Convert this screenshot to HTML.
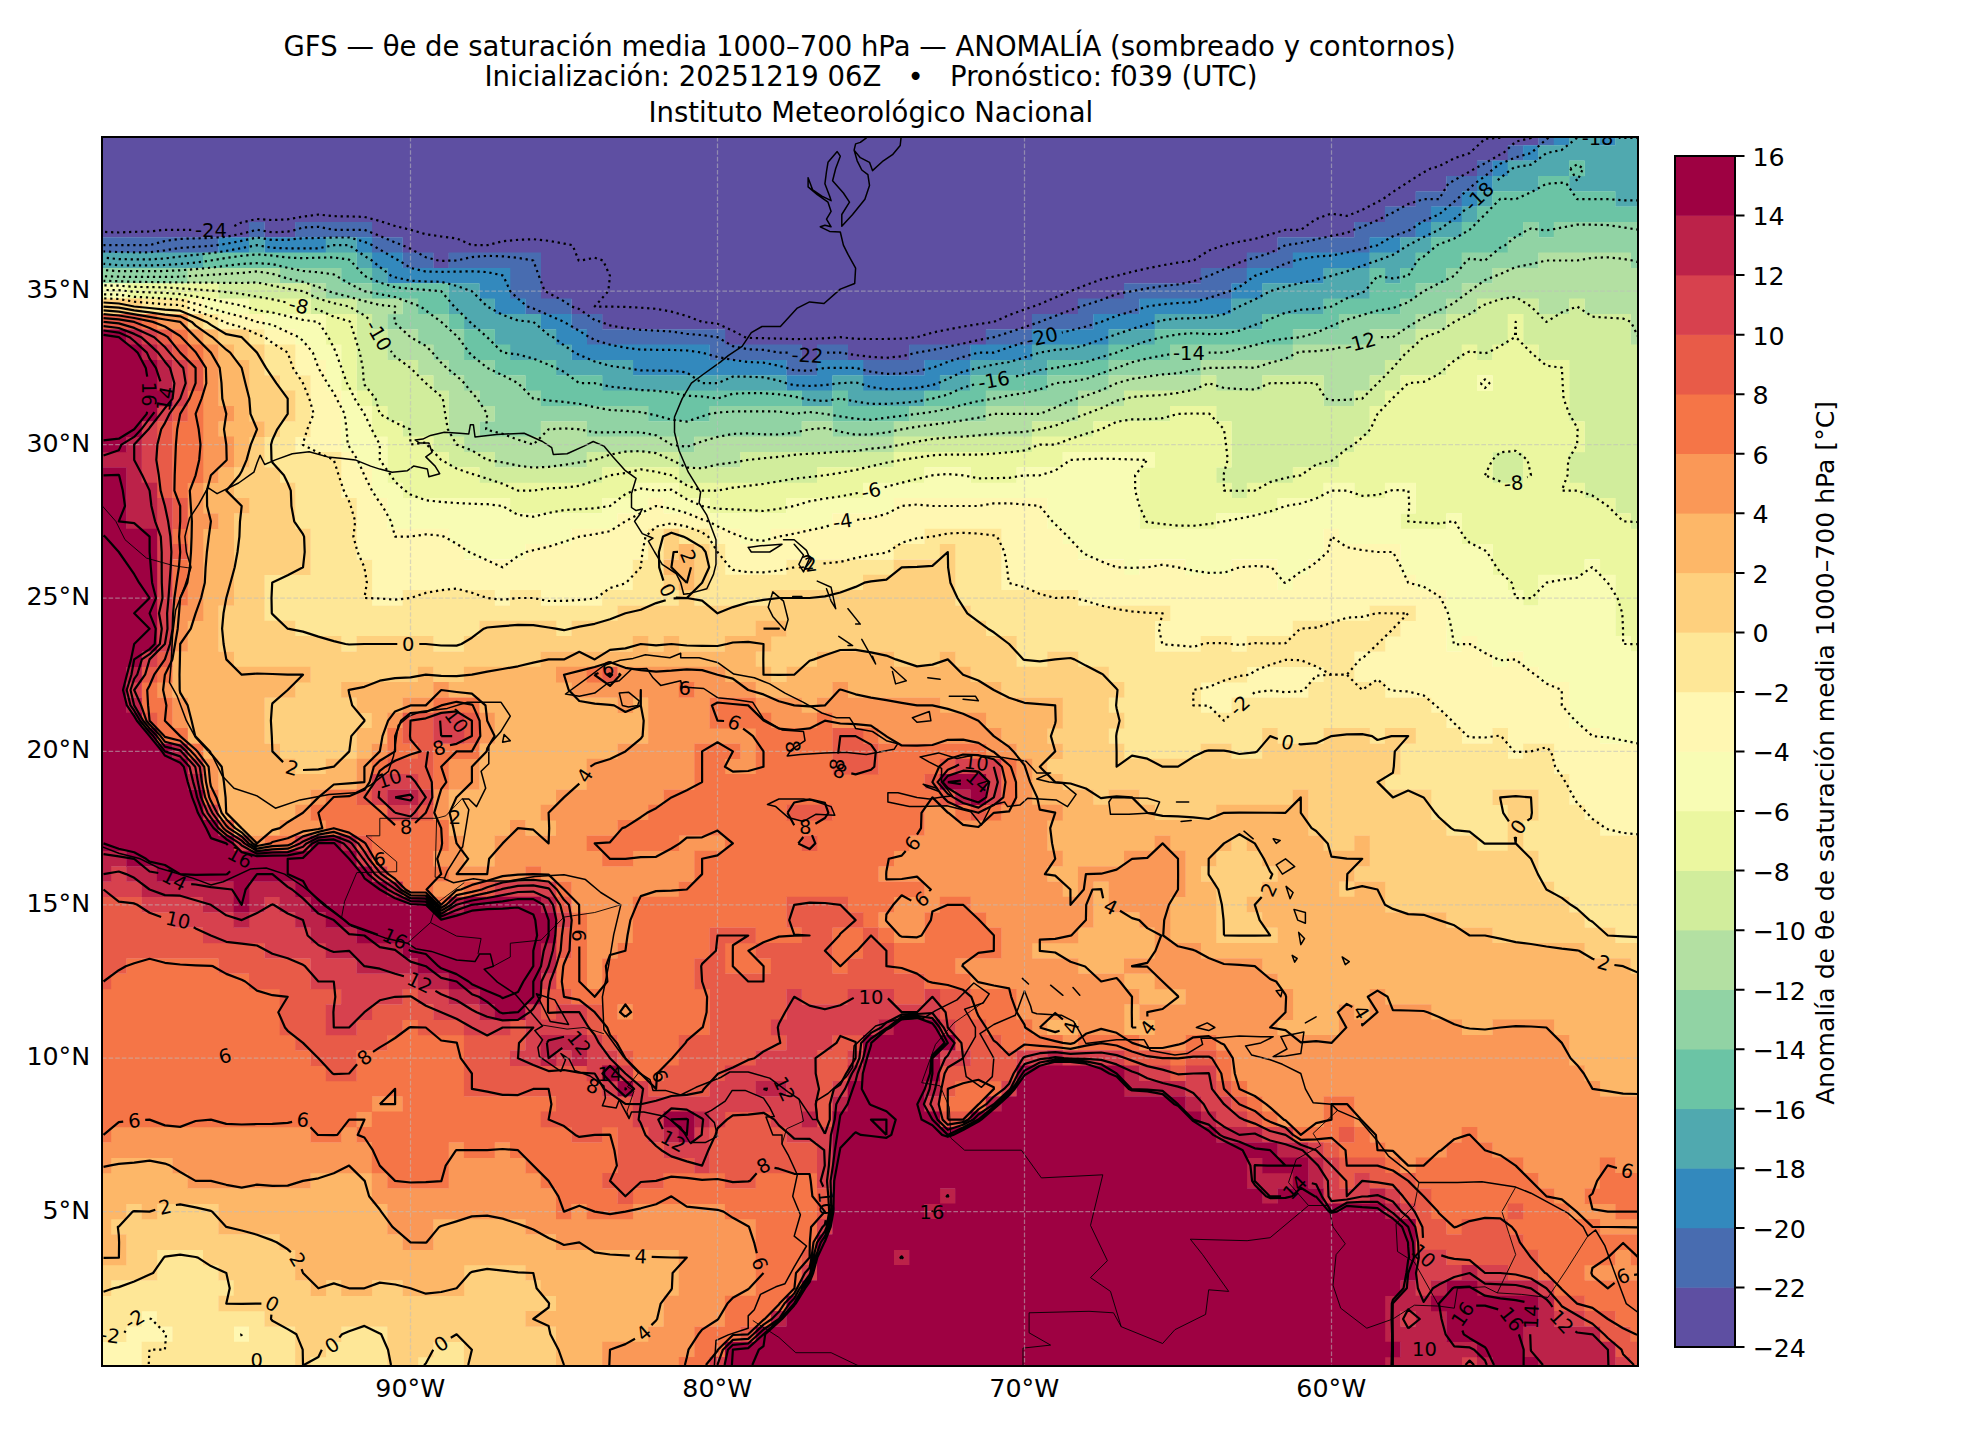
<!DOCTYPE html>
<html lang="es"><head><meta charset="utf-8"><title>GFS θe de saturación — anomalía</title>
<style>
html,body{margin:0;padding:0;background:#fff}
svg{display:block}
text{font-family:"DejaVu Sans","Liberation Sans",sans-serif;fill:#000}
.t{font-size:27.5px;text-anchor:middle;white-space:pre}
.k{font-size:25.3px}
.cl{font-size:19.5px;text-anchor:middle}
.cn{fill:none;stroke:#000;stroke-width:2.2;stroke-dasharray:2.25 3.75;stroke-linecap:butt;stroke-linejoin:round}
.cp{fill:none;stroke:#000;stroke-width:2.2;stroke-linejoin:round}
.coast{fill:none;stroke:#000;stroke-width:1.5;stroke-linejoin:round;stroke-linecap:round}
.bord{fill:none;stroke:#000;stroke-width:0.9;stroke-linejoin:round}
.grid{fill:none;stroke:#bdbdbd;stroke-opacity:.55;stroke-width:1.25;stroke-dasharray:4.6 2}
</style></head><body>
<svg width="1980" height="1440" viewBox="0 0 1980 1440">
<rect width="1980" height="1440" fill="#fff"/>
<text class="t" x="869.7" y="55.9" xml:space="preserve">GFS — θe de saturación media 1000–700 hPa — ANOMALÍA (sombreado y contornos)</text>
<text class="t" x="871" y="86.2" xml:space="preserve">Inicialización: 20251219 06Z   •   Pronóstico: f039 (UTC)</text>
<text class="t" x="870.8" y="122" xml:space="preserve">Instituto Meteorológico Nacional</text>
<defs><clipPath id="mc"><rect x="102.0" y="137.0" width="1536.0" height="1229.0"/></clipPath></defs>
<g clip-path="url(#mc)">
<path fill="#5e4fa2" d="M801.6 344.6H817.3V360.2H801.6ZM847.7 344.6H909.4V360.2H847.7ZM724.9 329.2H986.1V344.9H724.9ZM602.1 313.9H1032.2V329.6H602.1ZM571.4 298.6H1078.2V314.2H571.4ZM540.7 283.2H1124.3V298.9H540.7ZM540.7 267.9H1201V283.5H540.7ZM433.2 252.6H448.9V268.2H433.2ZM540.7 252.6H1247.1V268.2H540.7ZM402.5 237.2H1277.8V252.9H402.5ZM102 221.9H249.3V237.5H102ZM264.4 221.9H295.4V237.5H264.4ZM371.8 221.9H1354.5V237.5H371.8ZM102 206.5H1385.2V222.2H102ZM102 191.2H1415.9V206.8H102ZM102 175.9H1446.6V191.5H102ZM102 160.5H1477.3V176.2H102ZM102 145.2H1508V160.8H102ZM102 137H1538.7V145.5H102Z"/>
<path fill="#486cb0" d="M786.3 359.9H817.3V375.6H786.3ZM863 359.9H924.7V375.6H863ZM709.5 344.6H801.9V360.2H709.5ZM817 344.6H848V360.2H817ZM909.1 344.6H970.8V360.2H909.1ZM586.7 329.2H725.2V344.9H586.7ZM985.8 329.2H1032.2V344.9H985.8ZM571.4 313.9H602.4V329.6H571.4ZM1031.9 313.9H1093.6V329.6H1031.9ZM525.3 298.6H571.7V314.2H525.3ZM1077.9 298.6H1139.6V314.2H1077.9ZM510 283.2H541V298.9H510ZM1124 283.2H1231.7V298.9H1124ZM510 267.9H541V283.5H510ZM1200.7 267.9H1247.1V283.5H1200.7ZM402.5 252.6H433.5V268.2H402.5ZM448.6 252.6H541V268.2H448.6ZM1246.8 252.6H1293.1V268.2H1246.8ZM102 237.2H218.6V252.9H102ZM371.8 237.2H402.8V252.9H371.8ZM1277.5 237.2H1369.9V252.9H1277.5ZM249 221.9H264.7V237.5H249ZM295.1 221.9H372.1V237.5H295.1ZM1354.2 221.9H1415.9V237.5H1354.2ZM1384.9 206.5H1431.3V222.2H1384.9ZM1415.6 191.2H1462V206.8H1415.6ZM1446.3 175.9H1477.3V191.5H1446.3ZM1477 160.5H1492.7V176.2H1477ZM1507.7 145.2H1523.4V160.8H1507.7ZM1538.4 137H1554.1V145.5H1538.4Z"/>
<path fill="#3389bd" d="M786.3 375.3H832.6V390.9H786.3ZM863 375.3H940.1V390.9H863ZM632.8 359.9H786.6V375.6H632.8ZM817 359.9H863.3V375.6H817ZM924.4 359.9H970.8V375.6H924.4ZM571.4 344.6H709.8V360.2H571.4ZM970.5 344.6H1032.2V360.2H970.5ZM556 329.2H587V344.9H556ZM1031.9 329.2H1108.9V344.9H1031.9ZM540.7 313.9H571.7V329.6H540.7ZM1093.3 313.9H1155V329.6H1093.3ZM494.6 298.6H525.6V314.2H494.6ZM1139.3 298.6H1231.7V314.2H1139.3ZM479.3 283.2H510.3V298.9H479.3ZM1231.4 283.2H1262.4V298.9H1231.4ZM387.2 267.9H510.3V283.5H387.2ZM1246.8 267.9H1323.8V283.5H1246.8ZM371.8 252.6H402.8V268.2H371.8ZM1292.8 252.6H1369.9V268.2H1292.8ZM218.3 237.2H249.3V252.9H218.3ZM264.4 237.2H326.1V252.9H264.4ZM356.5 237.2H372.1V252.9H356.5ZM1369.6 237.2H1400.6V252.9H1369.6ZM1415.6 221.9H1431.3V237.5H1415.6ZM1431 206.5H1462V222.2H1431ZM1461.7 191.2H1477.3V206.8H1461.7ZM1477 175.9H1492.7V191.5H1477ZM1492.4 160.5H1508V176.2H1492.4ZM1523.1 145.2H1538.7V160.8H1523.1ZM1553.8 137H1569.4V145.5H1553.8ZM1599.8 137H1615.5V145.5H1599.8Z"/>
<path fill="#50a9af" d="M801.6 390.6H832.6V406.2H801.6ZM847.7 390.6H924.7V406.2H847.7ZM602.1 375.3H786.6V390.9H602.1ZM832.3 375.3H863.3V390.9H832.3ZM939.8 375.3H970.8V390.9H939.8ZM556 359.9H633.1V375.6H556ZM970.5 359.9H1047.5V375.6H970.5ZM510 344.6H571.7V360.2H510ZM1031.9 344.6H1108.9V360.2H1031.9ZM494.6 329.2H556.3V344.9H494.6ZM1108.6 329.2H1155V344.9H1108.6ZM463.9 313.9H541V329.6H463.9ZM1154.7 313.9H1262.4V329.6H1154.7ZM448.6 298.6H494.9V314.2H448.6ZM1231.4 298.6H1323.8V314.2H1231.4ZM448.6 283.2H479.6V298.9H448.6ZM1262.1 283.2H1369.9V298.9H1262.1ZM371.8 267.9H387.5V283.5H371.8ZM1323.5 267.9H1369.9V283.5H1323.5ZM1384.9 267.9H1400.6V283.5H1384.9ZM102 252.6H203.3V268.2H102ZM356.5 252.6H372.1V268.2H356.5ZM1369.6 252.6H1415.9V268.2H1369.6ZM249 237.2H264.7V252.9H249ZM325.8 237.2H356.8V252.9H325.8ZM1400.3 237.2H1431.3V252.9H1400.3ZM1431 221.9H1462V237.5H1431ZM1461.7 206.5H1477.3V222.2H1461.7ZM1477 191.2H1492.7V206.8H1477ZM1615.2 191.2H1638V206.8H1615.2ZM1492.4 175.9H1538.7V191.5H1492.4ZM1569.1 175.9H1638V191.5H1569.1ZM1507.7 160.5H1569.4V176.2H1507.7ZM1584.5 160.5H1638V176.2H1584.5ZM1538.4 145.2H1638V160.8H1538.4ZM1569.1 137H1600.1V145.5H1569.1ZM1615.2 137H1638V145.5H1615.2Z"/>
<path fill="#6bc4a5" d="M648.1 405.9H709.8V421.6H648.1ZM832.3 405.9H909.4V421.6H832.3ZM540.7 390.6H801.9V406.2H540.7ZM832.3 390.6H848V406.2H832.3ZM924.4 390.6H986.1V406.2H924.4ZM525.3 375.3H602.4V390.9H525.3ZM970.5 375.3H1047.5V390.9H970.5ZM494.6 359.9H556.3V375.6H494.6ZM1047.2 359.9H1108.9V375.6H1047.2ZM463.9 344.6H510.3V360.2H463.9ZM1108.6 344.6H1170.3V360.2H1108.6ZM463.9 329.2H494.9V344.9H463.9ZM1154.7 329.2H1293.1V344.9H1154.7ZM448.6 313.9H464.2V329.6H448.6ZM1262.1 313.9H1339.2V329.6H1262.1ZM417.9 298.6H448.9V314.2H417.9ZM1323.5 298.6H1400.6V314.2H1323.5ZM371.8 283.2H448.9V298.9H371.8ZM1369.6 283.2H1415.9V298.9H1369.6ZM341.1 267.9H372.1V283.5H341.1ZM1369.6 267.9H1385.2V283.5H1369.6ZM1400.3 267.9H1446.6V283.5H1400.3ZM203 252.6H356.8V268.2H203ZM1415.6 252.6H1462V268.2H1415.6ZM1431 237.2H1508V252.9H1431ZM1461.7 221.9H1523.4V237.5H1461.7ZM1538.4 221.9H1554.1V237.5H1538.4ZM1477 206.5H1638V222.2H1477ZM1492.4 191.2H1615.5V206.8H1492.4ZM1538.4 175.9H1569.4V191.5H1538.4ZM1569.1 160.5H1584.8V176.2H1569.1Z"/>
<path fill="#91d3a4" d="M678.8 436.6H694.5V452.3H678.8ZM479.3 421.3H541V436.9H479.3ZM586.7 421.3H801.9V436.9H586.7ZM832.3 421.3H894V436.9H832.3ZM494.6 405.9H648.4V421.6H494.6ZM709.5 405.9H832.6V421.6H709.5ZM909.1 405.9H986.1V421.6H909.1ZM479.3 390.6H541V406.2H479.3ZM985.8 390.6H1078.2V406.2H985.8ZM463.9 375.3H525.6V390.9H463.9ZM1047.2 375.3H1108.9V390.9H1047.2ZM448.6 359.9H494.9V375.6H448.6ZM1108.6 359.9H1201V375.6H1108.6ZM433.2 344.6H464.2V360.2H433.2ZM1170 344.6H1293.1V360.2H1170ZM417.9 329.2H464.2V344.9H417.9ZM1292.8 329.2H1369.9V344.9H1292.8ZM387.2 313.9H448.9V329.6H387.2ZM1338.9 313.9H1415.9V329.6H1338.9ZM402.5 298.6H418.2V314.2H402.5ZM1400.3 298.6H1446.6V314.2H1400.3ZM325.8 283.2H372.1V298.9H325.8ZM1415.6 283.2H1462V298.9H1415.6ZM102 267.9H187.9V283.5H102ZM279.7 267.9H341.4V283.5H279.7ZM1446.3 267.9H1492.7V283.5H1446.3ZM1461.7 252.6H1538.7V268.2H1461.7ZM1630.5 252.6H1638V268.2H1630.5ZM1507.7 237.2H1638V252.9H1507.7ZM1523.1 221.9H1538.7V237.5H1523.1ZM1553.8 221.9H1638V237.5H1553.8Z"/>
<path fill="#b3e0a2" d="M494.6 452H587V467.6H494.6ZM678.8 452H740.5V467.6H678.8ZM463.9 436.6H679.1V452.3H463.9ZM694.2 436.6H894V452.3H694.2ZM448.6 421.3H479.6V436.9H448.6ZM540.7 421.3H587V436.9H540.7ZM801.6 421.3H832.6V436.9H801.6ZM893.7 421.3H1032.2V436.9H893.7ZM448.6 405.9H494.9V421.6H448.6ZM985.8 405.9H1078.2V421.6H985.8ZM448.6 390.6H479.6V406.2H448.6ZM1077.9 390.6H1124.3V406.2H1077.9ZM1323.5 390.6H1354.5V406.2H1323.5ZM433.2 375.3H464.2V390.9H433.2ZM1108.6 375.3H1201V390.9H1108.6ZM1216.1 375.3H1262.4V390.9H1216.1ZM1323.5 375.3H1369.9V390.9H1323.5ZM417.9 359.9H448.9V375.6H417.9ZM1200.7 359.9H1385.2V375.6H1200.7ZM387.2 344.6H433.5V360.2H387.2ZM1292.8 344.6H1400.6V360.2H1292.8ZM387.2 329.2H418.2V344.9H387.2ZM1369.6 329.2H1415.9V344.9H1369.6ZM1630.5 329.2H1638V344.9H1630.5ZM371.8 313.9H387.5V329.6H371.8ZM1415.6 313.9H1446.6V329.6H1415.6ZM1630.5 313.9H1638V329.6H1630.5ZM356.5 298.6H402.8V314.2H356.5ZM1446.3 298.6H1477.3V314.2H1446.3ZM1538.4 298.6H1569.4V314.2H1538.4ZM1584.5 298.6H1638V314.2H1584.5ZM310.4 283.2H326.1V298.9H310.4ZM1461.7 283.2H1638V298.9H1461.7ZM187.6 267.9H280V283.5H187.6ZM1492.4 267.9H1638V283.5H1492.4ZM1538.4 252.6H1630.8V268.2H1538.4Z"/>
<path fill="#d1ed9c" d="M1630.5 513.3H1638V529H1630.5ZM1615.2 498H1638V513.6H1615.2ZM1231.4 482.7H1247.1V498.3H1231.4ZM1584.5 482.7H1638V498.3H1584.5ZM479.3 467.3H602.4V483H479.3ZM678.8 467.3H817.3V483H678.8ZM1216.1 467.3H1293.1V483H1216.1ZM1492.4 467.3H1523.4V483H1492.4ZM1569.1 467.3H1638V483H1569.1ZM448.6 452H494.9V467.6H448.6ZM586.7 452H679.1V467.6H586.7ZM740.2 452H894V467.6H740.2ZM1231.4 452H1339.2V467.6H1231.4ZM1492.4 452H1523.4V467.6H1492.4ZM1569.1 452H1638V467.6H1569.1ZM433.2 436.6H464.2V452.3H433.2ZM893.7 436.6H1032.2V452.3H893.7ZM1231.4 436.6H1354.5V452.3H1231.4ZM1584.5 436.6H1638V452.3H1584.5ZM402.5 421.3H448.9V436.9H402.5ZM1031.9 421.3H1093.6V436.9H1031.9ZM1231.4 421.3H1369.9V436.9H1231.4ZM1584.5 421.3H1638V436.9H1584.5ZM387.2 405.9H448.9V421.6H387.2ZM1077.9 405.9H1170.3V421.6H1077.9ZM1216.1 405.9H1369.9V421.6H1216.1ZM1569.1 405.9H1638V421.6H1569.1ZM371.8 390.6H448.9V406.2H371.8ZM1124 390.6H1323.8V406.2H1124ZM1354.2 390.6H1385.2V406.2H1354.2ZM1569.1 390.6H1638V406.2H1569.1ZM356.5 375.3H433.5V390.9H356.5ZM1200.7 375.3H1216.4V390.9H1200.7ZM1262.1 375.3H1323.8V390.9H1262.1ZM1369.6 375.3H1400.6V390.9H1369.6ZM1569.1 375.3H1638V390.9H1569.1ZM356.5 359.9H418.2V375.6H356.5ZM1384.9 359.9H1446.6V375.6H1384.9ZM1569.1 359.9H1638V375.6H1569.1ZM356.5 344.6H387.5V360.2H356.5ZM1400.3 344.6H1462V360.2H1400.3ZM1477 344.6H1492.7V360.2H1477ZM1538.4 344.6H1638V360.2H1538.4ZM356.5 329.2H387.5V344.9H356.5ZM1415.6 329.2H1508V344.9H1415.6ZM1523.1 329.2H1630.8V344.9H1523.1ZM356.5 313.9H372.1V329.6H356.5ZM1446.3 313.9H1508V329.6H1446.3ZM1523.1 313.9H1630.8V329.6H1523.1ZM310.4 298.6H356.8V314.2H310.4ZM1477 298.6H1538.7V314.2H1477ZM1569.1 298.6H1584.8V314.2H1569.1ZM218.3 283.2H310.7V298.9H218.3Z"/>
<path fill="#ebf7a0" d="M1630.5 636.1H1638V651.7H1630.5ZM1615.2 620.7H1638V636.4H1615.2ZM1615.2 605.4H1638V621H1615.2ZM1523.1 590H1538.7V605.7H1523.1ZM1615.2 590H1638V605.7H1615.2ZM1507.7 574.7H1538.7V590.3H1507.7ZM1615.2 574.7H1638V590.3H1615.2ZM1492.4 559.4H1584.8V575H1492.4ZM1599.8 559.4H1638V575H1599.8ZM1492.4 544H1638V559.6H1492.4ZM1461.7 528.7H1638V544.3H1461.7ZM1139.3 513.3H1216.4V529H1139.3ZM1400.3 513.3H1446.6V529H1400.3ZM1461.7 513.3H1630.8V529H1461.7ZM510 498H602.4V513.6H510ZM709.5 498H786.6V513.6H709.5ZM1139.3 498H1277.8V513.6H1139.3ZM1415.6 498H1615.5V513.6H1415.6ZM402.5 482.7H633.1V498.3H402.5ZM678.8 482.7H863.3V498.3H678.8ZM1139.3 482.7H1231.7V498.3H1139.3ZM1246.8 482.7H1323.8V498.3H1246.8ZM1354.2 482.7H1385.2V498.3H1354.2ZM1415.6 482.7H1584.8V498.3H1415.6ZM387.2 467.3H479.6V483H387.2ZM602.1 467.3H679.1V483H602.1ZM817 467.3H924.7V483H817ZM970.5 467.3H1016.8V483H970.5ZM1139.3 467.3H1216.4V483H1139.3ZM1292.8 467.3H1492.7V483H1292.8ZM1523.1 467.3H1569.4V483H1523.1ZM387.2 452H448.9V467.6H387.2ZM893.7 452H1062.9V467.6H893.7ZM1154.7 452H1231.7V467.6H1154.7ZM1338.9 452H1492.7V467.6H1338.9ZM1523.1 452H1569.4V467.6H1523.1ZM387.2 436.6H433.5V452.3H387.2ZM1031.9 436.6H1231.7V452.3H1031.9ZM1354.2 436.6H1584.8V452.3H1354.2ZM371.8 421.3H402.8V436.9H371.8ZM1093.3 421.3H1231.7V436.9H1093.3ZM1369.6 421.3H1584.8V436.9H1369.6ZM371.8 405.9H387.5V421.6H371.8ZM1170 405.9H1216.4V421.6H1170ZM1369.6 405.9H1569.4V421.6H1369.6ZM356.5 390.6H372.1V406.2H356.5ZM1384.9 390.6H1569.4V406.2H1384.9ZM341.1 375.3H356.8V390.9H341.1ZM1400.3 375.3H1477.3V390.9H1400.3ZM1492.4 375.3H1569.4V390.9H1492.4ZM341.1 359.9H356.8V375.6H341.1ZM1446.3 359.9H1569.4V375.6H1446.3ZM341.1 344.6H356.8V360.2H341.1ZM1461.7 344.6H1477.3V360.2H1461.7ZM1492.4 344.6H1538.7V360.2H1492.4ZM325.8 329.2H356.8V344.9H325.8ZM1507.7 329.2H1523.4V344.9H1507.7ZM325.8 313.9H356.8V329.6H325.8ZM1507.7 313.9H1523.4V329.6H1507.7ZM249 298.6H310.7V314.2H249ZM126.2 283.2H218.6V298.9H126.2Z"/>
<path fill="#f8fcb4" d="M1599.8 728.1H1638V743.7H1599.8ZM1569.1 712.8H1638V728.4H1569.1ZM1569.1 697.4H1638V713H1569.1ZM1569.1 682.1H1638V697.7H1569.1ZM1538.4 666.7H1638V682.4H1538.4ZM1492.4 651.4H1508V667H1492.4ZM1523.1 651.4H1638V667H1523.1ZM1446.3 636.1H1462V651.7H1446.3ZM1477 636.1H1630.8V651.7H1477ZM1446.3 620.7H1615.5V636.4H1446.3ZM1446.3 605.4H1615.5V621H1446.3ZM1446.3 590H1523.4V605.7H1446.3ZM1538.4 590H1615.5V605.7H1538.4ZM1277.5 574.7H1293.1V590.3H1277.5ZM1415.6 574.7H1508V590.3H1415.6ZM1538.4 574.7H1615.5V590.3H1538.4ZM1124 559.4H1139.6V575H1124ZM1185.4 559.4H1231.7V575H1185.4ZM1277.5 559.4H1308.5V575H1277.5ZM1400.3 559.4H1492.7V575H1400.3ZM1584.5 559.4H1600.1V575H1584.5ZM463.9 544H525.6V559.6H463.9ZM1077.9 544H1323.8V559.6H1077.9ZM1400.3 544H1492.7V559.6H1400.3ZM448.6 528.7H571.7V544.3H448.6ZM740.2 528.7H771.2V544.3H740.2ZM1062.6 528.7H1323.8V544.3H1062.6ZM1338.9 528.7H1462V544.3H1338.9ZM387.2 513.3H617.7V529H387.2ZM709.5 513.3H832.6V529H709.5ZM1047.2 513.3H1139.6V529H1047.2ZM1216.1 513.3H1400.6V529H1216.1ZM1446.3 513.3H1462V529H1446.3ZM387.2 498H510.3V513.6H387.2ZM602.1 498H648.4V513.6H602.1ZM663.5 498H709.8V513.6H663.5ZM786.3 498H894V513.6H786.3ZM1047.2 498H1139.6V513.6H1047.2ZM1277.5 498H1415.9V513.6H1277.5ZM371.8 482.7H402.8V498.3H371.8ZM632.8 482.7H679.1V498.3H632.8ZM863 482.7H1139.6V498.3H863ZM1323.5 482.7H1354.5V498.3H1323.5ZM1384.9 482.7H1415.9V498.3H1384.9ZM371.8 467.3H387.5V483H371.8ZM924.4 467.3H970.8V483H924.4ZM1016.5 467.3H1139.6V483H1016.5ZM356.5 452H387.5V467.6H356.5ZM1062.6 452H1155V467.6H1062.6ZM341.1 436.6H387.5V452.3H341.1ZM341.1 421.3H372.1V436.9H341.1ZM341.1 405.9H372.1V421.6H341.1ZM341.1 390.6H356.8V406.2H341.1ZM325.8 375.3H341.4V390.9H325.8ZM1477 375.3H1492.7V390.9H1477ZM325.8 359.9H341.4V375.6H325.8ZM310.4 344.6H341.4V360.2H310.4ZM295.1 329.2H326.1V344.9H295.1ZM264.4 313.9H326.1V329.6H264.4ZM203 298.6H249.3V314.2H203ZM102 283.2H126.5V298.9H102Z"/>
<path fill="#fff7b2" d="M102 1357H141.9V1366H102ZM102 1341.7H141.9V1357.3H102ZM126.2 1326.4H172.6V1342H126.2ZM233.7 1326.4H249.3V1342H233.7ZM141.6 1311H157.2V1326.7H141.6ZM1599.8 820.1H1638V835.8H1599.8ZM1584.5 804.8H1638V820.4H1584.5ZM1569.1 789.5H1638V805.1H1569.1ZM1569.1 774.1H1638V789.8H1569.1ZM1553.8 758.8H1638V774.4H1553.8ZM1507.7 743.4H1523.4V759.1H1507.7ZM1553.8 743.4H1638V759.1H1553.8ZM1461.7 728.1H1492.7V743.7H1461.7ZM1507.7 728.1H1600.1V743.7H1507.7ZM1446.3 712.8H1569.4V728.4H1446.3ZM1200.7 697.4H1231.7V713H1200.7ZM1431 697.4H1569.4V713H1431ZM1200.7 682.1H1308.5V697.7H1200.7ZM1384.9 682.1H1569.4V697.7H1384.9ZM1246.8 666.7H1323.8V682.4H1246.8ZM1354.2 666.7H1538.7V682.4H1354.2ZM1354.2 651.4H1492.7V667H1354.2ZM1507.7 651.4H1523.4V667H1507.7ZM1154.7 636.1H1201V651.7H1154.7ZM1231.4 636.1H1247.1V651.7H1231.4ZM1384.9 636.1H1446.6V651.7H1384.9ZM1461.7 636.1H1477.3V651.7H1461.7ZM1154.7 620.7H1293.1V636.4H1154.7ZM1400.3 620.7H1446.6V636.4H1400.3ZM1170 605.4H1369.9V621H1170ZM1415.6 605.4H1446.6V621H1415.6ZM371.8 590H402.8V605.7H371.8ZM494.6 590H510.3V605.7H494.6ZM540.7 590H602.4V605.7H540.7ZM1077.9 590H1446.6V605.7H1077.9ZM371.8 574.7H633.1V590.3H371.8ZM1001.2 574.7H1277.8V590.3H1001.2ZM1292.8 574.7H1415.9V590.3H1292.8ZM371.8 559.4H633.1V575H371.8ZM724.9 559.4H786.6V575H724.9ZM1001.2 559.4H1124.3V575H1001.2ZM1139.3 559.4H1185.7V575H1139.3ZM1231.4 559.4H1277.8V575H1231.4ZM1308.2 559.4H1400.6V575H1308.2ZM356.5 544H464.2V559.6H356.5ZM525.3 544H648.4V559.6H525.3ZM724.9 544H894V559.6H724.9ZM1001.2 544H1078.2V559.6H1001.2ZM1323.5 544H1400.6V559.6H1323.5ZM356.5 528.7H448.9V544.3H356.5ZM571.4 528.7H648.4V544.3H571.4ZM709.5 528.7H740.5V544.3H709.5ZM770.9 528.7H924.7V544.3H770.9ZM1001.2 528.7H1062.9V544.3H1001.2ZM1323.5 528.7H1339.2V544.3H1323.5ZM356.5 513.3H387.5V529H356.5ZM617.4 513.3H709.8V529H617.4ZM832.3 513.3H1047.5V529H832.3ZM356.5 498H387.5V513.6H356.5ZM648.1 498H663.8V513.6H648.1ZM893.7 498H1047.5V513.6H893.7ZM341.1 482.7H372.1V498.3H341.1ZM341.1 467.3H372.1V483H341.1ZM341.1 452H356.8V467.6H341.1ZM295.1 436.6H341.4V452.3H295.1ZM310.4 421.3H341.4V436.9H310.4ZM310.4 405.9H341.4V421.6H310.4ZM310.4 390.6H341.4V406.2H310.4ZM310.4 375.3H326.1V390.9H310.4ZM295.1 359.9H326.1V375.6H295.1ZM295.1 344.6H310.7V360.2H295.1ZM264.4 329.2H295.4V344.9H264.4ZM218.3 313.9H264.7V329.6H218.3ZM187.6 298.6H203.3V314.2H187.6Z"/>
<path fill="#fee797" d="M141.6 1357H295.4V1366H141.6ZM310.4 1357H387.5V1366H310.4ZM417.9 1357H464.2V1366H417.9ZM141.6 1341.7H295.4V1357.3H141.6ZM325.8 1341.7H387.5V1357.3H325.8ZM433.2 1341.7H464.2V1357.3H433.2ZM102 1326.4H126.5V1342H102ZM172.3 1326.4H234V1342H172.3ZM249 1326.4H295.4V1342H249ZM341.1 1326.4H387.5V1342H341.1ZM102 1311H141.9V1326.7H102ZM156.9 1311H264.7V1326.7H156.9ZM102 1295.7H218.6V1311.3H102ZM110.9 1280.3H234V1296H110.9ZM156.9 1265H218.6V1280.6H156.9ZM156.9 1249.7H203.3V1265.3H156.9ZM1615.2 927.5H1638V943.2H1615.2ZM1584.5 912.2H1638V927.8H1584.5ZM1569.1 896.8H1638V912.5H1569.1ZM1553.8 881.5H1638V897.1H1553.8ZM1538.4 866.2H1638V881.8H1538.4ZM1538.4 850.8H1638V866.5H1538.4ZM1477 835.5H1508V851.1H1477ZM1523.1 835.5H1638V851.1H1523.1ZM1446.3 820.1H1508V835.8H1446.3ZM1523.1 820.1H1600.1V835.8H1523.1ZM1431 804.8H1508V820.4H1431ZM1538.4 804.8H1584.8V820.4H1538.4ZM1431 789.5H1492.7V805.1H1431ZM1538.4 789.5H1569.4V805.1H1538.4ZM1384.9 774.1H1569.4V789.8H1384.9ZM1400.3 758.8H1554.1V774.4H1400.3ZM1124 743.4H1201V759.1H1124ZM1231.4 743.4H1262.4V759.1H1231.4ZM1400.3 743.4H1508V759.1H1400.3ZM1523.1 743.4H1554.1V759.1H1523.1ZM1108.6 728.1H1262.4V743.7H1108.6ZM1277.5 728.1H1323.8V743.7H1277.5ZM1369.6 728.1H1385.2V743.7H1369.6ZM1415.6 728.1H1462V743.7H1415.6ZM1492.4 728.1H1508V743.7H1492.4ZM1124 712.8H1446.6V728.4H1124ZM1108.6 697.4H1201V713H1108.6ZM1231.4 697.4H1431.3V713H1231.4ZM1124 682.1H1201V697.7H1124ZM1308.2 682.1H1385.2V697.7H1308.2ZM1108.6 666.7H1247.1V682.4H1108.6ZM1323.5 666.7H1354.5V682.4H1323.5ZM1016.5 651.4H1047.5V667H1016.5ZM1077.9 651.4H1354.5V667H1077.9ZM341.1 636.1H356.8V651.7H341.1ZM433.2 636.1H464.2V651.7H433.2ZM1016.5 636.1H1155V651.7H1016.5ZM1200.7 636.1H1231.7V651.7H1200.7ZM1246.8 636.1H1385.2V651.7H1246.8ZM295.1 620.7H479.6V636.4H295.1ZM556 620.7H571.7V636.4H556ZM985.8 620.7H1155V636.4H985.8ZM1292.8 620.7H1400.6V636.4H1292.8ZM264.4 605.4H617.7V621H264.4ZM970.5 605.4H1170.3V621H970.5ZM1369.6 605.4H1415.9V621H1369.6ZM264.4 590H372.1V605.7H264.4ZM402.5 590H494.9V605.7H402.5ZM510 590H541V605.7H510ZM602.1 590H679.1V605.7H602.1ZM694.2 590H771.2V605.7H694.2ZM955.1 590H1078.2V605.7H955.1ZM264.4 574.7H372.1V590.3H264.4ZM632.8 574.7H663.8V590.3H632.8ZM709.5 574.7H863.3V590.3H709.5ZM955.1 574.7H1001.5V590.3H955.1ZM310.4 559.4H372.1V575H310.4ZM632.8 559.4H663.8V575H632.8ZM709.5 559.4H725.2V575H709.5ZM786.3 559.4H894V575H786.3ZM955.1 559.4H1001.5V575H955.1ZM310.4 544H356.8V559.6H310.4ZM648.1 544H663.8V559.6H648.1ZM709.5 544H725.2V559.6H709.5ZM893.7 544H940.1V559.6H893.7ZM955.1 544H1001.5V559.6H955.1ZM310.4 528.7H356.8V544.3H310.4ZM648.1 528.7H663.8V544.3H648.1ZM678.8 528.7H709.8V544.3H678.8ZM924.4 528.7H1001.5V544.3H924.4ZM295.1 513.3H356.8V529H295.1ZM295.1 498H356.8V513.6H295.1ZM295.1 482.7H341.4V498.3H295.1ZM279.7 467.3H341.4V483H279.7ZM264.4 452H341.4V467.6H264.4ZM264.4 436.6H295.4V452.3H264.4ZM279.7 421.3H310.7V436.9H279.7ZM295.1 405.9H310.7V421.6H295.1ZM295.1 390.6H310.7V406.2H295.1ZM279.7 375.3H310.7V390.9H279.7ZM264.4 359.9H295.4V375.6H264.4ZM264.4 344.6H295.4V360.2H264.4ZM249 329.2H264.7V344.9H249ZM203 313.9H218.6V329.6H203ZM141.6 298.6H187.9V314.2H141.6Z"/>
<path fill="#fed07e" d="M295.1 1357H310.7V1366H295.1ZM387.2 1357H418.2V1366H387.2ZM463.9 1357H556.3V1366H463.9ZM295.1 1341.7H326.1V1357.3H295.1ZM387.2 1341.7H433.5V1357.3H387.2ZM463.9 1341.7H556.3V1357.3H463.9ZM295.1 1326.4H341.4V1342H295.1ZM387.2 1326.4H556.3V1342H387.2ZM264.4 1311H525.6V1326.7H264.4ZM218.3 1295.7H556.3V1311.3H218.3ZM102 1280.3H111.2V1296H102ZM233.7 1280.3H310.7V1296H233.7ZM325.8 1280.3H341.4V1296H325.8ZM371.8 1280.3H402.8V1296H371.8ZM463.9 1280.3H541V1296H463.9ZM102 1265H157.2V1280.6H102ZM218.3 1265H295.4V1280.6H218.3ZM463.9 1265H525.6V1280.6H463.9ZM126.2 1249.7H157.2V1265.3H126.2ZM203 1249.7H295.4V1265.3H203ZM126.2 1234.3H280V1250H126.2ZM110.9 1219H218.6V1234.6H110.9ZM126.2 1203.6H141.9V1219.3H126.2ZM156.9 1203.6H218.6V1219.3H156.9ZM1630.5 958.2H1638V973.8H1630.5ZM1584.5 942.9H1638V958.5H1584.5ZM1216.1 927.5H1277.8V943.2H1216.1ZM1492.4 927.5H1615.5V943.2H1492.4ZM1216.1 912.2H1262.4V927.8H1216.1ZM1446.3 912.2H1584.8V927.8H1446.3ZM1216.1 896.8H1247.1V912.5H1216.1ZM1384.9 896.8H1569.4V912.5H1384.9ZM1216.1 881.5H1262.4V897.1H1216.1ZM1338.9 881.5H1354.5V897.1H1338.9ZM1384.9 881.5H1554.1V897.1H1384.9ZM1200.7 866.2H1277.8V881.8H1200.7ZM1354.2 866.2H1538.7V881.8H1354.2ZM1216.1 850.8H1262.4V866.5H1216.1ZM1369.6 850.8H1538.7V866.5H1369.6ZM1231.4 835.5H1247.1V851.1H1231.4ZM1323.5 835.5H1354.5V851.1H1323.5ZM1369.6 835.5H1477.3V851.1H1369.6ZM1507.7 835.5H1523.4V851.1H1507.7ZM1308.2 820.1H1446.6V835.8H1308.2ZM1507.7 820.1H1523.4V835.8H1507.7ZM1154.7 804.8H1216.4V820.4H1154.7ZM1308.2 804.8H1431.3V820.4H1308.2ZM1507.7 804.8H1538.7V820.4H1507.7ZM1093.3 789.5H1108.9V805.1H1093.3ZM1139.3 789.5H1293.1V805.1H1139.3ZM1308.2 789.5H1431.3V805.1H1308.2ZM1492.4 789.5H1538.7V805.1H1492.4ZM1062.6 774.1H1385.2V789.8H1062.6ZM295.1 758.8H326.1V774.4H295.1ZM1047.2 758.8H1400.6V774.4H1047.2ZM279.7 743.4H356.8V759.1H279.7ZM1062.6 743.4H1124.3V759.1H1062.6ZM1200.7 743.4H1231.7V759.1H1200.7ZM1262.1 743.4H1400.6V759.1H1262.1ZM264.4 728.1H356.8V743.7H264.4ZM1047.2 728.1H1108.9V743.7H1047.2ZM1262.1 728.1H1277.8V743.7H1262.1ZM1323.5 728.1H1369.9V743.7H1323.5ZM1384.9 728.1H1415.9V743.7H1384.9ZM264.4 712.8H372.1V728.4H264.4ZM1062.6 712.8H1124.3V728.4H1062.6ZM264.4 697.4H356.8V713H264.4ZM1062.6 697.4H1108.9V713H1062.6ZM295.1 682.1H341.4V697.7H295.1ZM1001.2 682.1H1124.3V697.7H1001.2ZM310.4 666.7H418.2V682.4H310.4ZM433.2 666.7H464.2V682.4H433.2ZM770.9 666.7H786.6V682.4H770.9ZM970.5 666.7H1108.9V682.4H970.5ZM233.7 651.4H541V667H233.7ZM755.6 651.4H817.3V667H755.6ZM893.7 651.4H940.1V667H893.7ZM955.1 651.4H1016.8V667H955.1ZM1047.2 651.4H1078.2V667H1047.2ZM218.3 636.1H341.4V651.7H218.3ZM356.5 636.1H433.5V651.7H356.5ZM463.9 636.1H633.1V651.7H463.9ZM648.1 636.1H663.8V651.7H648.1ZM678.8 636.1H725.2V651.7H678.8ZM770.9 636.1H1016.8V651.7H770.9ZM218.3 620.7H295.4V636.4H218.3ZM479.3 620.7H556.3V636.4H479.3ZM571.4 620.7H755.9V636.4H571.4ZM786.3 620.7H986.1V636.4H786.3ZM218.3 605.4H264.7V621H218.3ZM617.4 605.4H970.8V621H617.4ZM233.7 590H264.7V605.7H233.7ZM678.8 590H694.5V605.7H678.8ZM770.9 590H955.4V605.7H770.9ZM233.7 574.7H264.7V590.3H233.7ZM663.5 574.7H679.1V590.3H663.5ZM694.2 574.7H709.8V590.3H694.2ZM863 574.7H955.4V590.3H863ZM233.7 559.4H310.7V575H233.7ZM694.2 559.4H709.8V575H694.2ZM893.7 559.4H955.4V575H893.7ZM233.7 544H310.7V559.6H233.7ZM663.5 544H679.1V559.6H663.5ZM694.2 544H709.8V559.6H694.2ZM939.8 544H955.4V559.6H939.8ZM233.7 528.7H310.7V544.3H233.7ZM663.5 528.7H679.1V544.3H663.5ZM233.7 513.3H295.4V529H233.7ZM249 498H295.4V513.6H249ZM233.7 482.7H295.4V498.3H233.7ZM233.7 467.3H280V483H233.7ZM249 452H264.7V467.6H249ZM249 436.6H264.7V452.3H249ZM264.4 421.3H280V436.9H264.4ZM249 405.9H295.4V421.6H249ZM249 390.6H295.4V406.2H249ZM249 375.3H280V390.9H249ZM249 359.9H264.7V375.6H249ZM233.7 344.6H264.7V360.2H233.7ZM218.3 329.2H249.3V344.9H218.3ZM187.6 313.9H203.3V329.6H187.6ZM102 298.6H141.9V314.2H102Z"/>
<path fill="#fdb768" d="M556 1357H602.4V1366H556ZM556 1341.7H602.4V1357.3H556ZM556 1326.4H648.4V1342H556ZM525.3 1311H663.8V1326.7H525.3ZM556 1295.7H663.8V1311.3H556ZM310.4 1280.3H326.1V1296H310.4ZM341.1 1280.3H372.1V1296H341.1ZM402.5 1280.3H464.2V1296H402.5ZM540.7 1280.3H679.1V1296H540.7ZM295.1 1265H464.2V1280.6H295.1ZM525.3 1265H679.1V1280.6H525.3ZM102 1249.7H126.5V1265.3H102ZM295.1 1249.7H679.1V1265.3H295.1ZM102 1234.3H126.5V1250H102ZM279.7 1234.3H402.8V1250H279.7ZM433.2 1234.3H556.3V1250H433.2ZM102 1219H111.2V1234.6H102ZM218.3 1219H387.5V1234.6H218.3ZM433.2 1219H525.6V1234.6H433.2ZM102 1203.6H126.5V1219.3H102ZM141.6 1203.6H157.2V1219.3H141.6ZM218.3 1203.6H387.5V1219.3H218.3ZM102 1188.3H372.1V1203.9H102ZM102 1173H187.9V1188.6H102ZM310.4 1173H372.1V1188.6H310.4ZM110.9 1157.6H172.6V1173.2H110.9ZM1599.8 1080.9H1638V1096.6H1599.8ZM1584.5 1065.6H1638V1081.2H1584.5ZM1569.1 1050.2H1638V1065.9H1569.1ZM1569.1 1034.9H1638V1050.5H1569.1ZM1047.2 1019.6H1078.2V1035.2H1047.2ZM1124 1019.6H1155V1035.2H1124ZM1277.5 1019.6H1339.2V1035.2H1277.5ZM1461.7 1019.6H1492.7V1035.2H1461.7ZM1553.8 1019.6H1638V1035.2H1553.8ZM1124 1004.2H1139.6V1019.9H1124ZM1292.8 1004.2H1339.2V1019.9H1292.8ZM1354.2 1004.2H1369.9V1019.9H1354.2ZM1431 1004.2H1638V1019.9H1431ZM1139.3 988.9H1185.7V1004.5H1139.3ZM1292.8 988.9H1369.9V1004.5H1292.8ZM1384.9 988.9H1638V1004.5H1384.9ZM1124 973.5H1155V989.2H1124ZM1277.5 973.5H1638V989.2H1277.5ZM1077.9 958.2H1124.3V973.8H1077.9ZM1262.1 958.2H1630.8V973.8H1262.1ZM1031.9 942.9H1155V958.5H1031.9ZM1200.7 942.9H1584.8V958.5H1200.7ZM1077.9 927.5H1155V943.2H1077.9ZM1170 927.5H1216.4V943.2H1170ZM1277.5 927.5H1492.7V943.2H1277.5ZM1093.3 912.2H1139.6V927.8H1093.3ZM1170 912.2H1216.4V927.8H1170ZM1262.1 912.2H1446.6V927.8H1262.1ZM1093.3 896.8H1108.9V912.5H1093.3ZM1170 896.8H1216.4V912.5H1170ZM1246.8 896.8H1385.2V912.5H1246.8ZM1062.6 881.5H1078.2V897.1H1062.6ZM1093.3 881.5H1108.9V897.1H1093.3ZM1185.4 881.5H1216.4V897.1H1185.4ZM1262.1 881.5H1339.2V897.1H1262.1ZM1354.2 881.5H1385.2V897.1H1354.2ZM1047.2 866.2H1078.2V881.8H1047.2ZM1185.4 866.2H1201V881.8H1185.4ZM1277.5 866.2H1354.5V881.8H1277.5ZM463.9 850.8H494.9V866.5H463.9ZM1062.6 850.8H1124.3V866.5H1062.6ZM1185.4 850.8H1216.4V866.5H1185.4ZM1262.1 850.8H1369.9V866.5H1262.1ZM463.9 835.5H494.9V851.1H463.9ZM1047.2 835.5H1155V851.1H1047.2ZM1170 835.5H1231.7V851.1H1170ZM1246.8 835.5H1323.8V851.1H1246.8ZM1354.2 835.5H1369.9V851.1H1354.2ZM233.7 820.1H280V835.8H233.7ZM448.6 820.1H510.3V835.8H448.6ZM525.3 820.1H556.3V835.8H525.3ZM1047.2 820.1H1308.5V835.8H1047.2ZM218.3 804.8H295.4V820.4H218.3ZM448.6 804.8H541V820.4H448.6ZM1062.6 804.8H1155V820.4H1062.6ZM1216.1 804.8H1308.5V820.4H1216.1ZM218.3 789.5H310.7V805.1H218.3ZM448.6 789.5H556.3V805.1H448.6ZM1031.9 789.5H1093.6V805.1H1031.9ZM1108.6 789.5H1139.6V805.1H1108.6ZM1292.8 789.5H1308.5V805.1H1292.8ZM218.3 774.1H356.8V789.8H218.3ZM479.3 774.1H587V789.8H479.3ZM1031.9 774.1H1062.9V789.8H1031.9ZM218.3 758.8H295.4V774.4H218.3ZM325.8 758.8H356.8V774.4H325.8ZM479.3 758.8H587V774.4H479.3ZM1031.9 758.8H1047.5V774.4H1031.9ZM203 743.4H280V759.1H203ZM356.5 743.4H372.1V759.1H356.5ZM479.3 743.4H617.7V759.1H479.3ZM1016.5 743.4H1062.9V759.1H1016.5ZM187.6 728.1H264.7V743.7H187.6ZM356.5 728.1H387.5V743.7H356.5ZM494.6 728.1H648.4V743.7H494.6ZM1001.2 728.1H1047.5V743.7H1001.2ZM187.6 712.8H264.7V728.4H187.6ZM371.8 712.8H387.5V728.4H371.8ZM494.6 712.8H648.4V728.4H494.6ZM985.8 712.8H1062.9V728.4H985.8ZM187.6 697.4H264.7V713H187.6ZM356.5 697.4H402.8V713H356.5ZM479.3 697.4H617.7V713H479.3ZM632.8 697.4H648.4V713H632.8ZM801.6 697.4H817.3V713H801.6ZM939.8 697.4H1062.9V713H939.8ZM172.3 682.1H295.4V697.7H172.3ZM341.1 682.1H433.5V697.7H341.1ZM448.6 682.1H571.7V697.7H448.6ZM755.6 682.1H832.6V697.7H755.6ZM847.7 682.1H1001.5V697.7H847.7ZM172.3 666.7H310.7V682.4H172.3ZM417.9 666.7H433.5V682.4H417.9ZM463.9 666.7H556.3V682.4H463.9ZM724.9 666.7H771.2V682.4H724.9ZM786.3 666.7H970.8V682.4H786.3ZM172.3 651.4H234V667H172.3ZM540.7 651.4H755.9V667H540.7ZM817 651.4H894V667H817ZM939.8 651.4H955.4V667H939.8ZM187.6 636.1H218.6V651.7H187.6ZM632.8 636.1H648.4V651.7H632.8ZM663.5 636.1H679.1V651.7H663.5ZM724.9 636.1H771.2V651.7H724.9ZM187.6 620.7H218.6V636.4H187.6ZM755.6 620.7H786.6V636.4H755.6ZM203 605.4H218.6V621H203ZM203 590H234V605.7H203ZM203 574.7H234V590.3H203ZM678.8 574.7H694.5V590.3H678.8ZM203 559.4H234V575H203ZM663.5 559.4H694.5V575H663.5ZM203 544H234V559.6H203ZM678.8 544H694.5V559.6H678.8ZM203 528.7H234V544.3H203ZM218.3 513.3H234V529H218.3ZM203 498H249.3V513.6H203ZM203 482.7H234V498.3H203ZM218.3 467.3H234V483H218.3ZM233.7 452H249.3V467.6H233.7ZM233.7 436.6H249.3V452.3H233.7ZM218.3 421.3H264.7V436.9H218.3ZM233.7 405.9H249.3V421.6H233.7ZM218.3 390.6H249.3V406.2H218.3ZM218.3 375.3H249.3V390.9H218.3ZM218.3 359.9H249.3V375.6H218.3ZM218.3 344.6H234V360.2H218.3ZM203 329.2H218.6V344.9H203Z"/>
<path fill="#fa9857" d="M602.1 1357H679.1V1366H602.1ZM602.1 1341.7H694.5V1357.3H602.1ZM648.1 1326.4H694.5V1342H648.1ZM663.5 1311H725.2V1326.7H663.5ZM663.5 1295.7H725.2V1311.3H663.5ZM678.8 1280.3H755.9V1296H678.8ZM678.8 1265H755.9V1280.6H678.8ZM1584.5 1265H1638V1280.6H1584.5ZM678.8 1249.7H755.9V1265.3H678.8ZM1615.2 1249.7H1630.8V1265.3H1615.2ZM402.5 1234.3H433.5V1250H402.5ZM556 1234.3H755.9V1250H556ZM387.2 1219H433.5V1234.6H387.2ZM525.3 1219H755.9V1234.6H525.3ZM1599.8 1219H1638V1234.6H1599.8ZM387.2 1203.6H556.3V1219.3H387.2ZM571.4 1203.6H587V1219.3H571.4ZM632.8 1203.6H725.2V1219.3H632.8ZM1569.1 1203.6H1615.5V1219.3H1569.1ZM371.8 1188.3H556.3V1203.9H371.8ZM1553.8 1188.3H1584.8V1203.9H1553.8ZM187.6 1173H310.7V1188.6H187.6ZM371.8 1173H387.5V1188.6H371.8ZM448.6 1173H541V1188.6H448.6ZM1538.4 1173H1600.1V1188.6H1538.4ZM102 1157.6H111.2V1173.2H102ZM172.3 1157.6H372.1V1173.2H172.3ZM448.6 1157.6H525.6V1173.2H448.6ZM1400.3 1157.6H1415.9V1173.2H1400.3ZM1523.1 1157.6H1600.1V1173.2H1523.1ZM1615.2 1157.6H1638V1173.2H1615.2ZM102 1142.3H372.1V1157.9H102ZM448.6 1142.3H464.2V1157.9H448.6ZM494.6 1142.3H510.3V1157.9H494.6ZM1384.9 1142.3H1446.6V1157.9H1384.9ZM1492.4 1142.3H1638V1157.9H1492.4ZM110.9 1126.9H310.7V1142.6H110.9ZM341.1 1126.9H356.8V1142.6H341.1ZM1369.6 1126.9H1462V1142.6H1369.6ZM1477 1126.9H1638V1142.6H1477ZM356.5 1111.6H372.1V1127.2H356.5ZM1277.5 1111.6H1323.8V1127.2H1277.5ZM1354.2 1111.6H1638V1127.2H1354.2ZM371.8 1096.3H402.8V1111.9H371.8ZM1262.1 1096.3H1323.8V1111.9H1262.1ZM1354.2 1096.3H1638V1111.9H1354.2ZM1246.8 1080.9H1600.1V1096.6H1246.8ZM1231.4 1065.6H1584.8V1081.2H1231.4ZM1231.4 1050.2H1569.4V1065.9H1231.4ZM1062.6 1034.9H1078.2V1050.5H1062.6ZM1139.3 1034.9H1185.7V1050.5H1139.3ZM1216.1 1034.9H1569.4V1050.5H1216.1ZM1031.9 1019.6H1047.5V1035.2H1031.9ZM1077.9 1019.6H1124.3V1035.2H1077.9ZM1154.7 1019.6H1277.8V1035.2H1154.7ZM1338.9 1019.6H1462V1035.2H1338.9ZM1492.4 1019.6H1554.1V1035.2H1492.4ZM617.4 1004.2H633.1V1019.9H617.4ZM1016.5 1004.2H1124.3V1019.9H1016.5ZM1139.3 1004.2H1293.1V1019.9H1139.3ZM1338.9 1004.2H1354.5V1019.9H1338.9ZM1369.6 1004.2H1431.3V1019.9H1369.6ZM1016.5 988.9H1139.6V1004.5H1016.5ZM1185.4 988.9H1293.1V1004.5H1185.4ZM1369.6 988.9H1385.2V1004.5H1369.6ZM586.7 973.5H602.4V989.2H586.7ZM970.5 973.5H1124.3V989.2H970.5ZM1154.7 973.5H1277.8V989.2H1154.7ZM586.7 958.2H602.4V973.8H586.7ZM955.1 958.2H1078.2V973.8H955.1ZM1124 958.2H1262.4V973.8H1124ZM586.7 942.9H617.7V958.5H586.7ZM1001.2 942.9H1032.2V958.5H1001.2ZM1154.7 942.9H1201V958.5H1154.7ZM586.7 927.5H633.1V943.2H586.7ZM893.7 927.5H924.7V943.2H893.7ZM1001.2 927.5H1078.2V943.2H1001.2ZM1154.7 927.5H1170.3V943.2H1154.7ZM586.7 912.2H633.1V927.8H586.7ZM878.4 912.2H924.7V927.8H878.4ZM985.8 912.2H1093.6V927.8H985.8ZM1139.3 912.2H1170.3V927.8H1139.3ZM571.4 896.8H633.1V912.5H571.4ZM893.7 896.8H940.1V912.5H893.7ZM970.5 896.8H1093.6V912.5H970.5ZM1108.6 896.8H1170.3V912.5H1108.6ZM433.2 881.5H464.2V897.1H433.2ZM571.4 881.5H679.1V897.1H571.4ZM924.4 881.5H1062.9V897.1H924.4ZM1077.9 881.5H1093.6V897.1H1077.9ZM1108.6 881.5H1185.7V897.1H1108.6ZM448.6 866.2H525.6V881.8H448.6ZM540.7 866.2H694.5V881.8H540.7ZM878.4 866.2H1047.5V881.8H878.4ZM1077.9 866.2H1185.7V881.8H1077.9ZM433.2 850.8H464.2V866.5H433.2ZM494.6 850.8H602.4V866.5H494.6ZM632.8 850.8H694.5V866.5H632.8ZM893.7 850.8H1062.9V866.5H893.7ZM1124 850.8H1185.7V866.5H1124ZM249 835.5H264.7V851.1H249ZM448.6 835.5H464.2V851.1H448.6ZM494.6 835.5H587V851.1H494.6ZM678.8 835.5H725.2V851.1H678.8ZM909.1 835.5H1047.5V851.1H909.1ZM1154.7 835.5H1170.3V851.1H1154.7ZM279.7 820.1H326.1V835.8H279.7ZM510 820.1H525.6V835.8H510ZM556 820.1H617.7V835.8H556ZM924.4 820.1H1047.5V835.8H924.4ZM295.1 804.8H310.7V820.4H295.1ZM433.2 804.8H448.9V820.4H433.2ZM540.7 804.8H648.4V820.4H540.7ZM924.4 804.8H955.4V820.4H924.4ZM1001.2 804.8H1062.9V820.4H1001.2ZM310.4 789.5H326.1V805.1H310.4ZM433.2 789.5H448.9V805.1H433.2ZM556 789.5H663.8V805.1H556ZM1016.5 789.5H1032.2V805.1H1016.5ZM203 774.1H218.6V789.8H203ZM356.5 774.1H372.1V789.8H356.5ZM448.6 774.1H479.6V789.8H448.6ZM586.7 774.1H694.5V789.8H586.7ZM1016.5 774.1H1032.2V789.8H1016.5ZM203 758.8H218.6V774.4H203ZM356.5 758.8H372.1V774.4H356.5ZM448.6 758.8H479.6V774.4H448.6ZM586.7 758.8H694.5V774.4H586.7ZM724.9 758.8H755.9V774.4H724.9ZM1016.5 758.8H1032.2V774.4H1016.5ZM371.8 743.4H387.5V759.1H371.8ZM617.4 743.4H694.5V759.1H617.4ZM740.2 743.4H755.9V759.1H740.2ZM985.8 743.4H1016.8V759.1H985.8ZM479.3 728.1H494.9V743.7H479.3ZM648.1 728.1H755.9V743.7H648.1ZM878.4 728.1H1001.5V743.7H878.4ZM172.3 712.8H187.9V728.4H172.3ZM387.2 712.8H402.8V728.4H387.2ZM479.3 712.8H494.9V728.4H479.3ZM648.1 712.8H709.8V728.4H648.1ZM770.9 712.8H817.3V728.4H770.9ZM832.3 712.8H986.1V728.4H832.3ZM172.3 697.4H187.9V713H172.3ZM402.5 697.4H433.5V713H402.5ZM617.4 697.4H633.1V713H617.4ZM648.1 697.4H709.8V713H648.1ZM755.6 697.4H801.9V713H755.6ZM817 697.4H940.1V713H817ZM156.9 682.1H172.6V697.7H156.9ZM433.2 682.1H448.9V697.7H433.2ZM571.4 682.1H679.1V697.7H571.4ZM694.2 682.1H755.9V697.7H694.2ZM832.3 682.1H848V697.7H832.3ZM556 666.7H587V682.4H556ZM617.4 666.7H725.2V682.4H617.4ZM172.3 636.1H187.9V651.7H172.3ZM172.3 620.7H187.9V636.4H172.3ZM172.3 605.4H203.3V621H172.3ZM187.6 590H203.3V605.7H187.6ZM187.6 574.7H203.3V590.3H187.6ZM187.6 559.4H203.3V575H187.6ZM187.6 544H203.3V559.6H187.6ZM187.6 528.7H203.3V544.3H187.6ZM187.6 513.3H218.6V529H187.6ZM187.6 498H203.3V513.6H187.6ZM187.6 482.7H203.3V498.3H187.6ZM203 467.3H218.6V483H203ZM203 452H234V467.6H203ZM203 436.6H234V452.3H203ZM203 421.3H218.6V436.9H203ZM203 405.9H234V421.6H203ZM203 390.6H218.6V406.2H203ZM203 375.3H218.6V390.9H203ZM203 359.9H218.6V375.6H203ZM203 344.6H218.6V360.2H203ZM187.6 329.2H203.3V344.9H187.6ZM156.9 313.9H187.9V329.6H156.9Z"/>
<path fill="#f57547" d="M678.8 1357H709.8V1366H678.8ZM694.2 1341.7H725.2V1357.3H694.2ZM694.2 1326.4H740.5V1342H694.2ZM1630.5 1326.4H1638V1342H1630.5ZM724.9 1311H771.2V1326.7H724.9ZM1615.2 1311H1638V1326.7H1615.2ZM724.9 1295.7H786.6V1311.3H724.9ZM1584.5 1295.7H1638V1311.3H1584.5ZM755.6 1280.3H801.9V1296H755.6ZM1553.8 1280.3H1638V1296H1553.8ZM755.6 1265H801.9V1280.6H755.6ZM1538.4 1265H1584.8V1280.6H1538.4ZM755.6 1249.7H801.9V1265.3H755.6ZM1538.4 1249.7H1615.5V1265.3H1538.4ZM1630.5 1249.7H1638V1265.3H1630.5ZM755.6 1234.3H817.3V1250H755.6ZM1523.1 1234.3H1638V1250H1523.1ZM755.6 1219H817.3V1234.6H755.6ZM1446.3 1219H1462V1234.6H1446.3ZM1507.7 1219H1600.1V1234.6H1507.7ZM556 1203.6H571.7V1219.3H556ZM586.7 1203.6H633.1V1219.3H586.7ZM724.9 1203.6H817.3V1219.3H724.9ZM1431 1203.6H1508V1219.3H1431ZM1523.1 1203.6H1569.4V1219.3H1523.1ZM1615.2 1203.6H1638V1219.3H1615.2ZM556 1188.3H617.7V1203.9H556ZM632.8 1188.3H817.3V1203.9H632.8ZM1431 1188.3H1554.1V1203.9H1431ZM1584.5 1188.3H1638V1203.9H1584.5ZM387.2 1173H448.9V1188.6H387.2ZM540.7 1173H602.4V1188.6H540.7ZM663.5 1173H725.2V1188.6H663.5ZM755.6 1173H817.3V1188.6H755.6ZM1415.6 1173H1538.7V1188.6H1415.6ZM1599.8 1173H1638V1188.6H1599.8ZM371.8 1157.6H448.9V1173.2H371.8ZM525.3 1157.6H617.7V1173.2H525.3ZM1384.9 1157.6H1400.6V1173.2H1384.9ZM1415.6 1157.6H1523.4V1173.2H1415.6ZM1599.8 1157.6H1615.5V1173.2H1599.8ZM371.8 1142.3H448.9V1157.9H371.8ZM463.9 1142.3H494.9V1157.9H463.9ZM510 1142.3H617.7V1157.9H510ZM1338.9 1142.3H1385.2V1157.9H1338.9ZM1446.3 1142.3H1492.7V1157.9H1446.3ZM102 1126.9H111.2V1142.6H102ZM310.4 1126.9H341.4V1142.6H310.4ZM356.5 1126.9H571.7V1142.6H356.5ZM602.1 1126.9H617.7V1142.6H602.1ZM1292.8 1126.9H1339.2V1142.6H1292.8ZM1354.2 1126.9H1369.9V1142.6H1354.2ZM1461.7 1126.9H1477.3V1142.6H1461.7ZM102 1111.6H356.8V1127.2H102ZM371.8 1111.6H541V1127.2H371.8ZM1262.1 1111.6H1277.8V1127.2H1262.1ZM1323.5 1111.6H1354.5V1127.2H1323.5ZM102 1096.3H372.1V1111.9H102ZM402.5 1096.3H556.3V1111.9H402.5ZM939.8 1096.3H986.1V1111.9H939.8ZM1246.8 1096.3H1262.4V1111.9H1246.8ZM1323.5 1096.3H1354.5V1111.9H1323.5ZM102 1080.9H464.2V1096.6H102ZM955.1 1080.9H1001.5V1096.6H955.1ZM1231.4 1080.9H1247.1V1096.6H1231.4ZM102 1065.6H326.1V1081.2H102ZM356.5 1065.6H464.2V1081.2H356.5ZM632.8 1065.6H663.8V1081.2H632.8ZM1216.1 1065.6H1231.7V1081.2H1216.1ZM102 1050.2H310.7V1065.9H102ZM356.5 1050.2H464.2V1065.9H356.5ZM632.8 1050.2H679.1V1065.9H632.8ZM1170 1050.2H1185.7V1065.9H1170ZM1216.1 1050.2H1231.7V1065.9H1216.1ZM102 1034.9H295.4V1050.5H102ZM387.2 1034.9H464.2V1050.5H387.2ZM617.4 1034.9H679.1V1050.5H617.4ZM1001.2 1034.9H1062.9V1050.5H1001.2ZM1077.9 1034.9H1139.6V1050.5H1077.9ZM1185.4 1034.9H1216.4V1050.5H1185.4ZM102 1019.6H280V1035.2H102ZM402.5 1019.6H418.2V1035.2H402.5ZM602.1 1019.6H709.8V1035.2H602.1ZM985.8 1019.6H1032.2V1035.2H985.8ZM102 1004.2H280V1019.9H102ZM602.1 1004.2H617.7V1019.9H602.1ZM632.8 1004.2H709.8V1019.9H632.8ZM970.5 1004.2H1016.8V1019.9H970.5ZM102 988.9H280V1004.5H102ZM571.4 988.9H709.8V1004.5H571.4ZM970.5 988.9H1016.8V1004.5H970.5ZM110.9 973.5H249.3V989.2H110.9ZM556 973.5H587V989.2H556ZM602.1 973.5H694.5V989.2H602.1ZM924.4 973.5H970.8V989.2H924.4ZM126.2 958.2H218.6V973.8H126.2ZM556 958.2H587V973.8H556ZM602.1 958.2H694.5V973.8H602.1ZM724.9 958.2H771.2V973.8H724.9ZM832.3 958.2H848V973.8H832.3ZM893.7 958.2H955.4V973.8H893.7ZM571.4 942.9H587V958.5H571.4ZM617.4 942.9H709.8V958.5H617.4ZM724.9 942.9H755.9V958.5H724.9ZM832.3 942.9H863.3V958.5H832.3ZM893.7 942.9H1001.5V958.5H893.7ZM571.4 927.5H587V943.2H571.4ZM632.8 927.5H709.8V943.2H632.8ZM755.6 927.5H801.9V943.2H755.6ZM832.3 927.5H863.3V943.2H832.3ZM878.4 927.5H894V943.2H878.4ZM924.4 927.5H1001.5V943.2H924.4ZM571.4 912.2H587V927.8H571.4ZM632.8 912.2H786.6V927.8H632.8ZM863 912.2H878.7V927.8H863ZM924.4 912.2H986.1V927.8H924.4ZM433.2 896.8H448.9V912.5H433.2ZM632.8 896.8H786.6V912.5H632.8ZM847.7 896.8H894V912.5H847.7ZM939.8 896.8H970.8V912.5H939.8ZM402.5 881.5H433.5V897.1H402.5ZM463.9 881.5H479.6V897.1H463.9ZM556 881.5H571.7V897.1H556ZM678.8 881.5H924.7V897.1H678.8ZM387.2 866.2H448.9V881.8H387.2ZM525.3 866.2H541V881.8H525.3ZM694.2 866.2H878.7V881.8H694.2ZM371.8 850.8H433.5V866.5H371.8ZM602.1 850.8H633.1V866.5H602.1ZM694.2 850.8H894V866.5H694.2ZM264.4 835.5H295.4V851.1H264.4ZM371.8 835.5H448.9V851.1H371.8ZM586.7 835.5H679.1V851.1H586.7ZM724.9 835.5H801.9V851.1H724.9ZM817 835.5H909.4V851.1H817ZM325.8 820.1H448.9V835.8H325.8ZM617.4 820.1H924.7V835.8H617.4ZM310.4 804.8H387.5V820.4H310.4ZM648.1 804.8H786.6V820.4H648.1ZM832.3 804.8H924.7V820.4H832.3ZM955.1 804.8H970.8V820.4H955.1ZM985.8 804.8H1001.5V820.4H985.8ZM203 789.5H218.6V805.1H203ZM325.8 789.5H356.8V805.1H325.8ZM663.5 789.5H940.1V805.1H663.5ZM1001.2 789.5H1016.8V805.1H1001.2ZM433.2 774.1H448.9V789.8H433.2ZM694.2 774.1H924.7V789.8H694.2ZM1001.2 774.1H1016.8V789.8H1001.2ZM371.8 758.8H387.5V774.4H371.8ZM433.2 758.8H448.9V774.4H433.2ZM694.2 758.8H725.2V774.4H694.2ZM755.6 758.8H832.6V774.4H755.6ZM878.4 758.8H940.1V774.4H878.4ZM1001.2 758.8H1016.8V774.4H1001.2ZM187.6 743.4H203.3V759.1H187.6ZM387.2 743.4H418.2V759.1H387.2ZM433.2 743.4H479.6V759.1H433.2ZM694.2 743.4H740.5V759.1H694.2ZM755.6 743.4H832.6V759.1H755.6ZM878.4 743.4H986.1V759.1H878.4ZM156.9 728.1H187.9V743.7H156.9ZM387.2 728.1H402.8V743.7H387.2ZM755.6 728.1H832.6V743.7H755.6ZM863 728.1H878.7V743.7H863ZM156.9 712.8H172.6V728.4H156.9ZM709.5 712.8H771.2V728.4H709.5ZM817 712.8H832.6V728.4H817ZM141.6 697.4H172.6V713H141.6ZM433.2 697.4H479.6V713H433.2ZM709.5 697.4H755.9V713H709.5ZM141.6 682.1H157.2V697.7H141.6ZM678.8 682.1H694.5V697.7H678.8ZM156.9 666.7H172.6V682.4H156.9ZM586.7 666.7H602.4V682.4H586.7ZM172.3 590H187.9V605.7H172.3ZM172.3 574.7H187.9V590.3H172.3ZM172.3 559.4H187.9V575H172.3ZM172.3 528.7H187.9V544.3H172.3ZM172.3 482.7H187.9V498.3H172.3ZM172.3 467.3H203.3V483H172.3ZM172.3 452H203.3V467.6H172.3ZM172.3 436.6H203.3V452.3H172.3ZM172.3 421.3H203.3V436.9H172.3ZM187.6 405.9H203.3V421.6H187.6ZM187.6 390.6H203.3V406.2H187.6ZM187.6 344.6H203.3V360.2H187.6ZM172.3 329.2H187.9V344.9H172.3ZM141.6 313.9H157.2V329.6H141.6Z"/>
<path fill="#e85b48" d="M1630.5 1357H1638V1366H1630.5ZM1615.2 1341.7H1638V1357.3H1615.2ZM740.2 1326.4H755.9V1342H740.2ZM1599.8 1326.4H1630.8V1342H1599.8ZM1584.5 1311H1615.5V1326.7H1584.5ZM1553.8 1295.7H1584.8V1311.3H1553.8ZM1507.7 1265H1538.7V1280.6H1507.7ZM801.6 1249.7H817.3V1265.3H801.6ZM1446.3 1249.7H1538.7V1265.3H1446.3ZM1415.6 1234.3H1523.4V1250H1415.6ZM1415.6 1219H1446.6V1234.6H1415.6ZM1461.7 1219H1508V1234.6H1461.7ZM817 1203.6H832.6V1219.3H817ZM1415.6 1203.6H1431.3V1219.3H1415.6ZM1507.7 1203.6H1523.4V1219.3H1507.7ZM617.4 1188.3H633.1V1203.9H617.4ZM817 1188.3H832.6V1203.9H817ZM1400.3 1188.3H1431.3V1203.9H1400.3ZM602.1 1173H663.8V1188.6H602.1ZM724.9 1173H755.9V1188.6H724.9ZM1338.9 1173H1354.5V1188.6H1338.9ZM1369.6 1173H1415.9V1188.6H1369.6ZM617.4 1157.6H694.5V1173.2H617.4ZM709.5 1157.6H817.3V1173.2H709.5ZM1338.9 1157.6H1385.2V1173.2H1338.9ZM617.4 1142.3H663.8V1157.9H617.4ZM709.5 1142.3H817.3V1157.9H709.5ZM1323.5 1142.3H1339.2V1157.9H1323.5ZM571.4 1126.9H602.4V1142.6H571.4ZM617.4 1126.9H648.4V1142.6H617.4ZM709.5 1126.9H786.6V1142.6H709.5ZM1338.9 1126.9H1354.5V1142.6H1338.9ZM540.7 1111.6H633.1V1127.2H540.7ZM724.9 1111.6H771.2V1127.2H724.9ZM817 1111.6H832.6V1127.2H817ZM939.8 1111.6H970.8V1127.2H939.8ZM1246.8 1111.6H1262.4V1127.2H1246.8ZM556 1096.3H633.1V1111.9H556ZM817 1096.3H832.6V1111.9H817ZM1231.4 1096.3H1247.1V1111.9H1231.4ZM463.9 1080.9H602.4V1096.6H463.9ZM648.1 1080.9H709.8V1096.6H648.1ZM817 1080.9H832.6V1096.6H817ZM939.8 1080.9H955.4V1096.6H939.8ZM1216.1 1080.9H1231.7V1096.6H1216.1ZM325.8 1065.6H356.8V1081.2H325.8ZM463.9 1065.6H587V1081.2H463.9ZM663.5 1065.6H725.2V1081.2H663.5ZM817 1065.6H848V1081.2H817ZM939.8 1065.6H1016.8V1081.2H939.8ZM1170 1065.6H1185.7V1081.2H1170ZM310.4 1050.2H356.8V1065.9H310.4ZM463.9 1050.2H510.3V1065.9H463.9ZM617.4 1050.2H633.1V1065.9H617.4ZM678.8 1050.2H755.9V1065.9H678.8ZM817 1050.2H848V1065.9H817ZM970.5 1050.2H1016.8V1065.9H970.5ZM1124 1050.2H1170.3V1065.9H1124ZM1185.4 1050.2H1216.4V1065.9H1185.4ZM295.1 1034.9H387.5V1050.5H295.1ZM463.9 1034.9H525.6V1050.5H463.9ZM602.1 1034.9H617.7V1050.5H602.1ZM678.8 1034.9H786.6V1050.5H678.8ZM832.3 1034.9H863.3V1050.5H832.3ZM955.1 1034.9H1001.5V1050.5H955.1ZM279.7 1019.6H326.1V1035.2H279.7ZM356.5 1019.6H402.8V1035.2H356.5ZM417.9 1019.6H464.2V1035.2H417.9ZM510 1019.6H525.6V1035.2H510ZM586.7 1019.6H602.4V1035.2H586.7ZM709.5 1019.6H771.2V1035.2H709.5ZM955.1 1019.6H986.1V1035.2H955.1ZM279.7 1004.2H326.1V1019.9H279.7ZM371.8 1004.2H433.5V1019.9H371.8ZM540.7 1004.2H556.3V1019.9H540.7ZM586.7 1004.2H602.4V1019.9H586.7ZM709.5 1004.2H786.6V1019.9H709.5ZM939.8 1004.2H970.8V1019.9H939.8ZM279.7 988.9H341.4V1004.5H279.7ZM402.5 988.9H418.2V1004.5H402.5ZM540.7 988.9H571.7V1004.5H540.7ZM709.5 988.9H786.6V1004.5H709.5ZM801.6 988.9H848V1004.5H801.6ZM893.7 988.9H924.7V1004.5H893.7ZM939.8 988.9H970.8V1004.5H939.8ZM102 973.5H111.2V989.2H102ZM249 973.5H310.7V989.2H249ZM694.2 973.5H924.7V989.2H694.2ZM102 958.2H126.5V973.8H102ZM218.3 958.2H310.7V973.8H218.3ZM694.2 958.2H725.2V973.8H694.2ZM770.9 958.2H832.6V973.8H770.9ZM847.7 958.2H894V973.8H847.7ZM102 942.9H264.7V958.5H102ZM556 942.9H571.7V958.5H556ZM709.5 942.9H725.2V958.5H709.5ZM755.6 942.9H832.6V958.5H755.6ZM863 942.9H894V958.5H863ZM102 927.5H203.3V943.2H102ZM556 927.5H571.7V943.2H556ZM709.5 927.5H755.9V943.2H709.5ZM801.6 927.5H832.6V943.2H801.6ZM863 927.5H878.7V943.2H863ZM102 912.2H172.6V927.8H102ZM786.3 912.2H863.3V927.8H786.3ZM102 896.8H141.9V912.5H102ZM556 896.8H571.7V912.5H556ZM786.3 896.8H848V912.5H786.3ZM479.3 881.5H494.9V897.1H479.3ZM356.5 835.5H372.1V851.1H356.5ZM801.6 835.5H817.3V851.1H801.6ZM218.3 820.1H234V835.8H218.3ZM417.9 804.8H433.5V820.4H417.9ZM786.3 804.8H832.6V820.4H786.3ZM970.5 804.8H986.1V820.4H970.5ZM356.5 789.5H372.1V805.1H356.5ZM939.8 789.5H955.4V805.1H939.8ZM417.9 774.1H433.5V789.8H417.9ZM924.4 774.1H940.1V789.8H924.4ZM387.2 758.8H433.5V774.4H387.2ZM832.3 758.8H878.7V774.4H832.3ZM939.8 758.8H955.4V774.4H939.8ZM417.9 743.4H433.5V759.1H417.9ZM832.3 743.4H878.7V759.1H832.3ZM402.5 728.1H433.5V743.7H402.5ZM463.9 728.1H479.6V743.7H463.9ZM832.3 728.1H863.3V743.7H832.3ZM141.6 712.8H157.2V728.4H141.6ZM402.5 712.8H433.5V728.4H402.5ZM463.9 712.8H479.6V728.4H463.9ZM141.6 666.7H157.2V682.4H141.6ZM602.1 666.7H617.7V682.4H602.1ZM156.9 651.4H172.6V667H156.9ZM172.3 544H187.9V559.6H172.3ZM172.3 513.3H187.9V529H172.3ZM172.3 498H187.9V513.6H172.3ZM156.9 482.7H172.6V498.3H156.9ZM156.9 467.3H172.6V483H156.9ZM156.9 452H172.6V467.6H156.9ZM156.9 436.6H172.6V452.3H156.9ZM156.9 421.3H172.6V436.9H156.9ZM172.3 405.9H187.9V421.6H172.3ZM187.6 375.3H203.3V390.9H187.6ZM187.6 359.9H203.3V375.6H187.6ZM172.3 344.6H187.9V360.2H172.3ZM156.9 329.2H172.6V344.9H156.9ZM102 313.9H141.9V329.6H102Z"/>
<path fill="#d7414e" d="M709.5 1357H725.2V1366H709.5ZM1461.7 1357H1477.3V1366H1461.7ZM1615.2 1357H1630.8V1366H1615.2ZM1400.3 1311H1415.9V1326.7H1400.3ZM1553.8 1311H1584.8V1326.7H1553.8ZM1415.6 1280.3H1431.3V1296H1415.6ZM1538.4 1280.3H1554.1V1296H1538.4ZM801.6 1265H817.3V1280.6H801.6ZM1415.6 1265H1462V1280.6H1415.6ZM1477 1265H1508V1280.6H1477ZM1415.6 1249.7H1446.6V1265.3H1415.6ZM817 1219H832.6V1234.6H817ZM1400.3 1203.6H1415.9V1219.3H1400.3ZM1323.5 1188.3H1369.9V1203.9H1323.5ZM1384.9 1188.3H1400.6V1203.9H1384.9ZM817 1173H832.6V1188.6H817ZM1323.5 1173H1339.2V1188.6H1323.5ZM1354.2 1173H1369.9V1188.6H1354.2ZM694.2 1157.6H709.8V1173.2H694.2ZM817 1157.6H832.6V1173.2H817ZM1323.5 1157.6H1339.2V1173.2H1323.5ZM663.5 1142.3H709.8V1157.9H663.5ZM817 1142.3H832.6V1157.9H817ZM1308.2 1142.3H1323.8V1157.9H1308.2ZM648.1 1126.9H663.8V1142.6H648.1ZM694.2 1126.9H709.8V1142.6H694.2ZM786.3 1126.9H832.6V1142.6H786.3ZM1262.1 1126.9H1293.1V1142.6H1262.1ZM632.8 1111.6H663.8V1127.2H632.8ZM709.5 1111.6H725.2V1127.2H709.5ZM770.9 1111.6H801.9V1127.2H770.9ZM1216.1 1111.6H1247.1V1127.2H1216.1ZM632.8 1096.3H817.3V1111.9H632.8ZM924.4 1096.3H940.1V1111.9H924.4ZM1200.7 1096.3H1231.7V1111.9H1200.7ZM602.1 1080.9H617.7V1096.6H602.1ZM632.8 1080.9H648.4V1096.6H632.8ZM709.5 1080.9H755.9V1096.6H709.5ZM786.3 1080.9H817.3V1096.6H786.3ZM832.3 1080.9H848V1096.6H832.3ZM1001.2 1080.9H1016.8V1096.6H1001.2ZM1185.4 1080.9H1216.4V1096.6H1185.4ZM586.7 1065.6H602.4V1081.2H586.7ZM617.4 1065.6H633.1V1081.2H617.4ZM724.9 1065.6H817.3V1081.2H724.9ZM1139.3 1065.6H1170.3V1081.2H1139.3ZM1185.4 1065.6H1216.4V1081.2H1185.4ZM510 1050.2H541V1065.9H510ZM556 1050.2H571.7V1065.9H556ZM586.7 1050.2H617.7V1065.9H586.7ZM755.6 1050.2H817.3V1065.9H755.6ZM847.7 1050.2H863.3V1065.9H847.7ZM939.8 1050.2H970.8V1065.9H939.8ZM1016.5 1050.2H1047.5V1065.9H1016.5ZM1062.6 1050.2H1124.3V1065.9H1062.6ZM525.3 1034.9H541V1050.5H525.3ZM586.7 1034.9H602.4V1050.5H586.7ZM786.3 1034.9H832.6V1050.5H786.3ZM325.8 1019.6H356.8V1035.2H325.8ZM463.9 1019.6H510.3V1035.2H463.9ZM525.3 1019.6H587V1035.2H525.3ZM770.9 1019.6H878.7V1035.2H770.9ZM939.8 1019.6H955.4V1035.2H939.8ZM325.8 1004.2H372.1V1019.9H325.8ZM433.2 1004.2H479.6V1019.9H433.2ZM525.3 1004.2H541V1019.9H525.3ZM556 1004.2H587V1019.9H556ZM786.3 1004.2H940.1V1019.9H786.3ZM341.1 988.9H402.8V1004.5H341.1ZM417.9 988.9H448.9V1004.5H417.9ZM786.3 988.9H801.9V1004.5H786.3ZM847.7 988.9H894V1004.5H847.7ZM924.4 988.9H940.1V1004.5H924.4ZM310.4 973.5H418.2V989.2H310.4ZM540.7 973.5H556.3V989.2H540.7ZM310.4 958.2H356.8V973.8H310.4ZM264.4 942.9H326.1V958.5H264.4ZM203 927.5H310.7V943.2H203ZM172.3 912.2H234V927.8H172.3ZM249 912.2H295.4V927.8H249ZM556 912.2H571.7V927.8H556ZM141.6 896.8H203.3V912.5H141.6ZM264.4 896.8H280V912.5H264.4ZM102 881.5H141.9V897.1H102ZM494.6 881.5H556.3V897.1H494.6ZM110.9 866.2H126.5V881.8H110.9ZM371.8 866.2H387.5V881.8H371.8ZM356.5 850.8H372.1V866.5H356.5ZM233.7 835.5H249.3V851.1H233.7ZM295.1 835.5H310.7V851.1H295.1ZM203 804.8H218.6V820.4H203ZM387.2 804.8H418.2V820.4H387.2ZM371.8 789.5H387.5V805.1H371.8ZM417.9 789.5H433.5V805.1H417.9ZM985.8 789.5H1001.5V805.1H985.8ZM371.8 774.1H418.2V789.8H371.8ZM985.8 774.1H1001.5V789.8H985.8ZM187.6 758.8H203.3V774.4H187.6ZM955.1 758.8H1001.5V774.4H955.1ZM433.2 728.1H464.2V743.7H433.2ZM433.2 712.8H464.2V728.4H433.2ZM126.2 682.1H141.9V697.7H126.2ZM141.6 651.4H157.2V667H141.6ZM156.9 636.1H172.6V651.7H156.9ZM156.9 620.7H172.6V636.4H156.9ZM156.9 605.4H172.6V621H156.9ZM156.9 590H172.6V605.7H156.9ZM156.9 574.7H172.6V590.3H156.9ZM156.9 559.4H172.6V575H156.9ZM156.9 544H172.6V559.6H156.9ZM156.9 528.7H172.6V544.3H156.9ZM156.9 513.3H172.6V529H156.9ZM156.9 498H172.6V513.6H156.9ZM141.6 467.3H157.2V483H141.6ZM141.6 452H157.2V467.6H141.6ZM141.6 436.6H157.2V452.3H141.6ZM141.6 421.3H157.2V436.9H141.6ZM156.9 405.9H172.6V421.6H156.9ZM172.3 390.6H187.9V406.2H172.3ZM172.3 375.3H187.9V390.9H172.3ZM172.3 359.9H187.9V375.6H172.3ZM156.9 344.6H172.6V360.2H156.9ZM141.6 329.2H157.2V344.9H141.6Z"/>
<path fill="#bc2249" d="M1384.9 1357H1462V1366H1384.9ZM1477 1357H1492.7V1366H1477ZM1538.4 1357H1615.5V1366H1538.4ZM1400.3 1341.7H1477.3V1357.3H1400.3ZM1523.1 1341.7H1615.5V1357.3H1523.1ZM1384.9 1326.4H1446.6V1342H1384.9ZM1523.1 1326.4H1600.1V1342H1523.1ZM770.9 1311H786.6V1326.7H770.9ZM1384.9 1311H1400.6V1326.7H1384.9ZM1415.6 1311H1446.6V1326.7H1415.6ZM1538.4 1311H1554.1V1326.7H1538.4ZM1384.9 1295.7H1431.3V1311.3H1384.9ZM1538.4 1295.7H1554.1V1311.3H1538.4ZM1400.3 1280.3H1415.9V1296H1400.3ZM1431 1280.3H1446.6V1296H1431ZM1477 1280.3H1538.7V1296H1477ZM1461.7 1265H1477.3V1280.6H1461.7ZM893.7 1249.7H909.4V1265.3H893.7ZM924.4 1203.6H940.1V1219.3H924.4ZM1384.9 1203.6H1400.6V1219.3H1384.9ZM939.8 1188.3H955.4V1203.9H939.8ZM1262.1 1188.3H1277.8V1203.9H1262.1ZM1369.6 1188.3H1385.2V1203.9H1369.6ZM1246.8 1173H1293.1V1188.6H1246.8ZM1308.2 1173H1323.8V1188.6H1308.2ZM1246.8 1157.6H1262.4V1173.2H1246.8ZM1308.2 1157.6H1323.8V1173.2H1308.2ZM1277.5 1142.3H1308.5V1157.9H1277.5ZM663.5 1126.9H679.1V1142.6H663.5ZM1216.1 1126.9H1262.4V1142.6H1216.1ZM694.2 1111.6H709.8V1127.2H694.2ZM801.6 1111.6H817.3V1127.2H801.6ZM1200.7 1111.6H1216.4V1127.2H1200.7ZM832.3 1096.3H848V1111.9H832.3ZM985.8 1096.3H1001.5V1111.9H985.8ZM1185.4 1096.3H1201V1111.9H1185.4ZM755.6 1080.9H786.6V1096.6H755.6ZM924.4 1080.9H940.1V1096.6H924.4ZM1124 1080.9H1185.7V1096.6H1124ZM847.7 1065.6H863.3V1081.2H847.7ZM1124 1065.6H1139.6V1081.2H1124ZM540.7 1050.2H556.3V1065.9H540.7ZM571.4 1050.2H587V1065.9H571.4ZM1047.2 1050.2H1062.9V1065.9H1047.2ZM540.7 1034.9H587V1050.5H540.7ZM878.4 1019.6H894V1035.2H878.4ZM479.3 1004.2H494.9V1019.9H479.3ZM448.6 988.9H479.6V1004.5H448.6ZM417.9 973.5H448.9V989.2H417.9ZM356.5 958.2H418.2V973.8H356.5ZM540.7 958.2H556.3V973.8H540.7ZM325.8 942.9H402.8V958.5H325.8ZM540.7 942.9H556.3V958.5H540.7ZM310.4 927.5H356.8V943.2H310.4ZM233.7 912.2H249.3V927.8H233.7ZM295.1 912.2H326.1V927.8H295.1ZM203 896.8H234V912.5H203ZM249 896.8H264.7V912.5H249ZM279.7 896.8H310.7V912.5H279.7ZM448.6 896.8H464.2V912.5H448.6ZM540.7 896.8H556.3V912.5H540.7ZM141.6 881.5H234V897.1H141.6ZM249 881.5H295.4V897.1H249ZM387.2 881.5H402.8V897.1H387.2ZM102 866.2H111.2V881.8H102ZM126.2 866.2H157.2V881.8H126.2ZM102 850.8H126.5V866.5H102ZM341.1 835.5H356.8V851.1H341.1ZM387.2 789.5H418.2V805.1H387.2ZM955.1 789.5H970.8V805.1H955.1ZM187.6 774.1H203.3V789.8H187.6ZM172.3 743.4H187.9V759.1H172.3ZM126.2 697.4H141.9V713H126.2ZM126.2 666.7H141.9V682.4H126.2ZM126.2 513.3H157.2V529H126.2ZM126.2 498H157.2V513.6H126.2ZM126.2 482.7H157.2V498.3H126.2ZM126.2 467.3H141.9V483H126.2ZM102 452H141.9V467.6H102ZM126.2 436.6H141.9V452.3H126.2ZM156.9 375.3H172.6V390.9H156.9ZM156.9 359.9H172.6V375.6H156.9ZM141.6 344.6H157.2V360.2H141.6ZM126.2 329.2H141.9V344.9H126.2Z"/>
<path fill="#9e0142" d="M724.9 1357H1385.2V1366H724.9ZM1492.4 1357H1538.7V1366H1492.4ZM724.9 1341.7H1400.6V1357.3H724.9ZM1477 1341.7H1523.4V1357.3H1477ZM755.6 1326.4H1385.2V1342H755.6ZM1446.3 1326.4H1523.4V1342H1446.3ZM786.3 1311H1385.2V1326.7H786.3ZM1446.3 1311H1538.7V1326.7H1446.3ZM786.3 1295.7H1385.2V1311.3H786.3ZM1431 1295.7H1538.7V1311.3H1431ZM801.6 1280.3H1400.6V1296H801.6ZM1446.3 1280.3H1477.3V1296H1446.3ZM817 1265H1415.9V1280.6H817ZM817 1249.7H894V1265.3H817ZM909.1 1249.7H1415.9V1265.3H909.1ZM817 1234.3H1415.9V1250H817ZM832.3 1219H1415.9V1234.6H832.3ZM832.3 1203.6H924.7V1219.3H832.3ZM939.8 1203.6H1385.2V1219.3H939.8ZM832.3 1188.3H940.1V1203.9H832.3ZM955.1 1188.3H1262.4V1203.9H955.1ZM1277.5 1188.3H1323.8V1203.9H1277.5ZM832.3 1173H1247.1V1188.6H832.3ZM1292.8 1173H1308.5V1188.6H1292.8ZM832.3 1157.6H1247.1V1173.2H832.3ZM1262.1 1157.6H1308.5V1173.2H1262.1ZM832.3 1142.3H1277.8V1157.9H832.3ZM678.8 1126.9H694.5V1142.6H678.8ZM832.3 1126.9H1216.4V1142.6H832.3ZM663.5 1111.6H694.5V1127.2H663.5ZM832.3 1111.6H940.1V1127.2H832.3ZM970.5 1111.6H1201V1127.2H970.5ZM847.7 1096.3H924.7V1111.9H847.7ZM1001.2 1096.3H1185.7V1111.9H1001.2ZM617.4 1080.9H633.1V1096.6H617.4ZM847.7 1080.9H924.7V1096.6H847.7ZM1016.5 1080.9H1124.3V1096.6H1016.5ZM602.1 1065.6H617.7V1081.2H602.1ZM863 1065.6H940.1V1081.2H863ZM1016.5 1065.6H1124.3V1081.2H1016.5ZM863 1050.2H940.1V1065.9H863ZM863 1034.9H955.4V1050.5H863ZM893.7 1019.6H940.1V1035.2H893.7ZM494.6 1004.2H525.6V1019.9H494.6ZM479.3 988.9H541V1004.5H479.3ZM448.6 973.5H541V989.2H448.6ZM417.9 958.2H541V973.8H417.9ZM402.5 942.9H541V958.5H402.5ZM356.5 927.5H556.3V943.2H356.5ZM325.8 912.2H556.3V927.8H325.8ZM233.7 896.8H249.3V912.5H233.7ZM310.4 896.8H433.5V912.5H310.4ZM463.9 896.8H541V912.5H463.9ZM233.7 881.5H249.3V897.1H233.7ZM295.1 881.5H387.5V897.1H295.1ZM156.9 866.2H372.1V881.8H156.9ZM126.2 850.8H356.8V866.5H126.2ZM102 835.5H234V851.1H102ZM310.4 835.5H341.4V851.1H310.4ZM102 820.1H218.6V835.8H102ZM102 804.8H203.3V820.4H102ZM102 789.5H203.3V805.1H102ZM970.5 789.5H986.1V805.1H970.5ZM102 774.1H187.9V789.8H102ZM939.8 774.1H986.1V789.8H939.8ZM102 758.8H187.9V774.4H102ZM102 743.4H172.6V759.1H102ZM102 728.1H157.2V743.7H102ZM102 712.8H141.9V728.4H102ZM102 697.4H126.5V713H102ZM102 682.1H126.5V697.7H102ZM102 666.7H126.5V682.4H102ZM102 651.4H141.9V667H102ZM102 636.1H157.2V651.7H102ZM102 620.7H157.2V636.4H102ZM102 605.4H157.2V621H102ZM102 590H157.2V605.7H102ZM102 574.7H157.2V590.3H102ZM102 559.4H157.2V575H102ZM102 544H157.2V559.6H102ZM102 528.7H157.2V544.3H102ZM102 513.3H126.5V529H102ZM102 498H126.5V513.6H102ZM102 482.7H126.5V498.3H102ZM102 467.3H126.5V483H102ZM102 436.6H126.5V452.3H102ZM102 421.3H141.9V436.9H102ZM102 405.9H157.2V421.6H102ZM102 390.6H172.6V406.2H102ZM102 375.3H157.2V390.9H102ZM102 359.9H157.2V375.6H102ZM102 344.6H141.9V360.2H102ZM102 329.2H126.5V344.9H102Z"/>
<path class="bord" d="M94.3 496.8L115.8 521.3L125 539.7L146.5 558.1L174.1 565.8L191 568.2M341.4 918.6L344.5 901.7L356.8 872.6L396.7 871.7L396.7 861.8L366 835.8L379.8 835.8L379.8 818.3L436.6 818.3M436.6 818.3L435.1 877.2L444.3 877.8M436.6 818.3L445.8 815.8L462.7 798M464.2 882.7L436.6 903.3L430.5 922.6L407.4 943.2M430.5 922.6L456.6 936.1L481.1 938.5L478 953.9M493.4 966.2L510.3 957L510.3 943.2L541 940.1L564 917.1L594.7 912.5L620.8 904.8M542.5 1025.1L567.1 1029.1L584 1027.5L603.9 1033.7M639.2 1072L627.5 1086.7L634 1091L626.9 1111.9L629.1 1118M798.9 1099L803.5 1121.1L786.6 1128.8L782 1144.1M984.6 1001.4L953.9 1022.9L935.5 1044.4L921.7 1082.7L940.1 1085.8L949.3 1107.3L950.8 1138L964.6 1150.2L1021.4 1150.2L1041.4 1177.9L1102.8 1174.8L1090.5 1225.4L1107.4 1260.7L1090.5 1277.6L1110.5 1291.4L1121.2 1326.7M752.8 1320.5L778.9 1337.4L795.8 1352.7L831.1 1352.7L863.3 1368.1M1121.2 1326.7L1113.5 1312.8L1089 1311.3L1029.1 1312.8L1029.1 1332.8L1050.6 1345.1L1023 1348.1L1023 1371.1M1121.2 1326.7L1162.6 1343.5L1174.9 1329.7L1205.6 1314.4L1208.7 1289.8L1228.7 1291.4L1202.6 1254.6L1190.3 1239.2L1247.1 1240.7L1270.1 1237.7L1308.5 1205.5M1308.5 1205.5L1288.5 1182.5L1296.2 1159.4L1320.8 1145.6L1313.1 1133.4L1337.6 1110.4M1308.5 1205.5L1328.4 1205.5L1333 1226.9L1345.3 1243.8L1336.1 1254.6L1333 1285.2L1340.7 1308.2L1366.8 1328.2L1392.9 1319L1414.4 1305.2L1439 1306.1M1419 1182.5L1414.4 1205.5L1396 1223.9L1397.5 1251.5L1414.4 1262.2L1439 1306.1M1515.7 1187.1L1501.9 1211.6L1515.7 1254.6L1497.3 1292.9M1439 1306.1L1454.3 1308.2L1457.4 1288.3L1485 1286.8L1497.3 1292.9M1497.3 1292.9L1521.8 1294.4L1547.9 1297.5L1566.4 1269.9L1587.8 1236.1"/>
<path class="coast" d="M901.7 131.7L900.2 145.5L892.5 154.7L883.3 160.8L872.5 170.6L869.5 162.3L860.3 157.7L854.1 150.1L855.6 143.9L860.3 142.4L866.4 137.8L871 131.7M854.1 150.1L857.2 160.8L861.8 170L867.9 174.6L869.5 185.4L864.9 199.2L852.6 214.5L841.8 226.2L841.8 214.5L849.5 202.2L843.4 193L832.6 180.8L835.7 168.5L840.3 156.2L837.2 151.6L828 162.3L826.5 171.5L824.9 183.8L829.6 196.1L831.1 200.7L821.9 196.1L812.7 190L808.1 177.7L808.1 186.9L817.3 194.6L828 202.2L831.1 211.4L826.5 219.1L831.1 226.8L824.9 225.2L820.3 226.8L829.6 231.4L840.3 232L843.4 245.2L848 254.4L855.6 268.2L854.7 283.5L840.3 289.1L824 303.5L809.6 301.9L797.3 308.1L780.4 326.5L762 326.5L751.3 332.6L742.1 346.4L728.2 355.6L720.6 361.8L703.7 374L691.4 383.2L682.2 398.6L674.5 417L674.5 432.3L679.1 450.7L688.3 472.2L700.6 492.2L699.1 502.9L706.8 515.2L716 539.7L716 564.3L713.5 574.4L706.8 588.8L689.9 593.4L683.7 594.3L680.7 582.7L676.1 573.5L662.2 564.3L654.6 552L648.4 541.2L653 538.2L642.3 533.6L634.6 521.3L639.2 515.2L642.3 509L636.1 510.6L631.5 507.5L631.5 493.7L636.1 478.3L625.4 470.7L613.1 456.9L603.9 446.1L593.2 441.5L584 446.1L567.1 453.8L553.3 454.4L551.7 447.7L542.5 441.5L524.1 433.2L496.5 434.5L475 436.9L473.4 424.7L470.4 424.7L468.8 433.9L459.6 433.2L444.3 432.3L430.5 435.4L422.8 439.1L415.1 440L419.7 443.1L428.9 443.1L432 452.3L425.8 456.9L435.1 466.1L439.7 473.7L428.9 476.8L427.4 469.1L413.6 466.1L407.4 470.7L392.1 472.2L379.8 469.1L370.6 466.1L355.2 459.9L343 458.4L327.6 456.9L309.2 451.7L292.3 453.8L275.4 459.9L264.7 464.5L260.1 455.3L257 463L253.9 472.2L238.6 483L217.1 493.7L207.9 487.6L198.7 504.4L189.5 518.2L184.9 536.6L186.4 552L191 567.3L184.9 585.7L175.6 610.3L172.6 634.8L171 665.5L169.5 682.4L177.2 696.2L186.4 720.7L195.6 737.6L212.5 756L222.3 775.9L234 788.2L257 795.9L275.4 808.2L300 799.9L329.1 794.4L355.2 792.8L370.6 785.1L388.4 771.3L393.6 756L398.2 725.3L409 716.1L421.2 711.5L447.3 708.4L467.3 702.3L501.1 702.3L510.3 716.1L500.5 732.1L488.8 745.3L488.8 763.7L481.1 771.3L485.7 788.2L476.5 806.6L468.8 799L462.7 799L468.8 809.7L465.8 828.1L462.7 846.5L447.3 871.1L444.3 878.7L453.5 882.7L473.4 878.7L488.8 880.9L508.7 880.9L534.8 876.6L564 874.7L585.5 879.6L600.8 892.5L620.8 904.8L613.7 934.6L608.5 966.2L602.4 996.8L603.9 1029.7L624.5 1058.2L637.7 1072L650 1079.7L653 1090.4L665.3 1090.4L680.7 1095L696 1087.3L720.6 1077.5L729.8 1072L748.2 1072L769.7 1078.1L788.1 1091.9L798.9 1099L812.7 1119.6L817.3 1119.6L815.7 1101.2L828 1093.5L846.4 1076.6L852.6 1067.4L854.1 1045.9L875.6 1026L895.6 1019.9L923.2 1018.3L935.5 1010.6L957 999.9L973.8 983L989.2 993.8L983.1 1003L964.6 1009.1L975.4 1027.5L975.4 1036.7L963.1 1058.2L966.2 1076.6L981.5 1087.3L992.3 1076.6L993.8 1058.2L980 1033.7L993.8 1024.5L1015.3 1015.2L1018.4 1007.6L1024.5 990.7L1030.6 1006L1032.2 1012.2L1036.8 1013.7L1061.3 1015.2L1073.6 1021.4L1079.8 1032.1L1085.9 1043.5L1116.6 1039.8L1144.2 1039.8L1150.4 1050.5L1174.9 1055.1L1187.2 1053.6L1202.6 1044.4L1201 1038.3L1213.3 1038.3L1239.4 1036.1L1260.9 1036.7L1273.2 1036.7L1260.9 1042.9L1245.5 1045.9L1251.7 1055.1L1270.1 1059.7L1282.4 1064.3L1300.8 1073.5L1305.4 1088.9L1313.1 1102.7L1331.5 1104.2L1337.6 1110.4L1359.1 1119.6L1377.5 1141L1388.3 1155.8L1408.2 1171.7L1419 1182.5L1424.2 1182.5L1457.4 1182.5L1481.9 1181.8L1515.7 1187.1L1531 1193.2L1567.9 1213.1L1583.2 1226.9L1587.8 1236.1L1595.5 1230L1604.7 1245.3L1617 1279.1L1626.2 1303.6L1638.5 1312.8L1641.6 1334.3M97.4 845L118.8 853.3L140.3 858.8L158.8 868L193.5 878.4L210.9 884.9L223.2 881.8L250.9 868.9L266.2 868L284.6 874.1L303 886.4L336.8 914L352.2 926.3L385 937.9L407.4 943.2L415.7 948.7L431.4 951.4L456.6 960L475 961.6L479.6 953.9L490.3 953.9L493.4 966.2L484.2 969.2L497.4 982.1L514.9 993.8L537.3 1019.9L542.5 1026L534.8 1030.6L542.5 1039.8L537.9 1047.5L539.4 1056.7L560.9 1071.4L565.5 1059.7L560.9 1053.6L569.2 1059.1L574.7 1070.5L590.1 1076L603.9 1085.8L605.4 1098.1L602.4 1105.8L616.2 1107.9L619.3 1099.6L622.3 1105.8L629.1 1118.6L631.5 1111.9L643.8 1111.9L665.3 1116.5L680.7 1127.2L689.9 1142.6L705.2 1142.6L717.5 1136.4L714.4 1122.6L705.2 1113.4L711.4 1110.4L725.2 1101.2L732.2 1090.4L745.1 1090.4L763.5 1098.1L769.7 1107.3L774.3 1116.5L766 1117.1L772.8 1134.9L782 1134.9L782 1144.1L788.1 1154.8L797.3 1174.8L792.7 1196.3L800.4 1214.7L794.2 1236.1L806.5 1246L794.2 1266.8L785 1283.7L775.8 1286.8L760.5 1294.4L754.3 1309.8L748.2 1315.9L748.2 1328.2L728.2 1334.9L716 1340.5L714.4 1365L708.3 1374.2M565.5 694L585.5 679.3L603.9 665.5L620.2 660.3L633.1 658.4L645.4 654.8L669.9 657.8L680.7 653.2L680.7 657.8L699.1 657.8L717.5 662.4L733.8 674.1L754.3 677.8L769.7 683.9L785 693.1L803.5 702.3L821.9 713L836.3 717.7L849.5 717.7L852.6 722.3L855.6 728.4L872.5 731.5L886.4 740.7L897.7 743.7L894 749.3L866.4 754.5L844.9 752.3L824.9 752.9L800.4 754.5L787.2 756L791.2 749.9L805 740.7L803.5 731.5L782 729.9L763.5 719.2L752.8 702.3L732.9 699.2L717.5 697.7L703.7 688.5L682.2 687L680.7 680.8L660.7 685.4L653 677.8L646.9 668.6L631.5 669.2L619.3 680.8L607.9 683L594.7 693.1L579.3 696.2L565.5 694M619.3 693.1L628.5 692.2L639.2 700.8L637.7 705.4L628.5 706.9L622.3 705.4L619.3 693.1M767.5 804.5L778.9 799L803.5 799L812.7 800.5L831.1 806.6L834.8 815.2L815.7 814.3L803.5 821.4L788.1 817.4L775.8 806.6L767.5 804.5M920.1 756.9L938.5 752.9L957 758.5L973.8 755.1L1003 757.5L1026 761.2L1036.8 772.9L1050.6 772.9L1036.8 779L1049.1 782.1L1062.9 783.6L1076.1 794.4L1067.5 806.6L1056.1 799.9L1027.6 798.3L1019.9 805.1L1007.6 806.6L1004.5 802L992.3 805.1L990.7 806.6L981.5 825L970.8 811.8L946.8 805.7L920.1 806.6L909.4 806.6L887.9 802L887.9 792.8L898 792.8L917 797.4L929.3 799L943.8 796.8L952.4 795.9L941.6 782.1L941.6 768.3L929.3 762.1L920.1 756.9M923.2 784.2L937 788.2L938.5 791.3L926.3 786.7L923.2 784.2M1108.9 802L1112 797.4L1147.3 798.3L1159.6 802L1155 812.8L1128.9 814.3L1110.5 814.3L1108.9 802M1273.2 1056.7L1285.5 1056.1L1300.8 1053.6L1303.9 1032.1L1280.8 1036.7L1287 1049L1273.2 1056.7M748.2 547.4L760.5 545.8L782 544.3L769.7 552L751.3 552L748.2 547.4M783.5 539.7L794.2 539.7L806.5 550.4L809.6 558.1L803.5 571.9L798.9 564.3L803.5 555L794.2 544.3M772.8 591.9L783.5 601.1L788.1 619.5L785 630.2L772.8 616.4L768.2 607.2L772.8 591.9M817.3 581.1L831.1 587.3L835.7 608.7L831.1 601.1L826.5 588.8M848 608.7L860.3 624.1L855.6 624.1M861.8 639.4L875.6 664L872.5 656.3M838.8 636.4L852.6 645.6L848 645.6M891 667L906.3 680.8L895.6 683.9L892.5 671.6M912.4 717.7L929.3 711.5L930.9 720.7L917 722.3L912.4 717.7M927.8 677.8L940.1 679.3M949.3 696.2L975.4 696.2L978.4 700.8L963.1 699.2M792.7 596.5L801.9 596.5M1196.4 1027.5L1207.2 1022.9L1214.8 1027.5L1208.7 1030.6L1196.4 1027.5M1276.2 864.9L1285.5 858.8L1294.7 866.5L1282.4 874.1L1276.2 864.9M1286.1 886.4L1293.1 892.5L1290.1 898.7L1286.1 886.4M1294 909.4L1305.4 912.5L1305.4 923.2L1297.7 920.1L1294 909.4M1298.7 932.4L1304.5 938.5L1300.8 944.7L1298.7 932.4M1292.2 955.4L1297.1 958.5L1294.7 962.2L1292.2 955.4M1276.2 990.7L1282.4 990.1L1280.8 996.8L1276.2 990.7M1342.2 957L1349.3 961.6L1345.3 964.6L1342.2 957M1273.2 838.8L1280.2 840.4L1276.2 843.4L1273.2 838.8M1244 831.2L1253.2 838.8M1305.4 1022.9L1316.1 1016.8M1022.4 978.4L1028.5 984M1050.6 985.2L1062.9 995.3M1073 987.6L1079.8 995.3M1181.1 821.4L1191.2 820.4M1176.5 802L1188.7 802M504.1 734.5L510.3 740.7L502.6 742.2L504.1 734.5M536.4 993.8L554.8 999.9L568.6 1024.5L550.2 1021.4L536.4 993.8"/>
<path class="grid" d="M410.5 137.0V1366.0M717.5 137.0V1366.0M1024.5 137.0V1366.0M1331.5 137.0V1366.0M102.0 1211.6H1638.0M102.0 1058.2H1638.0M102.0 904.8H1638.0M102.0 751.4H1638.0M102.0 598H1638.0M102.0 444.6H1638.0M102.0 291.2H1638.0"/>
<path class="cn" d="M1500.3 137.8L1485 138.8L1469.6 153.1L1454.3 158.3L1439 166.3L1430.7 168.5L1423.6 172.3L1408.2 182L1392.9 192L1382.7 199.2L1377.5 202L1362.2 209.9L1350.6 214.5L1346.8 215.9L1336.9 214.5L1331.5 213.7L1328.4 214.5L1316.1 219.1L1300.8 229.8L1285.5 229.8L1270.1 234.4L1254.8 238.9L1239.4 241.7L1224 245.2L1208.7 250.6L1193.3 260.5L1178 262.6L1162.6 265.3L1147.3 268.3L1132 271.8L1116.6 275.9L1101.2 279.4L1085.9 285L1070.5 291.2L1055.2 297.5L1039.8 304.1L1033.3 306.5L1024.5 309.5L1009.1 315.1L993.8 321.9L978.4 324.1L963.1 326.6L947.8 329.5L932.4 332.6L917 337.2L901.7 338.6L886.4 339L871 339L855.6 338.8L840.3 337.2L825 338.3L809.6 338.9L794.2 339.1L778.9 338.6L763.5 338.2L748.2 337.9L745.1 337.2L732.9 330.8L717.5 323.7L702.1 321.9L686.8 316L671.4 311.6L656.1 308.8L640.8 307.7L625.4 306.9L610 306.6L594.7 306.5L608.3 291.2L610 275.9L603.1 260.5L594.7 257.8L580.6 260.5L579.3 260.7L578.7 260.5L572.6 245.2L564 243.6L548.6 240.8L533.3 239.2L518 239.8L502.6 241.3L487.2 245.2L471.9 245.2L456.6 238.4L441.2 236.5L425.8 234.2L410.5 229.8L395.1 226L379.8 221L364.4 216.9L349.1 216.4L333.7 216.2L318.4 214.5L303 216.6L287.7 219.3L272.4 220.1L257 219L241.7 222.4L232.1 227.1M191.2 229.8L164.9 229.8L149.6 231.5L134.2 231.8L118.8 232.5L103.5 231.9M1531.1 137.8L1531 137.9L1515.7 141.7L1503.3 153.1L1500.3 154.4L1485 163.2L1475.1 168.5L1469.6 171.6L1454.3 180.2L1448.2 183.8L1439 199.2L1423.6 199.2L1408.2 204L1392.9 212.6L1388.6 214.5L1377.5 220.2L1362.2 226.9L1353.8 229.8L1346.8 232.9L1331.5 235.9L1316.1 239.3L1300.8 243L1285.5 245.2L1270.1 252.9L1254.8 257.8L1245 260.5L1239.4 262.6L1224 269.3L1208.7 275.9L1193.3 281.3L1178 284.5L1162.6 286L1147.3 288.4L1132 291.2L1116.6 294L1101.2 300L1085.9 304.9L1080.7 306.5L1070.5 310.1L1055.2 316L1039.8 321.9L1024.5 327.1L1009.1 332.3L993.8 337.2L978.5 340L963.1 343.5L932.4 350L917 352.6L901.7 356.3L886.4 357.8L871 356.9L855.6 355.1L840.3 352.6L827.1 352.6M787.7 352.6L778.9 352.6L763.5 349.8L748.2 349.3L732.9 346.2L717.5 337.2L702.1 335.1L686.8 333.8L671.4 331.5L640.8 329.8L625.4 328.2L610 325.4L601 321.9L594.7 320.1L579.3 309.1L571.6 306.5L564 301.2L548.6 293.1L544.8 291.2L538.9 275.9L533.3 260.5L518 257.9L502.6 256.3L487.2 255.9L471.9 257.1L456.6 260.5L441.2 260.9L438.3 260.5L425.8 257.2L410.5 248.8L402.3 245.2L395.1 242.5L379.8 235.9L364.4 229.8L333.8 229.8L318.4 226.8L303 227.5L295.6 229.8L287.7 231.6L272.4 232.4L257 229.8L241.7 233.7L226.3 236.8L210.9 237.9L180.2 238.9L164.9 241L149.6 245.2L103.5 245.2M1548.5 137.8L1546.4 139.2L1531 153.1L1515.7 157.4L1500.3 163.8L1493.8 168.5L1485 176.2L1474.5 183.8L1469.6 188.4L1456.8 199.2L1454.3 201.6L1439 214.5L1423.6 220.9L1410.2 229.8L1408.2 230.9L1392.9 236.2L1377.5 245.2L1362.2 248.8L1346.8 252.5L1331.5 255.6L1316.1 256.5L1300.8 259.2L1295.2 260.5L1285.5 263.6L1270.1 270.6L1254.8 275.9L1239.4 287L1229.5 291.2L1208.7 298L1193.3 302.2L1178 303L1162.6 304.3L1147.3 306.5L1132 311.3L1116.6 315.8L1101.2 321.9L1085.9 326.5L1070.5 330.5L1061.8 332.6M1022.6 342.9L1009.1 347.3L993.8 352.6L978.4 352.6L963.1 356.9L947.8 361.9L932.4 367.9L917 371.1L901.7 373.5L886.4 373.9L871 371.7L855.6 367.9L824.9 367.9L809.6 370.8L794.2 370.3L786.7 367.9L778.9 365.8L763.5 362.7L748.2 362L732.9 359.9L717.5 357L702.1 352.6L686.8 350.5L671.4 349.9L656.1 349.8L640.8 349.6L625.4 347.7L610 344.7L594.7 340L589.4 337.2L579.3 330.9L564 321.9L548.6 315.1L533.3 308.4L527.4 306.5L518 298.7L510.3 291.2L503.3 275.9L502.6 275.4L487.2 272.1L471.9 271.3L456.6 271.7L441.2 271.8L425.8 271.6L410.5 267.9L399.1 260.5L395.1 258.5L372.4 245.2L364.4 241.8L349.1 237.5L333.8 237.5L318.4 238L303 238.2L287.7 239.8L272.4 240L257 237.5L241.6 240.8L226.3 243.8L215.7 245.2L210.9 245.8L195.6 246.9L180.2 247.9L164.9 250.3L149.6 252.3L134.2 252.3L118.8 252.1L103.5 251.4M1577.1 137.8L1561.8 149.9L1546.4 153.1L1531 164.7L1515.7 167.1L1512.4 168.5L1494.8 182.4M1464.8 209.9L1459.9 214.5L1454.3 218.8L1439 229.8L1423.6 237.1L1408.2 245.2L1392.9 254.9L1377.5 260.5L1362.2 265.7L1346.8 271.4L1331.5 275.9L1316.1 279.8L1300.8 283L1285.5 286.5L1270.1 291.2L1254.8 299.5L1239.4 306.5L1224 314.2L1208.7 317.4L1193.3 318.2L1178 318.6L1162.6 320.1L1156.4 321.9L1147.3 324.4L1132 329L1116.6 334.3L1107.6 337.2L1101.2 339.4L1085.9 344.9L1070.5 348.8L1055.2 349.9L1039.8 352.6L1024.5 357.4L1009.2 362L993.8 364.5L978.4 367.9L963.1 371.6L947.8 378.8L937.9 383.2L932.4 385.1L917 387.8L901.7 388.9L886.4 389.2L871 387.1L858.8 383.2L855.6 382.4L840.3 383.2L824.9 385.1L809.6 386L794.2 385.2L786.4 383.2L778.9 380.7L763.5 377.3L748.2 376.7L732.9 376.6L717.5 383.2L702.1 383.2L686.8 372.4L671.4 370.7L656.1 370.6L640.8 370.4L625.4 367.9L610 365.9L594.7 361.5L579.3 354.9L574.8 352.6L564 345.3L553.2 337.2L548.6 334.9L533.3 321.9L518 320.5L502.6 314.9L487.2 306.5L471.9 291.2L456.6 285.9L441.2 281.8L425.8 281.5L410.5 280.7L395.1 277.3L391.3 275.9L379.8 267L371.9 260.5L364.4 255.9L349.1 245.2L333.8 245.2L318.4 248.3L303 248.4L287.7 248.3L272.4 247.8L257 245.2L241.7 248.1L226.3 250.9L210.9 253.2L195.6 254.9L180.2 256.5L164.9 258.5L149.6 259.4L134.2 259.4L118.8 259.1L103.5 257.6M1638.5 137.8L1618.8 137.8M1638.5 200.5L1623.1 200.3L1607.8 199.2L1577.1 199.2L1566.6 183.8L1561.8 182.7L1546.4 183.8L1531 192.3L1515.7 199.2L1500.3 198.8L1499.9 199.2L1485 214.5L1469.6 229.8L1454.3 238.5L1439 244.3L1437.1 245.2L1423.6 256.6L1417.3 260.5L1408.2 275.9L1392.9 278.4L1377.5 275.9L1364.9 291.2L1362.2 292.4L1346.8 298.3L1331.5 306.5L1316.1 308.8L1300.8 309.8L1285.4 312.7L1270.1 319L1263.9 321.9L1254.8 324.9L1239.4 330.6L1224 333.8L1208.7 334.1L1193.3 333.2L1178 334.3L1162.6 337.2L1147.3 340.7L1132 346.2L1116.6 352.6L1101.2 357.1L1085.9 362.1L1070.5 365L1055.2 367.9L1039.8 370L1024.5 374.8L1013.5 376.8M974.1 384.5L963.1 387.6L947.8 394.6L932.4 398.6L917 401.5L901.7 402.9L886.4 403.9L871 403.9L855.6 401.5L840.3 398.6L824.9 401L809.6 400L803.6 398.6L794.2 396.5L778.9 394.3L763.5 393.2L748.2 393.1L732.9 393.7L717.5 398.6L702.1 396.5L686.8 395.7L671.4 392.5L656.1 390.8L640.8 390L625.4 388.2L610 386.6L594.7 383.2L579.3 383.2L564 371.9L555.9 367.9L548.6 364.7L533.3 358.6L518 354.5L502.6 352.6L487.2 337.2L471.9 323.7L469.9 321.9L456.5 308.8L454.2 306.5L441.2 291.2L425.8 289.9L410.5 288.8L395.1 287.3L379.8 282.5L364.4 275.9L350.3 260.5L349.1 259.7L333.8 257.4L318.4 257.6L303 258.2L287.7 257.5L272.4 255.6L257 254.4L241.7 255.8L226.3 257.9L210.9 260.5L195.6 262.6L180.2 263.9L164.9 265L149.6 265.4L134.2 265.4L118.9 265.2L103.5 263.8M1570.4 168.5L1577.1 181.1L1583.1 168.5L1577.1 164.4L1570.4 168.5M1638.5 229.8L1623.2 227.4L1607.8 225.1L1592.5 224.7L1577.1 224.7L1549.9 229.8L1546.4 230.4L1541.4 229.8L1531 228.5L1527.9 229.8L1515.7 236.7L1505.1 245.2L1500.3 247.6L1485 260.5L1469.6 258.7L1466.8 260.5L1454.3 275.9L1439 283.3L1423.6 291.2L1408.2 302.2L1397.1 306.5L1392.9 308L1377.5 310.6L1362.2 315.1L1346.8 319.7L1340.8 321.9L1331.5 325.9L1316.1 332.7L1300.8 337.2L1285.5 338.6L1270.1 340.8L1254.8 345.1L1239.4 349L1224 352.6L1208.7 352.6M1169.2 354.3L1147.3 358.4L1132 362.3L1116.6 367.9L1101.2 373.4L1085.9 379L1070.5 381.6L1055.2 383.2L1039.8 389.4L1024.5 393L1009.1 395.4L993.8 398.6L978.4 401.1L963.1 404.7L947.8 408.9L932.4 411.8L917 413.9L901.7 415.9L886.4 417.7L871 419.8L855.6 418.7L840.3 416.4L824.9 413.9L809.6 412L794.2 413.9L778.9 411.5L748.2 411.3L732.9 411.5L717.5 412.6L709.8 413.9L702.2 416.3L686.8 421.6L671.4 419.7L656.1 415.4L648.9 413.9L640.8 412.1L625.4 410.8L610 410L594.7 407.2L579.3 403.8L564 401.9L548.6 400.5L533.3 398.6L518 383.2L502.6 375.2L487.2 367.9L471.9 355.3L469.2 352.6L458.1 337.2L456.5 335.8L441.2 321.9L425.8 310.5L420.7 306.5L410.5 302.8L395.1 297L379.8 294.2L364.4 291.2L349.1 283.4L336.2 275.9L333.8 274.4L318.4 272.3L303 271L287.7 267.8L272.4 264.1L257 263.2L241.7 263.9L226.3 265.7L210.9 267.7L195.6 269.1L180.2 270.3L164.9 271L149.6 271.2L134.2 271.2L118.8 271.1L103.5 270.1M1638.5 262.2L1632.3 260.5L1623.1 258.9L1607.8 257.3L1592.5 257.8L1577.1 260.5L1546.4 260.5L1531 264.1L1515.7 267.1L1500.3 274.1L1495.6 275.9L1485 280.1L1469.6 291.2L1454.3 302.7L1447.8 306.5L1439 310.3L1423.6 317.8L1416.1 321.9L1408.2 326.7L1392.9 337.2L1379.7 337.2M1340.3 347.4L1331.5 349.5L1316.1 351.1L1300.8 351.7L1297.6 352.6L1285.5 358.8L1270.1 362.9L1254.8 367.9L1239.4 367.1L1224 367.9L1208.7 367.9L1193.3 369.9L1178 373.2L1162.6 374.4L1147.3 376.6L1132 378.9L1116.6 383.2L1101.2 390.2L1085.9 395.8L1076.5 398.6L1070.5 400.6L1055.2 407.6L1039.8 413.9L993.8 413.9L978.5 417.6L963.1 420.3L947.8 422.6L932.4 424.5L917 426.7L901.7 429.3L886.4 432.5L871 434.4L855.7 434.8L840.3 431.7L831 429.3L824.9 428.1L809.6 429.3L794.2 432.7L778.9 434.5L763.5 434.4L748.2 433.3L732.9 433.9L717.5 436.9L702.1 441.4L693.5 444.6L686.8 446.8L671.4 444.6L656.1 435.3L640.8 432.4L625.4 432.1L610 432.3L594.7 432.4L579.3 429.3L564 428.4L548.6 429.3L533.3 444.6L518 439.7L502.6 433.9L487.2 429.8L486.1 429.3L487.2 413.9L477.2 398.6L471.9 392.8L464.4 383.2L456.6 375.8L446.6 367.9L441.2 362.7L432.5 352.6L425.8 345.8L410.5 337.2L395.1 323L394.4 321.9L395.1 306.5L379.8 305L364.4 301.1L349.1 296.8L333.8 292.9L328.2 291.2L318.4 287L303 281.9L287.7 278.6L279.2 275.9L272.4 273.8L257 271.4L241.7 272.9L210.9 274.8L195.6 275.7L180.2 276.7L164.9 276.9L134.2 276.9L118.8 276.7L103.5 276.2M1638.5 337.2L1638.4 337.2L1630.9 321.9L1623.1 318.6L1607.8 317.7L1592.5 316.7L1577.1 306.5L1561.8 312.4L1546.4 321.9L1531 306.5L1515.7 296.9L1500.3 299.1L1485 304.5L1480.9 306.5L1469.7 314L1454.3 321.9L1439 331.9L1423.6 337.2L1408.2 351.3L1406.2 352.6L1392.9 367.9L1362.2 398.6L1346.8 399.8L1331.5 400.2L1325.9 398.6L1316.1 383.2L1300.8 382.7L1285.5 383.2L1270.1 383.2L1254.8 389.5L1239.4 389.1L1224 388L1208.7 383.2L1193.3 389.9L1178 392.8L1162.6 395L1147.3 395.8L1132 397.1L1125.9 398.6L1116.6 400.7L1101.2 408.2L1070.5 419.7L1055.2 425.7L1039.8 429.3L1024.5 432L1009.1 432.7L993.8 433.7L978.4 435.3L963.1 436.6L947.8 437.6L932.4 439L917 441.6L901.7 444.6L886.4 447.4L871 448.6L855.7 451L840.3 451.6L824.9 452.8L809.6 453.7L794.2 454.8L778.9 456.9L763.5 458.2L748.2 459.9L732.9 462.6L717.5 464.5L702.1 468.3L686.8 467.6L671.4 459.9L656.1 453.1L640.8 451.1L625.4 451.6L610 454.7L594.7 459.9L579.3 462.4L564 464.9L548.6 466.9L533.3 467.6L518 465.7L502.6 462.3L487.2 459.9L471.9 450.4L456.6 444.6L447.8 429.3L445.2 413.9L442.8 398.6L441.2 396.4L425.8 383.2L410.5 367.9L395.1 356.6L392.1 352.6L390.8 350.9M368.2 318.6L364.4 315.4L349.1 306.5L333.8 303.2L318.4 298.6L303 291.2L287.7 288.8L272.4 285.6L257 282.4L241.7 283L210.9 282.7L195.6 282.5L180.2 282.5L164.9 282.2L149.6 282L134.2 281.9L118.8 281.2L103.5 280.8M1638.5 522.1L1623.1 521.3L1607.8 506L1592.5 495.6L1577.1 490.6L1561.8 490.6L1567.5 475.3L1568.2 459.9L1577.1 444.6L1577.6 429.3L1577.1 427.5L1569.3 413.9L1563.6 398.6L1562.6 383.2L1561.9 367.9L1561.8 367.7L1546.4 365.7L1531 352.6L1516 337.2L1515.7 321.9L1514.9 337.2L1500.3 346L1488 352.6L1485 353.2L1479.7 352.6L1469.6 351.6L1466.4 352.6L1454.3 360.5L1445.8 367.9L1439 374L1423.6 381.9L1408.2 383.2L1392.9 398L1377.5 413.9L1370.4 429.3L1362.2 437.5L1353.7 444.6L1346.8 448.7L1333 459.9L1331.5 460.7L1316.1 464.5L1300.8 475.3L1285.5 477.9L1270.1 482.1L1254.8 490.6L1239.4 490.8L1224 490.6L1223.7 475.3L1224 472.9L1227.7 459.9L1226 444.6L1224 429.3L1209.5 413.9L1208.7 413.6L1193.3 413.5L1178 413.9L1162.6 418.2L1147.3 419.2L1132 419.4L1116.6 421.7L1101.2 429.3L1085.9 433.7L1070.5 438.9L1055.2 444.6L1039.8 444.6L1024.5 450.4L1009.1 452.3L993.8 453.6L978.4 454.6L963.1 454.6L947.8 454.5L932.4 455.3L901.7 459.9L886.4 462.7L871 466.3L855.6 470L840.3 472.8L824.9 475.3L809.6 477L794.2 478.7L778.9 481.3L763.5 483.8L748.2 485.8L732.9 487.7L717.5 490.6L702.1 490.6L686.8 485.4L671.4 475.3L656.1 471.8L640.8 469.4L625.4 473L610 475.3L594.7 480.7L579.3 485.8L564 487.7L548.6 488.3L533.3 490.6L518 490.6L502.6 483.8L487.2 478.6L476.6 475.3L471.9 473.9L456.6 468.5L441.2 459.9L426.9 444.6L425.8 442.5L410.5 444.6L410 429.3L395.1 422.5L379.8 413.9L375.6 398.6L364.4 384.5L363.9 383.2L362.8 367.9L359.8 352.6L355 337.2L350.1 321.9L349.1 321.2L333.8 316.7L318.4 309.7L311.8 308.3M285.5 302.2L272.4 299.3L257 296.7L241.6 293.9L217.9 291.2L210.9 290.6L195.6 289.4L180.2 288.4L164.9 287.4L149.6 287.1L134.2 286.9L118.8 285.7L103.5 285.4M1485 475.3L1492.3 459.9L1500.3 452.3L1515.7 450.8L1527.5 459.9L1531 475.3L1527.2 477.3M1500.3 481.4L1485 475.3M1638.5 644.1L1623.1 644L1623 628.7L1622.3 613.3L1617.5 598L1607.8 582.7L1592.7 567.3L1592.5 567.2L1591.8 567.3L1577.1 577.6L1561.8 579.7L1546.4 582.7L1531.6 598L1531 598.2L1515.7 598L1511.8 582.7L1500.3 572.2L1496.6 567.3L1487 552L1485 550.4L1469.6 542.7L1464 536.6L1454.6 521.3L1454.3 521.1L1452.6 521.3L1439 523.5L1423.6 522.6L1408.2 521.4L1408.1 521.3L1408.2 517L1409.3 506L1408.4 490.6L1408.2 490.5L1392.9 490L1390.8 490.6L1377.5 495L1362.2 495.8L1346.8 490.6L1331.5 490.6L1316.1 498.5L1300.8 503.5L1285.5 506L1270.1 511.4L1254.8 515.5L1239.4 518.5L1224 521.3L1208.7 524L1193.3 525.8L1178 525.6L1162.6 524.1L1147.3 522.1L1146.3 521.3L1139.4 506L1135.2 490.6L1135.1 475.3L1147.3 459.9L1132 459.5L1116.6 458.9L1101.2 458.7L1085.9 459.1L1070.5 459.9L1055.2 470.6L1039.8 475.3L1024.5 475.3L1009.1 477.8L993.8 478.2L978.5 478.3L963.1 475.3L947.8 474L932.4 475.3L901.7 482.7L886.3 486.7L884.2 487.2M857.8 493L855.6 493.4L840.3 496.4L824.9 498.6L809.6 501.2L794.2 506L778.9 508.8L763.5 511L748.2 510.2L732.9 509.3L717.5 508.7L702.1 506L686.8 499.2L672.8 490.6L671.5 489.7L656.1 490.6L640.8 488.5L633.5 490.6L625.4 494.1L610 506L594.7 508.3L564 510.1L548.7 512.9L533.3 516.7L518 514.9L502.6 506L487.2 504.2L471.9 503.8L456.6 503L441.2 501.9L425.9 500.3L410.5 494.5L405.1 490.6L395.1 481.8L390.9 475.3L379.8 459.9L379.8 444.6L371.7 429.3L364.4 413.9L354.7 398.6L349.1 386.9L347 383.2L341.5 367.9L335.9 352.6L333.8 347.6L328.4 337.2L318.4 321.9L303 319.9L287.7 316.3L272.4 312.5L257 310.2L241.7 305.6L226.3 302.5L210.9 299.4L195.6 296.5L180.2 294.1L164.9 292.9L149.6 292.3L134.2 291.9L128.5 291.2L118.8 290.1L103.5 290M1480.6 383.2L1485 388L1489.4 383.2L1485 379.4L1480.6 383.2M1638.5 743.5L1623.2 740.5L1607.8 737.4L1592.5 736.1L1577.1 722.1L1575.2 720.7L1561.8 705.4L1561.8 690L1546.4 683.6L1535.4 674.7L1531 671.8L1515.7 659.4L1500.3 660.3L1497.9 659.4L1485 652.9L1469.6 644L1454.3 644.5L1453.9 644L1451.5 628.7L1448 613.3L1440.8 598L1439 596.1L1423.6 586.6L1408.2 582.7L1401.2 567.3L1392.9 552L1377.5 552L1362.2 550.1L1346.8 547.2L1331.6 536.6L1331.5 536.6L1327.7 552L1316.1 562.4L1309.1 567.3L1300.8 571.5L1285.9 582.7L1285.5 582.8L1284.5 582.7L1271.5 567.3L1270.1 566.9L1254.8 566L1239.4 567.3L1224 572.7L1208.7 572.8L1193.3 570.7L1178 567.3L1162.6 564.7L1147.3 567.3L1132 567.9L1116.6 567.3L1101.2 561.4L1085.9 554.5L1082.3 552L1070.6 539.6L1067.9 536.6L1055.2 524.2L1052.3 521.3L1039.8 506L1024.5 504.5L1009.1 503.3L993.8 503.4L978.4 506L932.4 506L917 504.5L901.7 506L886.4 513.9L871 518L855.6 520M828.8 525.6L825 527L809.6 530.2L794.2 533.7L778.9 536.6L763.5 540.7L748.2 539.5L741.7 536.6L732.8 533.4L717.5 526.2L708.1 521.3L702.1 519.4L686.8 513.1L671.4 508.5L656.1 506L640.8 513.1L625.4 521.3L610 531.2L594.7 534.2L579.3 536.6L564 541.8L548.6 546.7L533.3 550.2L526.3 552L518 556L502.6 567.3L487.2 560.3L471.9 553.3L469.1 552L456.6 543.7L444 536.6L441.2 535.7L425.8 534.3L410.5 536.6L395.1 536.6L391 521.3L382.4 506L379.8 502.7L372 490.6L364.4 475.3L357.6 459.9L349.1 446.5L347.8 444.6L346.6 429.3L344.6 413.9L336.6 398.6L333.8 393L327.3 383.2L318.4 367.9L312.9 352.6L303 340.8L298.8 337.2L287.7 332.2L272.4 324.8L257 321.9L241.7 316.7L226.3 312.8L210.9 308.2L205.7 306.5L195.6 303.7L180.2 299.6L149.6 297.6L134.2 296.8L118.8 294.6L103.5 294.3M241.7 1336.1L241.2 1334.3L241.7 1334L242.4 1334.3L241.7 1336.1M124.4 1332.6L125.6 1330.9M149.6 1318.5L151.2 1319L164.9 1332.7L166.1 1334.3L164.9 1349.7L149.6 1349.6L149.5 1349.7L148.7 1365M1638.5 834.4L1623.1 832.9L1607.8 829.2L1605.5 828.1L1592.4 818.8L1586.8 812.8L1577.1 803L1573.9 797.4L1565.5 782.1L1561.8 776.2L1555.2 766.7L1551.1 751.4L1546.4 747.3L1531 751.4L1515.7 752.1L1514 751.4L1501.2 736.1L1500.3 735.6L1495.7 736.1L1485 737.5L1469.6 737.4L1467.7 736.1L1454.3 723.2L1451.9 720.7L1439 708.3L1435.6 705.4L1423.6 695.4L1408.2 691.5L1392.9 690.6L1389.8 690L1377.5 679.3L1362.2 690L1346.8 674.7L1331.5 674.7L1316.1 675.7L1304 690L1300.8 691.2L1285.4 692.2L1270.1 690.5L1254.8 692.2L1250.1 696.1M1228.7 716.1L1224 720.7L1208.7 705.6L1193.3 705.4L1193.3 690L1208.7 687L1224 680.6L1239.4 675.9L1249.9 674.7L1254.8 670.7L1270.1 664.8L1285.5 659.9L1300.8 660.1L1316.1 666.4L1331.5 674.7L1346.8 674.7L1360.1 659.4L1362.2 658.7L1377.5 644L1392.9 629L1393 628.7L1408.2 613.3L1392.9 613.3L1377.5 613.2L1376.3 613.3L1362.2 616.8L1346.8 617.7L1331.5 622.9L1316.1 627.6L1300.8 628.6L1300.2 628.7L1285.5 643.2L1270.1 643.5L1254.8 643.1L1248.6 644L1239.4 644.9L1231.1 644L1224 643.1L1208.7 643L1202.8 644L1193.3 646.9L1178 645.4L1162.6 644.3L1162.3 644L1158.8 628.7L1162.6 613.3L1147.3 612.8L1132 611.5L1116.6 609L1101.2 605.6L1085.9 600.9L1074 598L1070.5 597.4L1055.2 598L1039.8 593.9L1024.5 587.2L1009.1 583L1008.8 582.7L1007 567.3L1004.5 552L997.2 536.6L993.8 535.4L978.4 533.6L963.1 532.8L947.8 533.5L932.4 536.6L917 538.2L901.7 542.8L887.9 552L886.4 552.7L871 554.8L855.6 558L840.3 561.9L824.9 563.4L822.8 563.5M794.2 567.3L778.9 570.5L763.5 572.3L748.2 572.2L732.9 569.9L730 567.3L717.5 552L708.2 536.6L702.1 532.3L686.8 526.6L671.4 523.3L656.1 526.6L645.5 536.6L642.5 552L640.8 567.3L626.2 582.7L625.4 583.3L610 588L596.2 598L594.7 598.5L579.3 600L564 600.9L548.6 601L533.3 598L518 598L502.6 599.7L487.2 598L471.9 592.7L456.5 588.6L441.2 590.1L425.8 592.9L410.5 598L395.1 599.7L379.8 598.5L364.4 598L366.9 582.7L364.4 567.3L357.6 552L353.4 536.6L355.2 521.3L350.7 506L349.1 501.3L343.8 490.6L338.7 475.3L333.8 459.9L318.4 452.6L303 444.9L302.8 444.6L303 443.4L307.3 429.3L313.7 413.9L309.3 398.6L303 383.2L293 367.9L287.7 352.6L272.4 342.9L265 337.2L257 334.2L241.6 327.2L226.3 323L224.4 321.9L210.9 316.1L195.6 310.6L184.8 306.5L180.2 305.1L164.9 304.4L149.6 302.9L134.2 301.7L118.8 299L103.5 298.4"/>
<path class="cp" d="M303.8 1365L318.4 1357L321.8 1349.7M339.3 1337.6L342 1334.3L349.1 1331.2L364.4 1325.9L379.8 1333.4L381.2 1334.3L388 1349.7L391 1365M424 1365L425.8 1363.5L433.2 1349.7M450.8 1337.8L456.6 1334.3L471.9 1349.7L468.2 1365M103.5 1291.8L113.7 1288.3L118.8 1287.1L134.2 1281.5L149.6 1274.6L153.1 1273L163.8 1257.6L164.9 1256.7L180.2 1254.6L195.6 1257L197.9 1257.6L210.9 1266.1L226.3 1273L229.7 1288.3L226.3 1303.6L241.7 1303.9L257 1303.6L261.4 1303.6M271.4 1314.6L271 1319L272.4 1320.8L287.7 1329.1L296.4 1334.3L302.7 1349.7L303 1365M1638.5 937.2L1623.1 936.3L1607.8 935.5L1592.5 921.8L1589.5 920.1L1577.1 908.7L1570.9 904.8L1561.8 897.9L1546.4 889.5L1537.9 874.1L1531 858.8L1515.7 843.4L1500.3 843.6L1485 843.7L1484.3 843.4L1469.6 831.6L1454.3 830.1L1451.1 828.1L1439 817.3L1435.1 812.8L1423.6 797.4L1408.2 790.5L1392.9 797.4L1377.5 782.1L1392.9 772.8L1393.8 766.7L1394.8 751.4L1408.2 736.1L1392.9 736L1391.5 736.1L1377.5 740L1372.1 736.1L1362.2 734.1L1346.8 734.3L1331.5 736.1L1316.1 743.2L1300.8 744.3L1298.6 744M1277.8 739L1270.1 736.1L1257.1 751.4L1254.7 752.4L1239.4 754L1228.7 751.4L1224 750.6L1208.7 750.4L1204.3 751.4L1193.3 756.8L1178 766.7L1162.6 766.7L1147.3 758.7L1132 755.6L1116.6 766.7L1116.6 751.4L1116.2 736.1L1116.6 733L1119.6 720.7L1116.6 708.4L1116.1 705.4L1116.6 699.9L1117.5 690L1116.6 688.8L1103.2 674.7L1101.2 673.4L1085.9 665.6L1074.4 659.4L1070.5 658L1055.2 659.4L1039.8 661.3L1024.5 659.9L1023.4 659.4L1009.1 644L993.8 632.3L988 628.7L978.4 621.7L967.3 613.3L957.5 598L950.4 582.7L948.1 567.3L947.8 552L932.4 565.9L917 566.8L901.7 567.3L886.4 579.6L871 581.3L864.4 582.7L855.6 586.9L840.3 592.5L824.9 596.4L809.6 598L778.9 598L763.5 599.9L748.2 602.5L732.9 607.1L717.5 613.3L702.1 600.7L686.8 598L673.6 598.4M665.7 600.2L656.1 603.1L640.8 609.8L625.4 613.3L610 619.2L594.7 623.8L579.3 626.6L564 630.2L555.8 628.7L548.6 627.5L533.3 625.2L518 624.9L502.6 626.1L487.2 627.5L483.8 628.7L471.9 637.7L461.5 644L456.6 645.6L441.2 645.5L425.8 644L419.3 644M397.3 644L364.4 644L349.1 644.5L345.5 644L333.8 641.1L318.4 636.6L303 631.6L287.7 628.7L272.4 614.1L271.8 613.3L271.5 598L272.2 582.7L272.4 582.4L287.7 575.2L303 567.3L304.7 552L304.1 536.6L303 534.2L294.2 521.3L291.4 506L290.8 490.6L287.7 483L283.9 475.3L272.4 462.4L271.5 459.9L271.1 444.6L272.4 439.7L277.2 429.3L287.7 413.9L287.7 398.6L276.3 383.2L272.4 377.3L266 367.9L257 352.6L241.7 337.2L226.3 334.2L210.9 324.9L206.6 321.9L195.6 317.3L180.2 310.7L164.9 309.6L149.6 308L134.2 306.5L118.8 303.5L103.5 302.5M1514.7 836.9L1515.7 843.4L1516 836.9M1527.4 820.6L1531 818.1L1531.9 812.8L1531 797.4L1515.7 796.2L1500.3 797.3L1500.2 797.4L1500.3 798.8L1503.2 812.8L1508.9 821.3M675.8 597.7L686.8 598L702.1 582.7L709.2 567.3L705.6 552L702.1 547.4L686.8 538.3L683.3 536.6L671.4 532.7L663 536.6L658.9 552L659.2 567.3L663.4 580.7M103.5 1257.8L118.8 1257.7L118.9 1257.6L119.1 1242.3L118.8 1235.1L117.8 1226.9L118.9 1226.5L132.8 1211.6L134.2 1211.1L149.6 1211.6L155.3 1209.7M175.9 1205L180.2 1204.3L195.6 1207.4L210.9 1210.9L212.1 1211.6L226.3 1226.9L241.7 1230.5L257 1234.7L272.4 1240.4L276.6 1242.3L287.7 1249.3L290.9 1252.1M301.6 1269.1L303 1273L318.4 1288.3L333.8 1283.4L349.1 1288.3L364.4 1288.3L379.8 1282.6L395.2 1284.5L410.5 1288.3L425.8 1293.7L441.2 1292L456.6 1288.3L470 1273L471.9 1271.9L487.2 1268.8L502.6 1270.7L518 1272.3L533.3 1273L536.6 1288.3L548.7 1302.8L549.1 1303.6L548.6 1307.5L533.3 1319L548.6 1326L550.4 1334.3L558.5 1349.7L564 1365M1638.5 972.8L1623.1 966.2L1614.4 965M1594.4 959.4L1592.5 958.8L1579 950.8L1577.1 950.3L1561.8 948.6L1546.4 946.5L1531 944L1515.7 942.1L1500.3 938.6L1485 935.5L1469.6 935.5L1454.3 925.3L1439 920.1L1423.6 914.8L1408.2 914.1L1392.9 908.9L1385 904.8L1377.5 889.5L1362.2 886.1L1347.4 889.5L1346.8 889.5L1346.8 885.9L1347.3 874.1L1362.2 858.8L1346.8 858.7L1331.5 856.7L1327.7 843.4L1316.1 831L1311.6 828.1L1300.8 812.8L1300.8 797.4L1285.5 812.8L1239.4 812.7L1224 812.8L1208.7 819L1193.3 817.3L1178 816.4L1162.6 815.9L1147.3 812.8L1132 797.4L1116.6 796.4L1106.7 797.4L1101.2 798.2L1099.7 797.4L1085.9 788.5L1070.5 783.5L1055.2 782.1L1039.8 766.7L1055.2 751.4L1050.9 736.1L1055.2 723.5L1055.7 720.7L1055.2 705.4L1039.8 704.2L1024.5 702.8L1009.1 697.7L993.8 690L978.4 680.5L963.1 674.7L947.8 659.4L932.4 664.6L917 666.4L895.9 659.4L886.4 655.6L871 652.3L855.7 649.9L840.3 650L824.9 655.2L814.1 659.4L809.6 660.7L794.2 674.7L778.9 674.8L763.5 674.7L763.3 659.4L763.5 644L748.2 641.8L732.9 642.5L726.9 644L717.5 646L702.1 645.8L686.8 645.5L671.4 644L656.1 645.4L640.8 644L625.4 648.4L610 649.9L594.7 659.4L579.3 651.8L564 659.4L548.6 659.4L533.3 662.7L518 666.3L502.6 669L487.2 671.7L471.9 674.7L456.6 676.2L441.2 675.8L425.8 674.7L410.5 677.3L395.1 678.1L379.8 680.7L364.4 686.8L349.1 689.9L348.6 690L349.1 693.2L352.2 705.4L364.4 720L364.4 721L351.3 736.1L349.3 751.4L349.1 751.6L333.8 766.7L318.4 769.3L303 770M283.1 762.1L272.4 751.4L271.8 736.1L270.9 720.7L272 705.4L272.4 703.3L287.7 690L303 674.7L287.7 674.6L272.4 674L257 673.5L241.7 674.7L226.3 659.4L223.6 644L222.1 628.7L223.5 613.3L226.3 598L230.5 582.7L234.7 567.3L237.5 552L239.4 536.6L240 521.3L241.7 506L226.3 490.6L239.4 475.3L241.7 471.2L246.6 459.9L250.8 444.6L257 429.3L250.5 413.9L249.3 398.6L245.4 383.2L241.7 367.9L230.2 352.6L226.3 349.7L212.5 337.2L210.9 336.3L195.6 325.6L191.8 321.9L180.2 316.3L164.9 314.6L149.6 312.4L134.2 310.4L118.8 307.7L103.5 306.6M1224 935.5L1224 935.5L1223.6 920.1L1221.9 904.8L1218.3 889.5L1208.7 874.6L1208.6 874.1L1208.7 858.8L1224 843.4L1239.4 834.2L1254.8 843.4L1263.9 858.8L1270.1 871.5L1272.3 874.1L1270.1 879.2M1261.7 897.1L1254.8 904.8L1259.6 920.1L1270.1 935.3L1270.1 935.5L1254.8 935.6L1239.4 935.6L1224 935.5M1300.8 874.1L1300.8 874.1M1362.2 843.4L1362.2 843.4M763.5 628.7L778.9 628.7L763.5 628.7M686.7 582.7L686.9 582.7L691 567.3M678 551.8L673.6 552L671.4 567.3L686.7 582.7M103.5 1166.9L109.4 1165.6L118.8 1163.9L134.2 1162.7L149.6 1160.6L164.9 1163.6L170 1165.6L180.2 1172L195.6 1180.9L210.9 1180.9L226.3 1184.8L241.7 1187.7L257 1184.6L272.4 1185.9L287.7 1185.6L303 1180.9L318.4 1178.3L333.8 1173.3L349.1 1165.6L364.4 1180.6L364.7 1180.9L369.1 1196.3L379.8 1209.5L381.2 1211.6L392.5 1226.9L395.1 1229.1L410.5 1242.3L425.8 1242.7L426.6 1242.3L439.2 1226.9L441.2 1226L456.5 1221.4L471.9 1216.4L487.2 1215.6L502.6 1218.6L518 1223.7L526.4 1226.9L533.3 1229.5L548.6 1238L558.5 1242.3L564 1245L579.3 1242.3L594.7 1252.4L610 1254.5L629.8 1255.7M651.7 1256.8L671.4 1257.5L686.8 1257.6L672.6 1273L671.9 1288.3L671.4 1289.5L660.7 1303.6L657.1 1319L656.1 1320.5L651.4 1325.1M635 1338.8L625.4 1344.1L610 1349.7L609.3 1365M1331.5 1088.9L1331.5 1088.9M1638.5 1094L1623.1 1093.7L1607.8 1091.2L1592.5 1088.9L1583.8 1073.5L1577.1 1064.9L1570.6 1058.2L1561.8 1042.9L1546.4 1027.5L1531.1 1026.5L1515.7 1026.1L1500.3 1027.5L1485 1029.5L1469.6 1028.5L1464.4 1027.5L1454.3 1024.3L1439 1016.9L1427.6 1012.2L1423.6 1011L1408.2 1010.5L1392.9 1010.2L1387.6 996.8L1377.5 990.6L1367.8 996.8L1377.5 1012.2L1362.2 1025.3L1362.1 1023.1M1352.3 1007L1346.8 1003.9L1337.8 1012.2L1346.3 1027.5L1331.5 1042.9L1316.1 1041.1L1300.8 1042.4L1285.5 1030.2L1270.1 1027.5L1285.5 1012.2L1286.1 996.8L1285.5 994.7L1276.2 981.5L1270.1 979L1254.8 966.2L1239.4 964.9L1224 964L1208.7 958L1195.5 950.8L1193.3 949.9L1178 946.3L1163.2 935.5L1164.2 920.1L1168.9 904.8L1178 889.5L1178.1 874.1L1178 858.8L1162.6 843.4L1147.3 857.9L1132 858.8L1116.6 869.6L1101.2 873.7L1085.9 874.1L1083.8 889.5L1070.5 904.8L1070.4 889.5L1055.2 875.6L1044.9 874.1L1055.2 858.8L1052.1 843.4L1050.2 828.1L1055.2 812.9L1055.2 812.7L1039.8 809.7L1037.2 797.4L1030.1 782.1L1025 766.7L1024.5 765.2L1013.4 751.4L1009.1 746.9L993.8 736.1L978.4 720.7L963.1 713.7L947.8 708.9L932.4 705.4L917 705.4L901.7 702.9L886.4 700.1L871 697.6L855.6 694.3L842.3 690L840.3 689.5L839.2 690L824.9 705.4L809.6 706.4L794.2 705.4L778.9 701.2L763.5 694.4L748.2 690L732.8 678.6L717.5 674.7L702.1 670.1L686.8 669.3L671.4 670.7L656.1 671.7L640.8 670.1L625.4 667.8L610 662.2L594.7 667L579.3 670.9L564 674.7L568.7 690L579.3 701L594.7 703.7L610 704.9L614.1 705.4L625.4 712L640.5 705.4L640.8 690L640.8 705.4L643.7 720.7L642.6 736.1L640.8 738.7L625.4 751.4L610 759L594.7 763.8L590.4 766.7M579.3 783.6L564 797.4L548.6 812.8L549.2 828.1L548.6 843.4L533.3 829.7L518 828.1L502.6 843.4L489.1 858.8L487.2 874.1L456.6 874.1L468.2 858.8L456.6 843.4L453.4 828.1L449.6 812.8L456.4 797.4L456.6 797.2L471.9 782.1L471.9 766.7L486.6 751.4L487.3 748.2L494.6 736.1L487.2 720.7L485.5 705.4L471.9 693.7L456.6 692L441.2 690L425.8 705.4L410.5 705.4L395.1 711.4L388.1 720.7L382.5 736.1L379.8 751.4L364.4 766.7L364.4 782.1L349.1 783.4L333.8 784.5L318.4 797.4L303 812.8L287.7 822.2L279.8 828.1L272.4 830.1L257 843.4L241.7 828.2L241.5 828.1L226.3 812.9L226.2 812.8L225.6 797.4L223.9 782.1L221.7 766.7L210.9 753.4L210 751.4L195.6 736.4L195.2 736.1L191.6 720.7L187.7 705.4L180.2 692.6L179.7 690L179.5 674.7L179.9 659.4L180.2 644L190.8 628.7L195.6 613.3L201.1 598L204.8 582.7L205.6 567.3L206.9 552L208.8 536.6L210.9 521.3L207.1 506L206.9 490.6L210.9 475.3L226.3 460.5L226.7 459.9L226.3 444.6L224 429.3L226.3 413.9L222.3 398.6L221.5 383.2L219.7 367.9L210.9 352.6L180.2 321.9L164.9 319.5L149.6 316.8L118.8 311.6L103.5 310.4M1039.8 1027.5L1055.2 1013L1062.9 1019.5M1059.6 1030.8L1055.2 1032.1L1039.8 1027.5M1132 1027.5L1131.8 1012.2L1132 996.8L1119.9 981.5L1116.6 978L1101.2 981.5L1085.9 967.2L1084.4 966.2L1070.5 961.8L1055.2 952.5L1039.8 950.9L1039.8 950.8L1039.8 939.7L1055.2 938.8L1070.5 935.6L1071.3 935.5L1085.9 920.1L1086.2 904.8L1092.5 889.5L1101.2 889.1L1101.3 889.5L1103.1 898.2M1120 910.7L1132 918.1L1139.2 920.1L1147.3 928.1L1161.2 935.5L1155.4 950.8L1147.3 962.8L1132 966.1L1132 966.3L1147.3 966.7L1162.6 981.5L1178 996.1L1178.2 996.8L1178 997.2L1162.6 1009L1147.3 1012.2L1147.4 1016.6M1136.3 1027.5L1132 1027.5M1039.8 920.1L1039.8 920.1M1638.5 1274.3L1634.1 1274.8M1614.6 1282.9L1607.8 1288.3L1592.4 1275.6L1591.4 1273L1592.4 1268L1607.8 1257.6L1623.1 1243L1638.5 1257.6M1638.5 1227.4L1623.1 1227.1L1607.8 1227L1592.5 1226.9L1577.1 1212.1L1576.6 1211.6L1561.8 1199.4L1546.4 1196.3L1515.7 1165.6L1500.3 1155.2L1485 1150.2L1470.1 1134.9L1469.6 1134.6L1467.8 1134.9L1454.3 1139.2L1441.3 1150.2L1439 1151.3L1423.6 1165.6L1408.2 1165.6L1392.9 1150.9L1377.5 1150.2L1375.9 1134.9L1362.2 1120.8L1361 1119.6L1347.3 1104.2L1346.8 1104L1331.5 1104.2L1331.5 1119.6L1316.1 1123.1L1300.8 1134.9L1285.5 1120.2L1283.8 1119.6L1270.1 1107.4L1266.1 1104.2L1254.8 1096L1239.4 1088.9L1234.8 1073.5L1232.8 1058.2L1224 1044.4L1220.5 1042.9L1208.7 1036.1L1193.3 1037.3L1183.9 1042.9L1178 1044.7L1162.6 1048L1147.3 1047.8L1132.1 1042.9L1116.6 1032.8L1101.2 1028.9L1085.9 1033.8L1074.3 1042.9L1070.5 1043.9L1062.8 1042.9L1055.2 1041.1L1039.8 1037.2L1025.2 1027.5L1024.5 1024.7L1016.7 1012.2L1011.2 996.8L1009.1 988.3L993.8 985.5L978.4 982.2L977.5 981.5L963.1 966.5L962.4 966.2L963.1 964.1L978.4 952.8L993.8 950.8L993.9 935.5L993.8 935.3L979.2 920.1L978.5 919.2L963.1 904.8L947.8 904.8L932.4 911.5L930.9 920.1L921.5 935.5L917 937.3L901.7 936.6L899.6 935.5L886.3 920.9L886 920.1L886.4 914.5L893.2 904.8L901.7 895.3L911.3 900.6M929.2 891L930.8 889.5L917 876.6L901.7 879L886.3 879.3L886.2 874.1L886.4 871.2L888.8 858.8L901.7 855.6L905.7 851M917 834.6L921 828.1L921.5 812.8L932.4 797.4L947.8 812.6L948.5 812.8L963.1 824.8L978.4 827L993.8 812.8L1009.1 811.4L1016.2 797.4L1016 782.1L1010.8 766.7L1009.1 765L993.8 751.8L992.4 751.4L978.5 742.9L963.1 739.7L947.8 739.8L932.4 745L917 745.7L901.7 745.5L886.4 736.4L886.2 736.1L871 725.6L855.6 724.1L840.3 723.5L824.9 720.7L809.6 728.4L794.2 730L778.9 728.6L764.1 720.7L763.5 720.4L748.2 705.4L732.8 704L717.5 702.5L711.9 705.4L717.5 720.7L724.1 721M743.1 728.7L748.2 732.4L753 736.1L763.5 751.4L763.5 766.7L748.2 771L732.9 771.6L724.9 766.7L732.9 751.4L717.5 742.3L702.1 751.4L702.1 782.1L686.8 790.2L671.4 797.4L656.1 808.2L647.1 812.8L640.8 817.2L625.4 827.1L622.3 828.1L610 842.3L594.7 843.4L594.7 843.5L609.9 858.8L610 858.9L625.4 858.8L640.8 857.1L656.1 856.8L671.4 848.5L679.7 843.4L686.8 837.7L702.1 837.3L717.5 830.6L732.9 843.4L717.5 855.4L702.1 858.8L702.1 874.1L686.8 889.5L671.4 890.6L656.1 891.1L640.8 896.1L636.7 904.8L630.4 920.1L627.5 935.5L625.4 950.8L610 955L605.9 966.2L607.4 981.5L594.7 996.8L579.3 981.5L579.3 946.4M579.3 924.5L579.3 920.1L579.1 904.8L564 889.5L548.6 874.6L533.3 874.1L518 874.6L502.6 876.1L487.2 880.7L471.9 884.9L461 889.5L456.6 890.3L441.2 904.8L426.6 889.5L441.2 874.1L437.2 858.8L441.2 848.7L442.1 843.4L441.2 828.1L434.3 812.8L438.7 797.4L441.2 789.2L446.3 782.1L441.2 766.7L456.6 751.4L471.9 751.4L480.3 736.1L479.6 720.7L472.8 705.4L471.9 704.6L456.6 701.8L441.2 705.4L425.9 711.9L410.5 713L401.1 720.7L395.1 736.1L395.1 751.4L379.8 760.8L373.8 766.7L369.6 782.1L364.4 789.8L349.1 796.2L333.8 797L333.2 797.4L318.4 812.8L322.3 828.1L318.4 829L303 831.4L287.7 838.2L272.4 842L270.7 843.4L257 846L252.8 843.4L241.6 832.3L235.2 828.1L226.3 819.2L221.6 812.8L216.4 797.4L210.9 786.2L210.1 782.1L208.6 766.7L197.4 751.4L195.6 749.5L180.2 736.1L164.9 720.7L166.4 705.4L164.9 698.3L163.1 690L164.9 674.7L172.4 659.4L175.1 644L177.7 628.7L179 613.3L180.2 598L187.3 582.7L189.8 567.3L191 552L191.6 536.6L191.9 521.3L190.8 506L189.8 490.6L195.6 475.3L199.2 459.9L200.5 444.6L198.7 429.3L195.6 413.9L201.6 398.6L206.3 383.2L205.9 367.9L196 352.6L181.4 337.2L180.2 336L164.9 326.5L152.9 321.9L149.6 321.2L134.2 318L118.8 315.5L103.5 314.2M1616.9 1168L1608.6 1165.6L1607.8 1165.4L1607.5 1165.6L1597.1 1180.9L1592.5 1193.5L1589.4 1196.3L1592.5 1209.2L1607.8 1211.6L1638.5 1211.6M103.5 1134.9L118.8 1122.2L123.2 1121.7M145.2 1119.8L149.6 1119.6L164.9 1125.4L180.2 1126.9L195.6 1121L210.9 1119.6L226.3 1123.9L241.7 1124.5L257 1124L272.4 1123.9L287.7 1122.8L292.1 1121.9M310.5 1127.2L317.9 1134.9L318.4 1135L333.8 1135.1L337.3 1134.9L349.1 1119.6L364.5 1119.6L357.7 1134.9L364.4 1137.5L372.8 1150.2L379.8 1165.6L395.1 1180.9L410.5 1182.5L425.8 1182.2L441.2 1181.1L441.4 1180.9L445.7 1165.6L456.1 1150.2L456.6 1150L471.9 1150.2L487.2 1150.2L502.6 1149L518 1150.2L548.6 1180.9L558.4 1196.3L564 1211.6L579.3 1205.7L594.7 1211.6L610 1214.2L625.4 1211.6L640.8 1208.3L656.1 1204.2L671.4 1196.3L686.8 1206.6L717.5 1209.8L723.5 1211.6L732.9 1217.8L748.2 1226.2L749 1226.9L754.1 1242.3L756.8 1253.2M763.5 1273L749.3 1288.3L748.2 1289.3L732.9 1297.8L727.4 1303.6L718.3 1319L717.5 1319.7L702.1 1329.6L698.4 1334.3L688.5 1349.7L686.8 1357.6L684.9 1365M379.8 1104.2L395.1 1088.9L395.1 1104.2L379.8 1104.2M625.4 1016.9L620 1012.2L625.4 1004.5L631.1 1012.2L625.4 1016.9M410.5 889.5L410.5 889.5M824.9 874.1L824.9 874.1M855.6 858.8L855.6 858.8M349.1 828.1L349.1 828.1M594.5 674.7L594.7 675L610 685.9L620.4 674.7L618.6 673.5M598.5 672.9L594.5 674.7M1638.5 1335L1635.7 1334.3L1623.1 1328.3L1607.8 1319L1592.5 1307.9L1577.1 1303.6L1561.8 1289.2L1561 1288.3L1546.4 1273.5L1545.1 1273L1531 1257.6L1519.9 1242.3L1515.7 1231.7L1511.8 1226.9L1500.3 1218.3L1485 1217.8L1469.6 1221.1L1456.2 1226.9L1454.3 1227.3L1453.7 1226.9L1439 1213.3L1438 1211.6L1423.6 1196.3L1408.2 1180.9L1392.9 1170.5L1377.5 1165.6L1346.8 1165.6L1345.5 1150.2L1331.5 1137.8L1316.1 1139.3L1300.8 1139.8L1293.1 1134.9L1285.5 1127.6L1270.1 1121.8L1265.5 1119.6L1254.8 1110.9L1239.4 1104.2L1224 1088.9L1221.3 1073.5L1212 1058.2L1208.7 1056.5L1193.3 1056.6L1180 1058.2L1178 1058.4L1168 1058.2L1162.6 1058.1L1147.3 1056.2L1132 1051.5L1116.6 1045.5L1101.2 1043.1L1085.9 1045.7L1070.5 1048.9L1055.2 1047L1039.8 1045.9L1024.5 1044.5L1009.2 1055.2L997 1042.9L993.8 1040.7L986 1027.5L978.4 1015.9L976.8 1012.2L971.3 996.8L963.1 989.8L947.8 985L932.4 982.6L928.3 981.5L917 973.6L901.7 968L886.4 966.2L886.4 950.8L871 935.5L857.1 950.8L855.6 951.5L840.4 966.2L840.3 966.2L824.9 950.8L839.3 935.5L840.3 933.8L855.6 920.1L840.3 904.8L824.9 903L809.6 902.7L794.2 904.8L789.2 920.1L794.2 934.5L809.6 935.5L794.2 935.6L778.9 936.6L763.5 942.2L748.4 950.8L763.6 966.2L763.5 981.5L748.2 981.5L732.8 966.2L732.8 950.8L732.9 945.2L748.2 935.5L717.5 935.5L715.9 950.8L702.1 963.9L701.2 966.2L702.1 981.5L707.1 996.8L706.6 1012.2L702.7 1027.5L702.1 1027.6L686.8 1040.7L685.5 1042.9L672.1 1058.2L657.1 1073.5L656.1 1088.9L640.8 1073.8L640.4 1073.5L625.4 1058.2L616.8 1042.9L610 1034.9L607.2 1027.5L594.7 1012.2L579.3 999.9L564 996.8L561.8 981.5L563.3 966.2L564 963.8L569.5 950.8L570.3 935.5L571.7 920.1L568.9 904.8L564 899.8L556.9 889.5L548.6 881.5L533.3 879.8L518 880.3L502.6 882.5L487.2 887.3L481.7 889.5L471.9 891.9L456.6 895.1L446.3 904.8L441.2 907.8L438.1 904.8L425.9 892.5L410.5 892.4L405.6 889.5L395.1 878.9L388.4 874.1L379.8 865.6L374.4 858.8L365.4 843.4L364.4 842.5L349.1 832.6L333.8 828.2L318.4 831.9L303 836.4L292.2 843.4L287.7 845.4L272.4 846.2L257 848.6L248.7 843.4L241.7 836.5L228.8 828.1L226.3 825.6L217 812.8L210.9 801.1L209.3 797.4L206 782.1L204.2 766.7L195.6 756.1L191.3 751.4L180.2 740.8L164.9 736.9L164.3 736.1L149.6 720.7L148.1 705.4L147.2 690L149.6 685.5L154.2 674.7L164.9 659.4L170 644L172.6 628.7L173.1 613.3L174.4 598L176.6 582.7L178.9 567.3L180.2 552L179.1 536.6L180.2 521.3L180.2 506L174.4 490.6L174.7 475.3L175.3 459.9L175.9 444.6L177.2 429.3L180.2 413.9L189.5 398.6L195.6 383.2L195.6 367.9L180.2 352.6L167.8 337.2L164.9 335.3L149.6 327.9L134.2 321.9L118.8 319.3L103.5 318.1M1515.7 1211.6L1515.7 1211.6M824.9 1119.6L824.9 1119.6M947.8 1119.6L947.7 1104.2L947.8 1088.9L963.1 1083.2L978.4 1079.8L993.8 1087.2L993.9 1088.9L978.7 1104.2L978.4 1104.4L963.1 1119.6L947.8 1119.6M840.3 1073.5L840.3 1073.5M103.5 981.5L118.8 970.2L125.8 966.2L134.2 963.3L149.6 958.8L164.9 962.8L180.2 964.5L195.6 965.3L210.9 965.9L212.9 966.2L226.3 973.9L241.7 979.8L245.2 981.5L257 990.6L272.4 995.2L287.7 996.8L278.3 1012.2L285 1027.5L287.7 1030.8L303 1042.9L318.4 1058.2L332.6 1073.5L333.8 1074.1L349.1 1073.5L357.1 1064.3M373 1051.9L379.8 1047.4L387.4 1042.9L395.1 1038L409.2 1027.5L410.5 1027.1L425.8 1027.5L441.2 1040.5L456.6 1042.6L456.9 1042.9L460.7 1058.2L471.9 1073.5L471.9 1088.9L487.2 1091.7L502.6 1094.8L518 1095.1L533.3 1088.9L548.6 1088.9L551.4 1104.2L548.6 1119.6L564 1126.1L575.3 1134.9L579.3 1136.9L594.7 1134.9L610 1134.7L610.2 1134.9L614.4 1150.2L616.9 1165.6L610 1180.9L625.4 1196.3L640.8 1182L656.1 1180.9L671.4 1176.6L686.8 1177.8L702.1 1179.9L717.5 1179L727.2 1180.9L732.8 1182.1L748.2 1181.4L749.8 1180.9L756.7 1173.2M774.5 1167.8L778.9 1168.7L794.2 1173.8L809.6 1174L810.7 1180.9L812.4 1196.3L824.9 1211.6L811.1 1226.9L809.8 1242.3L809.6 1257.6L796 1273L794.4 1288.3L794.2 1288.5L779.5 1303.6L778.9 1304.6L764.7 1319L763.5 1319.7L748.2 1334.3L732.9 1335L717.9 1349.7L717.5 1350.8L705.9 1365M798.3 843.4L809.6 849.1L815.3 843.4L812 835.2M803.3 837L798.3 843.4M381.7 812.8L395.1 825.1M415.1 823L425.8 812.8L432.3 797.4L431.8 782.1L425.8 766.7L428 751.4M450 745.2L456.6 743.8L471.9 736.1L471.9 720.7L456.6 711.4L441.2 712.9L425.8 718.3L410.5 720.7L410 736.1L410.5 739.5L420.6 751.4L410.5 754.5L395.1 760.7L385.3 766.7L379.8 770.8L374.7 782.1L364.4 797.4L379.8 811L381.7 812.8M787.5 812.8L794.2 825.2M815.4 823.8L825 818L828.4 812.8L824.9 802.9L809.6 799.3L794.2 802.5L787.5 812.8M943.4 797.4L947.8 801.8L963.1 808.7L978.4 812.8L993.8 805.1L1003.3 797.4L1005.5 782.1L1001.9 766.7L993.8 759.3L978.4 755.2L963.1 754.5L947.8 759.3L939.1 766.7L932.4 782.1L943.4 797.4M851.3 773.4L855.6 774.4L871 769.8L874.3 766.7L875.8 751.4L871 744.6L855.6 736.1L840.3 736.1L838.4 751.4L838.1 753.6M607 674.7L610 676.9L612.1 674.7L610 673.3L607 674.7M1634 1365L1623.1 1354.2L1621.5 1349.7L1607.8 1338L1604.1 1334.3L1592.5 1323.7L1583.7 1319L1561.8 1306.2L1559.9 1303.6L1546.4 1288.3L1531 1278.5L1515.7 1274.5L1500.3 1273L1485 1273L1469.6 1260.1L1454.3 1258.9L1448.3 1257.6L1441.3 1255.4M1423 1237.9L1422.4 1226.9L1414.6 1211.6L1408.2 1203.2L1402.9 1196.3L1392.9 1184.9L1377.5 1182.4L1362.2 1180.9L1346.8 1196.3L1346.3 1180.9L1331.5 1165.6L1316.1 1150.2L1300.8 1144.7L1285.5 1134.9L1270.1 1131L1254.8 1123.6L1243.6 1119.6L1239.4 1117.5L1224 1104.2L1212 1088.9L1209 1073.5L1208.7 1073.1L1193.3 1073.5L1178 1074.3L1175.5 1073.5L1162.6 1069.6L1147.3 1066.1L1132 1060.6L1125.7 1058.2L1116.6 1055.1L1101.2 1052.5L1085.9 1053.1L1070.5 1053.9L1055.2 1052.1L1039.8 1053.2L1024.5 1056.9L1023 1058.2L1013.6 1073.5L1009.1 1083.7L1004.1 1088.9L993.8 1096.6L986.3 1104.2L978.4 1109.4L968.2 1119.6L963.1 1122.2L947.8 1124.7L942.6 1119.6L938.7 1104.2L941.4 1088.9L944.6 1073.5L947.8 1067.5L963.1 1058.2L961.4 1042.9L947.8 1027.5L945.6 1012.2L932.4 996.8L917 1012.2L901.7 1012.1L887.9 998.4M853.7 997.9L840.3 1005.3L824.9 1009.3L809.6 1005.6L794.2 996.8L785.1 1012.2L778.9 1023.8L777.8 1027.5L778.9 1035.9L780.3 1042.9L778.9 1043.6L763.5 1051.4L754.5 1058.2L748.2 1059.9L732.9 1067.5L718.5 1073.5L717.5 1074.2L703.9 1088.9L702.1 1091.8L686.8 1094.8L671.4 1096L656.1 1100.8L640.8 1104.2L638.6 1119.6L640.8 1123.3L645.4 1134.9L656.1 1146L661.4 1150.2L671.4 1156.4L686.8 1161.4L702.1 1165.6L708.4 1150.2L715.5 1134.9L717.5 1128.4L726.9 1119.6L732.9 1115.4L748.2 1114.7L763.5 1112.8L774.4 1119.6L778.9 1125.4L790.1 1134.9L794.2 1138.6L809.6 1138.9L824.2 1150.2L824.8 1165.6L820.7 1180.9L823.3 1186.7M825.7 1220.1L824.9 1224.4L822.6 1226.9L813.5 1242.3L811.5 1257.6L809.6 1267.7L804.9 1273L797 1288.3L794.2 1293.6L784.4 1303.6L778.9 1311.8L771.8 1319L763.5 1324.6L753.3 1334.3L748.2 1338.9L732.9 1339.9L722.9 1349.7L717.5 1364.6L717.2 1365M824.9 1133.8L817.3 1119.6L815.7 1104.2L819 1088.9L815.7 1073.5L815.5 1058.2L824.9 1051.4L836.5 1042.9L840.3 1036L855.6 1042.1L855.7 1042.9L855.6 1058.2L846.1 1073.5L840.3 1084.6L833.9 1088.9L829.8 1104.2L829.8 1119.6L824.9 1133.8M103.5 889.5L118.8 901.7L134.2 903.4L137.2 904.8L149.6 912.7L161.1 917M193.7 927.3L195.6 928.4L210.9 935.5L226.3 941.8L241.7 943.6L257 945.5L266.9 950.8L272.4 953.7L287.7 958.2L303 964.8L305 966.2L318.4 981.5L333.8 981.5L335.3 996.8L333.8 1007.8L333.4 1012.2L333.8 1027.5L349.1 1027.5L364.4 1012.2L379.8 1000.3L395.1 996.8L410.5 996.3L411.6 996.8L425.9 1005.7L441.2 1012.2L456.5 1018.8L471.9 1027.5L487.2 1035.4L502.6 1027.5L518 1027.5L533.3 1027.5L519 1042.9L518 1058.2L533.3 1065L548.6 1071.1L564 1070L579.3 1072.7L594.7 1073.5L604 1088.9L610 1093.2L625.4 1103.9L640.8 1104.2L643.1 1088.9L640.8 1086.6L625.4 1073.5L610 1058.2L598.8 1042.9L594.7 1035L588.7 1027.5L579.3 1012.2L564 1012.2L548.6 1012.8L548 1012.2L548 996.8L548.6 990.7L550.2 981.5L556 966.2L560.6 950.8L561.9 935.5L564 920.1L560.2 904.8L549.8 889.5L548.6 888.4L533.3 885.4L518 885.9L502.6 888.9L500.7 889.5L487.2 892.9L471.9 896.2L456.6 899.9L451.3 904.8L441.2 910.7L435.1 904.8L425.8 895.6L410.5 895.3L400.7 889.5L395.1 883.9L381.4 874.1L379.8 872.5L368.9 858.8L364.4 851.7L358.3 843.4L349.1 837.1L333.8 831.9L318.4 834.7L303 841.5L300 843.4L287.7 848.7L272.4 849.3L257 851.1L244.5 843.4L241.7 840.6L226.3 830.7L223.4 828.1L212.3 812.8L210.9 810.1L205.2 797.4L201.9 782.1L199.7 766.7L195.6 761.7L186.3 751.4L180.2 745.6L164.9 741.7L160.6 736.1L149.6 724.6L146.4 720.7L141.1 705.4L134.2 690L145.1 674.7L149.6 659.4L164.9 644L167.5 628.7L167.1 613.3L168.5 598L169.6 582.7L170.7 567.3L171.4 552L170.4 536.6L168.1 521.3L164.9 506L160.6 490.6L158.8 475.3L156.3 459.9L157.4 444.6L161.2 429.3L164.9 423.1L169.4 413.9L180.2 398.6L185.7 383.2L183.2 367.9L180.2 364.9L169.6 352.6L164.9 347L154.2 337.2L149.6 334.9L134.2 327.9L118.8 323.4L103.5 321.9M395.1 812.8L410.5 816.5L414.4 812.8L425.8 797.4L415.5 782.1L410.5 776.6L406.1 776.5M379.2 790.8L378.7 797.4L379.8 798.4L395.1 812.8M953.5 797.4L963.1 803L978.5 807.6L993.8 797.4L997.8 782.1L993.8 766.7M959 764.5L954.8 766.7L947.8 769.8L937.5 782.1L947.8 793.9L953.5 797.4M441.2 736.1L452.2 736.2M440.1 720.7L441.2 736.1M1465.5 1365L1469.6 1360.6L1474.1 1365M1608.4 1365L1607.9 1349.7L1592.5 1334.3L1577.1 1332.5L1575.4 1331.3M1552.5 1307L1550.2 1303.6L1546.4 1299.3L1531 1288.3L1515.7 1285L1500.3 1284.3L1485 1283.7L1469.6 1273L1454.3 1277L1439 1284.6L1432.9 1288.3L1423.6 1301.9L1417.9 1288.3L1416 1273L1418.8 1257.6L1418.1 1242.3L1415.3 1226.9L1408.2 1217.4L1401.4 1211.6L1392.9 1201.5L1380.3 1196.3L1377.5 1195.1L1367.8 1196.3L1362.2 1196.5L1346.8 1199.5L1331.5 1201.1L1328.5 1196.3L1327.9 1180.9L1318.2 1165.6L1316.1 1163.5L1302.6 1150.2L1285.5 1144.3L1270.1 1140.5L1257.9 1134.9L1254.8 1133.5L1239.4 1134.9L1224 1126.7L1214 1119.6L1208.7 1113.3L1203.8 1104.2L1193.3 1092.9L1185.4 1088.9L1178 1086.6L1162.6 1083L1147.3 1078.2L1138 1073.5L1132 1071.5L1116.6 1064.4L1101.2 1059.9L1085.9 1058.9L1070.5 1058.5L1063.9 1058.2L1055.2 1057.2L1049.3 1058.2L1039.8 1059.2L1024.5 1064.1L1018 1073.5L1010.3 1088.9L1009.1 1090.1L993.8 1104.2L978.4 1114.5L973.3 1119.6L963.1 1124.8L947.8 1129.8L937.5 1119.6L932.4 1107.8L930.4 1104.2L932.4 1097.8L935.1 1088.9L938.5 1073.5L945.1 1058.2L947.8 1055.5L954.6 1042.9L947.8 1035.2L943.7 1027.5L932.4 1013L917 1014L901.7 1014.5L886.4 1022.4L881.2 1027.5L871 1032.9L861.2 1042.9L859.4 1058.2L855.6 1067.5L851.9 1073.5L845.1 1088.9L840.3 1096.5L836.3 1104.2L834.7 1119.6L830.9 1134.9L829.9 1150.2L828.9 1165.6L827 1180.9L828.3 1196.3L829.2 1211.6L826.6 1226.9L825 1231.1L817.1 1242.3L813.4 1257.6L810.3 1273L809.6 1274.7L799.7 1288.3L794.2 1298.6L789.3 1303.6L778.9 1319L763.5 1329.5L758.4 1334.3L748.2 1343.5L732.9 1344.8L727.9 1349.7L724.6 1365M1408.2 1328.3L1403.1 1319L1408.2 1309.3L1419.8 1319L1408.2 1328.3M901.7 1257.6L901.7 1257.6M690.1 1143.7L701.7 1134.9L702.1 1129.4L703.1 1119.6L702.1 1118.5L686.8 1109.6L671.4 1108.3L658.3 1119.6L662.8 1129.1M617 1088.9L625.4 1096.6L634.1 1088.9L625.4 1080.9L617.7 1073.5L610 1065.9L602.4 1073.5L610 1081.6L617 1088.9M763.5 1088.9L767.4 1090.2M767.9 1088.6L763.5 1088.9M546.9 1042.9L548.6 1058.2L562.3 1047.9M564 1036.7L548.6 1040.4L546.9 1042.9M103.5 874.1L118.8 871.5L126.1 874.1L134.2 877.8L149.6 889.5L164.9 895.1L180.2 895.7L210.9 904.8L226.3 915.3L241.7 920.1L257 913.1L271.4 904.8L272.4 904.4L273.6 904.8L287.7 913.5L303 920.1L307.6 935.5L318.4 945L330.3 950.8L333.8 952L349.1 950.8L364.4 966.2L379.8 968.7L395.1 973.7L403.9 976.2M435.4 990.9L441.2 994.3L447.4 996.8L456.6 1000.2L471.9 1009.7L476.6 1012.2L487.2 1016.8L502.6 1020.4L518 1019.8L529.7 1012.2L533.3 1008.6L540.6 996.8L541.5 981.5L548.6 966.2L552.8 950.8L555.3 935.5L556.3 920.1L553 904.8L548.6 898.4L533.3 891.6L518 892L502.6 895.1L487.2 898L471.9 900.5L456.6 904.7L456.4 904.8L441.2 913.7L432 904.8L425.8 898.7L410.5 898.2L395.8 889.5L395.1 888.9L379.8 878.4L374.8 874.1L364.4 860.3L363.2 858.8L351.7 843.4L349.1 841.6L333.8 835.7L318.4 837.6L306.5 843.4L303 846.8L287.7 852.1L272.4 852.5L257 853.7L241.7 845.5L239.6 843.4L226.3 834.9L218.5 828.1L210.9 817.6L207.6 812.8L201.1 797.4L197.9 782.1L195.6 768.6L195.2 766.7L181.3 751.4L180.2 750.4L164.9 746.6L156.9 736.1L149.6 728.4L143.2 720.7L134.2 705.4L130.5 690L134.2 678.9L137.2 674.7L141.9 659.4L149.6 654.2L159.8 644L161.8 628.7L159 613.3L162.5 598L161.8 582.7L161.7 567.3L161.7 552L160.8 536.6L155.1 521.3L151.4 506L149.6 490.6L142.3 475.3L134.2 459.9L134.2 444.6L148.5 429.3L149.6 427.8L160.5 413.9L164.9 408.2L172.6 398.6L174.4 383.2L170 367.9L164.9 361.7L158.1 352.6L149.6 344.6L141.2 337.2L134.2 333.9L118.8 328L103.5 326.2M395.1 797.4L410.5 800.5L412.7 797.4L410.5 794.6L395.1 797.4M963.1 797.4L978.5 802.5L986.1 797.4L989.2 782.1L978.5 771.6L963.1 770.7L947.8 775.9L942.6 782.1L947.8 788L963.1 797.4M1392.8 1365L1392.9 1349.7L1392.8 1334.3L1392.6 1319L1392.8 1303.6L1392.9 1303.3L1406.8 1288.3L1408.2 1273L1413.9 1257.6L1413 1242.3L1408.2 1226.9L1392.9 1212.9L1390.9 1211.6L1377.5 1201.9L1362.2 1201.9L1346.8 1202.7L1331.5 1211.6L1321.9 1196.3L1316.1 1184.3L1311.8 1183.3M1281.1 1196.3L1270.1 1196.4L1269.8 1196.3L1254.8 1181L1254.7 1180.9L1254.7 1165.6L1254.8 1165.2L1267.3 1165.6L1270.1 1165.6L1300.8 1165.6L1285.5 1165.6L1270.2 1150.2L1254.8 1148.3L1239.4 1141.7L1224 1137.1L1220 1134.9L1208.7 1124.6L1193.3 1119.6L1178 1104.2L1162.6 1090.8L1147.3 1089.5L1131.9 1089L1131.6 1088.9L1116.6 1073.5L1101.2 1064.3L1085.9 1061.3L1070.5 1060.2L1055.2 1059.7L1039.8 1062.5L1024.5 1070.6L1022.5 1073.5L1012.5 1088.9L1009.1 1092.7L996.5 1104.2L993.8 1106.6L978.4 1119.6L963.1 1127.4L947.8 1134.9L932.4 1119.6L923.9 1104.2L929.6 1088.9L932.4 1073.5L932.4 1058.2L947.8 1042.9L939.7 1027.5L932.4 1018.2L917 1015.8L901.7 1016.8L887.8 1027.5L886.4 1028.2L871 1038.5L866.7 1042.9L863.2 1058.2L857.5 1073.5L855.6 1081L852.8 1088.9L847.5 1104.2L840.3 1115.4L839.6 1119.6L834.9 1150.2L832.9 1165.6L830.6 1180.9L831 1196.3L831.3 1211.6L828.6 1226.9L824.9 1236.3L820.8 1242.3L815.4 1257.6L811.8 1273L809.6 1278.4L802.4 1288.3L794.2 1303.6L780.5 1319L763.5 1334.3L748.2 1348.1L732.9 1349.7L731.9 1365M1543 1365L1531 1350.9L1530.8 1349.7L1530.2 1334.3M1524.5 1301.9L1515.7 1300.1L1500.3 1298.4L1485 1295.7L1472.2 1288.3L1469.6 1286.7L1454.3 1287.4L1452.7 1288.3L1439 1303.6L1441.5 1319L1445.6 1334.3L1454.3 1346.3L1469.7 1347.4L1474.2 1349.7L1485 1360.4L1486.8 1365M901.7 1258.1L901.1 1257.6L901.7 1257L902.2 1257.6L901.7 1258.1M932.4 1211.7L932.4 1211.4L932.5 1211.6L932.4 1211.7M947.8 1196.4L947.5 1196.3L947.8 1196L947.8 1196.4M886.4 1134.9L871 1119.6L886.4 1119.6L886.4 1134.9M671.1 1119.6L671.4 1120.2L686.8 1134.9L688 1119.6L686.8 1118.8L671.4 1119.3L671.1 1119.6M624.8 1088.9L625.4 1089.4L626 1088.9L625.4 1088.3L624.8 1088.9M103.5 854.1L118.8 856.4L134.2 858.8L149.6 871.5L158.3 873M191.2 884.1L195.6 884.5L210.9 887.2L232 889.5L241.7 904.8L245.6 889.5L257 874.1L272.4 874.1L287.7 886.9L292.1 889.5L303 898.4L309.4 904.8L318.4 913.6L333.8 920.1L349.1 934.1L364.4 935.5L379.8 947.2L395.1 949.9L396.3 950.8L410.5 961.6L425.8 966.2L441.2 977.9L456.6 981.5L471.9 994.2L478.8 996.8L487.2 1001.9L499.6 1012.2L502.6 1013.3L518 1012.2L533.3 996.8L533.3 981.5L541 966.2L543.7 950.8L548.6 935.5L548.6 920.1L543.3 904.8L533.3 899.1L518 899L502.6 901.3L487.2 903.1L471.9 904.8L456.6 910.1L441.2 916.6L428.9 904.8L425.8 901.7L410.5 901.1L395.1 893.6L388 889.5L379.8 883.9L368.3 874.1L364.4 869L356.1 858.8L349.1 849.2L343.7 843.4L333.8 839.4L318.4 840.4L312.2 843.4L303 852.4L287.7 855.4L272.4 855.6L257 856.2L241.7 852.1L232.9 843.4L226.3 839.2L213.6 828.1L210.9 824.4L202.7 812.8L197.1 797.4L195.6 790.5L193.2 782.1L189.5 766.7L180.2 756.4L164.9 751.4L153.2 736.1L149.6 732.2L140.1 720.7L134.2 710.7L130.5 705.4L126.7 690L131.4 674.7L134.2 659.4L149.6 649.1L154.7 644L155.7 628.7L149.6 613.3L156 598L152.1 582.7L150.8 567.3L149.6 552L149.6 536.6L134.2 523.1L118.8 521.3L125 506L122.8 490.6L119.1 475.3L118.8 474.8L103.5 475.3M947.8 782.1L960.9 784.2M960.9 780.5L947.8 782.1M103.5 455.5L118.8 450.2L121.5 444.6L134.2 436.9L141.3 429.3L149.6 418.4L153.1 413.9L154.4 412.2M160.4 381.3L155.9 367.9L149.6 358.7L146.9 352.6L134.2 341L129.5 337.2L118.8 332.6L103.5 330.5M1391.5 1365L1392 1349.7L1392.1 1334.3L1391.6 1319L1391.8 1303.6L1392.9 1299.8L1403.5 1288.3L1406.4 1273L1408.2 1259.8L1409.1 1257.6L1408.2 1246.9L1408 1242.3L1402.1 1226.9L1392.9 1218.5L1382.3 1211.6L1377.5 1208.1L1362.2 1207.2L1346.8 1205.9L1337 1211.6L1331.5 1212.8L1329 1211.6L1316.1 1196.6L1314.7 1196.3L1300.8 1187.7L1292.2 1196.3L1285.5 1197.9L1270.1 1198.1L1266 1196.3L1254.8 1184.9L1252.1 1180.9L1250.4 1165.6L1242.7 1150.2L1239.4 1148.6L1224 1140.7L1213.2 1134.9L1208.7 1130.8L1193.3 1121.1L1178 1105.7L1174.2 1104.2L1162.6 1094.1L1147.3 1091.4L1132 1090.4L1128.8 1088.9L1116.6 1076.4L1109.3 1073.5L1101.2 1068.7L1085.9 1063.7L1070.5 1061.9L1055.2 1061.6L1039.8 1065.7L1027.3 1073.5L1024.5 1075.3L1014.8 1088.9L1009.1 1095.2L999.3 1104.2L993.8 1109L981.3 1119.6L978.5 1121.6L963.1 1130L953.1 1134.9L947.8 1136.8L942.1 1134.9L932.4 1125.2L921.6 1119.6L917.3 1104.2L924.8 1088.9L930 1073.5L931.3 1058.2L932.4 1055.1L944.6 1042.9L935.6 1027.5L932.4 1023.4L917 1017.6L901.7 1019.1L890.8 1027.5L886.3 1029.7L871.3 1042.9L871 1045.4L867 1058.2L862.8 1073.5L861.8 1088.9L869.8 1104.2L871 1105L886.4 1111.2L895.7 1119.6L891.3 1134.9L886.4 1137.8L871 1136L860.8 1134.9L855.6 1132.3L852.7 1134.9L840.3 1148.1L837 1165.6L834.2 1180.9L833.7 1196.3L833.4 1211.6L830.7 1226.9L824.9 1241.5L824.4 1242.3L817.3 1257.6L813.2 1273L809.6 1282.1L805.1 1288.3L795.7 1303.6L794.2 1305.4L782.1 1319L765.2 1334.3L763.5 1346.2L758.8 1349.7L752.3 1365M1523.6 1365L1523.7 1349.7L1518.9 1334.3M1498.2 1309.4L1485 1305.6L1476.2 1305.6M1462.4 1330.5L1463.8 1334.3L1469.7 1338.2L1485 1347.2L1486.7 1349.7L1494 1365M901.7 1258.6L900.4 1257.6L901.7 1256.3L902.7 1257.6L901.7 1258.6M947.8 1197L946.7 1196.3L947.8 1195.1L948.3 1196.3L947.8 1197M501 996.8L502.6 998.2L506.3 996.8L518 992.1L523.4 981.5L533.3 966.2L533.3 950.8L537.1 935.5L535.3 920.1L533.3 914.4L518 907.5L502.6 908.6L487.3 909.2L471.9 910.7L456.5 915.6L441.2 919.6L425.8 904.8L410.5 904L395.1 898.3L379.8 889.5L364.5 878.3L362.1 874.1L349.1 858.8L334.6 843.4L333.8 843.1L318.4 843.2L318 843.4L303 857.9L287.7 858.8L287.7 874.1L303 880.9L307.8 889.5L318.4 900L323.9 904.8L333.8 912L344.5 920.1L349.1 924.3L364.4 929.8L377.9 934.8M408.8 949.5L410.5 950.8L425.8 954L438.4 966.2L441.2 968.3L456.5 974.1L468.6 981.5L471.9 984.2L487.2 991.1L501 996.8M103.5 843.4L118.8 848.7L134.2 852.2L146 858.8L149.6 861.7L164.9 865L180.2 874.1L195.6 874.8L210.9 874.7L226.3 874.3L227.2 874.1L230.1 871.2M257 858.8L257 858.8M227.8 845L226.3 843.4L210.9 838.1L206.1 828.1L197.9 812.8L195.6 806.2L192.2 797.4L187.8 782.1L183.8 766.7L180.2 762.7L164.9 755.6L162 751.4L149.6 736.1L136.9 720.7L134.2 716.1L126.9 705.4L123 690L126.9 674.7L131 659.4L134.2 644L149.6 628.7L134.2 613.3L149.6 598L139.1 582.7L134.2 574.2L129.5 567.3L118.8 552L105 536.6L103.5 535.5M103.5 440.4L118.8 438.7L134.2 429.3L146.7 413.9L147.1 411.7M147.2 376.7L145.8 367.9L137.6 352.6L134.2 349.5L118.8 337.2L103.5 334.8"/>
<text class="cl" transform="translate(210.9 229.8) rotate(0)" y="7.1">-24</text>
<text class="cl" transform="translate(298.7 305.4) rotate(13.7)" y="7.1">-8</text>
<text class="cl" transform="translate(378.8 335.3) rotate(59.6)" y="7.1">-10</text>
<text class="cl" transform="translate(807.4 355.2) rotate(2.9)" y="7.1">-22</text>
<text class="cl" transform="translate(871 490.6) rotate(-12.6)" y="7.1">-6</text>
<text class="cl" transform="translate(842.5 521.1) rotate(-8.9)" y="7.1">-4</text>
<text class="cl" transform="translate(807.4 564.7) rotate(-8.3)" y="7.1">-2</text>
<text class="cl" transform="translate(688.5 556.4) rotate(66.5)" y="7.1">2</text>
<text class="cl" transform="translate(667.7 590.1) rotate(63.3)" y="7.1">0</text>
<text class="cl" transform="translate(408.3 644) rotate(0)" y="7.1">0</text>
<text class="cl" transform="translate(149.2 394.2) rotate(89.4)" y="7.1">16</text>
<text class="cl" transform="translate(164.9 398.6) rotate(-79)" y="7.1">14</text>
<text class="cl" transform="translate(608.1 668.6) rotate(-3.2)" y="7.1">6</text>
<text class="cl" transform="translate(684.6 688.2) rotate(0)" y="7.1">6</text>
<text class="cl" transform="translate(1042 336.8) rotate(-13.1)" y="7.1">-20</text>
<text class="cl" transform="translate(993.8 380.1) rotate(-10.5)" y="7.1">-16</text>
<text class="cl" transform="translate(1189 352.6) rotate(0)" y="7.1">-14</text>
<text class="cl" transform="translate(1360 342.4) rotate(-15.1)" y="7.1">-12</text>
<text class="cl" transform="translate(1478.8 196.3) rotate(-43.4)" y="7.1">-18</text>
<text class="cl" transform="translate(1597.6 137.8) rotate(0)" y="7.1">-18</text>
<text class="cl" transform="translate(1513.5 482.9) rotate(-5.7)" y="7.1">-8</text>
<text class="cl" transform="translate(1239.4 705.4) rotate(-42.6)" y="7.1">-2</text>
<text class="cl" transform="translate(292.1 767.7) rotate(16.4)" y="7.1">2</text>
<text class="cl" transform="translate(174.5 879.6) rotate(26.8)" y="7.1">14</text>
<text class="cl" transform="translate(178.1 919.9) rotate(12.3)" y="7.1">10</text>
<text class="cl" transform="translate(395.1 938.6) rotate(24.8)" y="7.1">16</text>
<text class="cl" transform="translate(419.8 982.4) rotate(25.7)" y="7.1">12</text>
<text class="cl" transform="translate(364.5 1057.4) rotate(-37.3)" y="7.1">8</text>
<text class="cl" transform="translate(225 1055.7) rotate(-15)" y="7.1">6</text>
<text class="cl" transform="translate(303 1119.6) rotate(5.9)" y="7.1">6</text>
<text class="cl" transform="translate(134.2 1120.4) rotate(-4.9)" y="7.1">6</text>
<text class="cl" transform="translate(164.9 1206.6) rotate(-13)" y="7.1">2</text>
<text class="cl" transform="translate(297.9 1259.5) rotate(58.6)" y="7.1">2</text>
<text class="cl" transform="translate(640.8 1256.3) rotate(2.8)" y="7.1">4</text>
<text class="cl" transform="translate(584.8 775.3) rotate(-56.7)" y="7.1">4</text>
<text class="cl" transform="translate(734.6 722.5) rotate(23)" y="7.1">6</text>
<text class="cl" transform="translate(793 746.5) rotate(80)" y="7.1">8</text>
<text class="cl" transform="translate(836.9 764.5) rotate(-83.6)" y="7.1">8</text>
<text class="cl" transform="translate(805.2 826.7) rotate(-1.7)" y="7.1">8</text>
<text class="cl" transform="translate(871 996.8) rotate(0)" y="7.1">10</text>
<text class="cl" transform="translate(579.3 935.5) rotate(90)" y="7.1">6</text>
<text class="cl" transform="translate(456.6 720.7) rotate(52.8)" y="7.1">10</text>
<text class="cl" transform="translate(439 747.7) rotate(-16)" y="7.1">8</text>
<text class="cl" transform="translate(389.4 778.4) rotate(-17.9)" y="7.1">10</text>
<text class="cl" transform="translate(455 817) rotate(0)" y="7.1">2</text>
<text class="cl" transform="translate(406.1 826.8) rotate(-3.3)" y="7.1">8</text>
<text class="cl" transform="translate(379.8 858.8) rotate(0)" y="7.1">6</text>
<text class="cl" transform="translate(240.1 857.2) rotate(28.3)" y="7.1">16</text>
<text class="cl" transform="translate(579.3 1042.7) rotate(51.5)" y="7.1">12</text>
<text class="cl" transform="translate(610 1073.5) rotate(0)" y="7.1">14</text>
<text class="cl" transform="translate(593 1086) rotate(20)" y="7.1">8</text>
<text class="cl" transform="translate(660 1076) rotate(70)" y="7.1">6</text>
<text class="cl" transform="translate(673.4 1141) rotate(28.8)" y="7.1">12</text>
<text class="cl" transform="translate(763.5 1165.6) rotate(-28)" y="7.1">8</text>
<text class="cl" transform="translate(784.5 1088.9) rotate(64.5)" y="7.1">12</text>
<text class="cl" transform="translate(826.2 1202.8) rotate(84.4)" y="7.1">10</text>
<text class="cl" transform="translate(760 1263.4) rotate(70.4)" y="7.1">6</text>
<text class="cl" transform="translate(1287.6 742.3) rotate(13.1)" y="7.1">0</text>
<text class="cl" transform="translate(1518.3 826.9) rotate(-53.6)" y="7.1">0</text>
<text class="cl" transform="translate(1604 962.7) rotate(16)" y="7.1">2</text>
<text class="cl" transform="translate(1268.6 889.5) rotate(-64.9)" y="7.1">2</text>
<text class="cl" transform="translate(1110.6 906.7) rotate(26.4)" y="7.1">4</text>
<text class="cl" transform="translate(912.4 843.4) rotate(-55.4)" y="7.1">6</text>
<text class="cl" transform="translate(921.6 899) rotate(-38.7)" y="7.1">6</text>
<text class="cl" transform="translate(1361.3 1012.2) rotate(58.8)" y="7.1">4</text>
<text class="cl" transform="translate(1070.9 1027.5) rotate(-75.1)" y="7.1">4</text>
<text class="cl" transform="translate(1147.5 1027.5) rotate(-52.7)" y="7.1">4</text>
<text class="cl" transform="translate(1294.7 1187.1) rotate(-45)" y="7.1">14</text>
<text class="cl" transform="translate(1627.5 1170.7) rotate(12.9)" y="7.1">6</text>
<text class="cl" transform="translate(1623.1 1276) rotate(-22.4)" y="7.1">6</text>
<text class="cl" transform="translate(931.9 1211.6) rotate(0)" y="7.1">16</text>
<text class="cl" transform="translate(978.4 781.1) rotate(40.7)" y="7.1">14</text>
<text class="cl" transform="translate(976.3 762.8) rotate(6.9)" y="7.1">10</text>
<text class="cl" transform="translate(272.4 1303.6) rotate(27.6)" y="7.1">0</text>
<text class="cl" transform="translate(331.8 1345.1) rotate(-34)" y="7.1">0</text>
<text class="cl" transform="translate(441.2 1343.6) rotate(-34.4)" y="7.1">0</text>
<text class="cl" transform="translate(134.2 1319) rotate(-31.5)" y="7.1">-2</text>
<text class="cl" transform="translate(110.1 1335.3) rotate(8)" y="7.1">-2</text>
<text class="cl" transform="translate(256.8 1360) rotate(0)" y="7.1">0</text>
<text class="cl" transform="translate(643.5 1332.8) rotate(-40.7)" y="7.1">4</text>
<text class="cl" transform="translate(1423.6 1255.6) rotate(42.8)" y="7.1">10</text>
<text class="cl" transform="translate(1424.4 1349) rotate(0)" y="7.1">10</text>
<text class="cl" transform="translate(1462.5 1313.9) rotate(-55.7)" y="7.1">16</text>
<text class="cl" transform="translate(1511.9 1319) rotate(51.3)" y="7.1">16</text>
<text class="cl" transform="translate(1531.1 1316.8) rotate(-87.4)" y="7.1">14</text>
<text class="cl" transform="translate(1561.8 1321.5) rotate(47.4)" y="7.1">12</text>
<text class="cl" transform="translate(840.3 770.9) rotate(26.4)" y="7.1">8</text>
<text class="cl" transform="translate(808 562.5) rotate(-5)" y="7.1">2</text>

</g>
<rect x="102.0" y="137.0" width="1536.0" height="1229.0" fill="none" stroke="#000" stroke-width="2"/>
<text class="k" text-anchor="middle" x="410.3" y="1396.7">90°W</text>
<text class="k" text-anchor="middle" x="717.3" y="1396.7">80°W</text>
<text class="k" text-anchor="middle" x="1024.3" y="1396.7">70°W</text>
<text class="k" text-anchor="middle" x="1331.3" y="1396.7">60°W</text>
<text class="k" text-anchor="end" x="90.2" y="1218.5">5°N</text>
<text class="k" text-anchor="end" x="90.2" y="1065.1">10°N</text>
<text class="k" text-anchor="end" x="90.2" y="911.7">15°N</text>
<text class="k" text-anchor="end" x="90.2" y="758.3">20°N</text>
<text class="k" text-anchor="end" x="90.2" y="604.9">25°N</text>
<text class="k" text-anchor="end" x="90.2" y="451.5">30°N</text>
<text class="k" text-anchor="end" x="90.2" y="298.1">35°N</text>
<rect x="1675.0" y="1287.2" width="60.0" height="60.1" fill="#5e4fa2"/>
<rect x="1675.0" y="1227.6" width="60.0" height="60.1" fill="#486cb0"/>
<rect x="1675.0" y="1168.1" width="60.0" height="60.1" fill="#3389bd"/>
<rect x="1675.0" y="1108.5" width="60.0" height="60.1" fill="#50a9af"/>
<rect x="1675.0" y="1049" width="60.0" height="60.1" fill="#6bc4a5"/>
<rect x="1675.0" y="989.4" width="60.0" height="60.1" fill="#91d3a4"/>
<rect x="1675.0" y="929.9" width="60.0" height="60.1" fill="#b3e0a2"/>
<rect x="1675.0" y="870.3" width="60.0" height="60.1" fill="#d1ed9c"/>
<rect x="1675.0" y="810.8" width="60.0" height="60.1" fill="#ebf7a0"/>
<rect x="1675.0" y="751.2" width="60.0" height="60.1" fill="#f8fcb4"/>
<rect x="1675.0" y="691.7" width="60.0" height="60.1" fill="#fff7b2"/>
<rect x="1675.0" y="632.1" width="60.0" height="60.1" fill="#fee797"/>
<rect x="1675.0" y="572.6" width="60.0" height="60.1" fill="#fed07e"/>
<rect x="1675.0" y="513" width="60.0" height="60.1" fill="#fdb768"/>
<rect x="1675.0" y="453.5" width="60.0" height="60.1" fill="#fa9857"/>
<rect x="1675.0" y="393.9" width="60.0" height="60.1" fill="#f57547"/>
<rect x="1675.0" y="334.4" width="60.0" height="60.1" fill="#e85b48"/>
<rect x="1675.0" y="274.8" width="60.0" height="60.1" fill="#d7414e"/>
<rect x="1675.0" y="215.3" width="60.0" height="60.1" fill="#bc2249"/>
<rect x="1675.0" y="155.7" width="60.0" height="60.1" fill="#9e0142"/>
<rect x="1675.0" y="156.0" width="60.0" height="1191.0" fill="none" stroke="#000" stroke-width="2"/>
<text class="k" x="1752.5" y="1356.9">−24</text>
<text class="k" x="1752.5" y="1297.4">−22</text>
<text class="k" x="1752.5" y="1237.8">−20</text>
<text class="k" x="1752.5" y="1178.2">−18</text>
<text class="k" x="1752.5" y="1118.7">−16</text>
<text class="k" x="1752.5" y="1059.2">−14</text>
<text class="k" x="1752.5" y="999.6">−12</text>
<text class="k" x="1752.5" y="940.1">−10</text>
<text class="k" x="1752.5" y="880.5">−8</text>
<text class="k" x="1752.5" y="821">−6</text>
<text class="k" x="1752.5" y="761.4">−4</text>
<text class="k" x="1752.5" y="701.9">−2</text>
<text class="k" x="1752.5" y="642.3">0</text>
<text class="k" x="1752.5" y="582.8">2</text>
<text class="k" x="1752.5" y="523.2">4</text>
<text class="k" x="1752.5" y="463.6">6</text>
<text class="k" x="1752.5" y="404.1">8</text>
<text class="k" x="1752.5" y="344.6">10</text>
<text class="k" x="1752.5" y="285">12</text>
<text class="k" x="1752.5" y="225.4">14</text>
<text class="k" x="1752.5" y="165.9">16</text>
<path d="M1735.0 1347h9.5M1735.0 1287.5h9.5M1735.0 1227.9h9.5M1735.0 1168.3h9.5M1735.0 1108.8h9.5M1735.0 1049.2h9.5M1735.0 989.7h9.5M1735.0 930.2h9.5M1735.0 870.6h9.5M1735.0 811.1h9.5M1735.0 751.5h9.5M1735.0 692h9.5M1735.0 632.4h9.5M1735.0 572.9h9.5M1735.0 513.3h9.5M1735.0 453.8h9.5M1735.0 394.2h9.5M1735.0 334.7h9.5M1735.0 275.1h9.5M1735.0 215.5h9.5M1735.0 156h9.5" stroke="#000" stroke-width="2" fill="none"/>
<text class="k" style="font-size:25.08px" text-anchor="middle" transform="translate(1834.3 752.9) rotate(-90)">Anomalía de θe de saturación media 1000–700 hPa [°C]</text>
</svg></body></html>
